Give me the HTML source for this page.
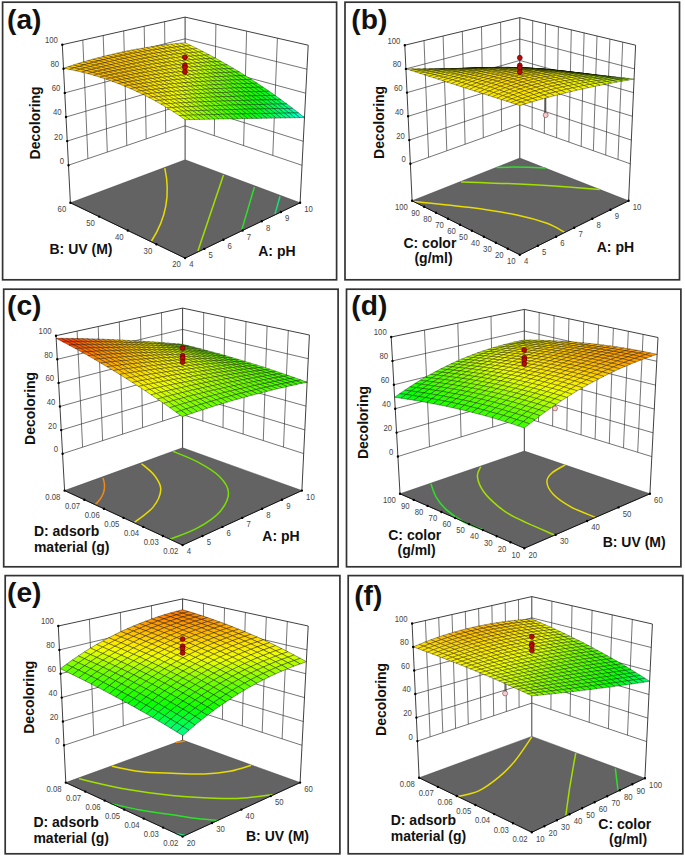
<!DOCTYPE html>
<html lang="en"><head><meta charset="utf-8"><title>Response surface plots (a)-(f)</title>
<style>
html,body{margin:0;padding:0;background:#fff}
body{width:685px;height:856px;overflow:hidden}
svg{display:block}
text{font-family:"Liberation Sans",sans-serif}
.t{font-size:9px;fill:#444}
.b{font-size:14px;font-weight:bold;fill:#111}
.h{font-size:28.2px;font-weight:bold;fill:#111}
</style></head><body>
<svg width="685" height="856" viewBox="0 0 685 856">
<rect width="685" height="856" fill="#fff"/>
<rect x="2.6" y="2.2" width="334" height="277.6" fill="#fff" stroke="#333" stroke-width="1.7"/>
<path d="M70.4 202.8L185.1 258.1L300.1 202.8L185.1 159.8Z" fill="#636363" stroke="#444" stroke-width=".5"/>
<path d="M164.8 168.1Q173.5 207.1 151.5 241" fill="none" stroke="#e8dc00" stroke-width="1.5"/>
<path d="M223.5 174.9L197.9 251" fill="none" stroke="#a2e000" stroke-width="1.5"/>
<path d="M254.4 187L241.6 230.4" fill="none" stroke="#2ee02a" stroke-width="1.5"/>
<path d="M280 196.3L275 214.1" fill="none" stroke="#18e07a" stroke-width="1.5"/>
<path d="M87.9 158.6L82.8 40.1M107.3 152.1L103.2 35.5M126.8 145.5L123.7 30.9M146.2 138.9L144.2 26.3M165.7 132.4L164.6 21.7M272.8 155.4L277.4 38.2M243.6 145.6L246.6 31.2M214.3 135.7L215.9 24.1M68.5 165.2L185.1 125.8L302 165.3M67.2 141.1L185.1 104.1L303.3 141.3M66 117L185.1 82.3L304.5 117.3M64.8 92.9L185.1 60.6L305.7 93.2M63.5 68.8L185.1 38.8L307 69.2" fill="none" stroke="#3a3a3a" stroke-width=".7"/>
<path d="M62.3 44.7L185.1 17.1L308.2 45.2M70.4 202.8L62.3 44.7M185.1 159.8L185.1 17.1M300.1 202.8L308.2 45.2" fill="none" stroke="#2a2a2a" stroke-width=".9"/>
<path d="M70.4 202.8L185.1 258.1L300.1 202.8" fill="none" stroke="#111" stroke-width="1"/>
<g stroke="#000" stroke-opacity=".72" stroke-width=".48" stroke-linejoin="round">
<path d="M186.3 46L191.2 45.6L185.1 42.7L180.2 43.2Z" fill="#f7f300"/>
<path d="M181.5 46.5L186.3 46L180.2 43.2L175.4 43.7Z" fill="#f9ef00"/>
<path d="M192.4 49L197.2 48.6L191.2 45.6L186.3 46Z" fill="#f3fb00"/>
<path d="M176.6 47L181.5 46.5L175.4 43.7L170.5 44.2Z" fill="#fcec00"/>
<path d="M187.6 49.4L192.4 49L186.3 46L181.5 46.5Z" fill="#f5f600"/>
<path d="M198.5 52L203.3 51.7L197.2 48.6L192.4 49Z" fill="#e7ff00"/>
<path d="M171.8 47.5L176.6 47L170.5 44.2L165.7 44.8Z" fill="#fee800"/>
<path d="M182.7 49.8L187.6 49.4L181.5 46.5L176.6 47Z" fill="#f8f200"/>
<path d="M193.6 52.4L198.5 52L192.4 49L187.6 49.4Z" fill="#f1fe00"/>
<path d="M204.5 55.2L209.4 54.9L203.3 51.7L198.5 52Z" fill="#d2ff00"/>
<path d="M166.9 48.1L171.8 47.5L165.7 44.8L160.8 45.4Z" fill="#ffe400"/>
<path d="M177.8 50.3L182.7 49.8L176.6 47L171.8 47.5Z" fill="#faee00"/>
<path d="M188.8 52.8L193.6 52.4L187.6 49.4L182.7 49.8Z" fill="#f4f900"/>
<path d="M199.7 55.5L204.5 55.2L198.5 52L193.6 52.4Z" fill="#dfff00"/>
<path d="M162 48.7L166.9 48.1L160.8 45.4L155.9 46.1Z" fill="#ffde00"/>
<path d="M210.6 58.4L215.4 58.1L209.4 54.9L204.5 55.2Z" fill="#bcff00"/>
<path d="M173 50.9L177.8 50.3L171.8 47.5L166.9 48.1Z" fill="#fceb00"/>
<path d="M183.9 53.2L188.8 52.8L182.7 49.8L177.8 50.3Z" fill="#f6f500"/>
<path d="M194.9 55.9L199.7 55.5L193.6 52.4L188.8 52.8Z" fill="#ecff00"/>
<path d="M157.2 49.4L162 48.7L155.9 46.1L151.1 46.8Z" fill="#ffd900"/>
<path d="M205.7 58.7L210.6 58.4L204.5 55.2L199.7 55.5Z" fill="#caff00"/>
<path d="M168.1 51.4L173 50.9L166.9 48.1L162 48.7Z" fill="#fee700"/>
<path d="M216.6 61.7L221.4 61.5L215.4 58.1L210.6 58.4Z" fill="#a4ff00"/>
<path d="M179.1 53.7L183.9 53.2L177.8 50.3L173 50.9Z" fill="#f8f100"/>
<path d="M190 56.2L194.9 55.9L188.8 52.8L183.9 53.2Z" fill="#f2fc00"/>
<path d="M200.9 59L205.7 58.7L199.7 55.5L194.9 55.9Z" fill="#d7ff00"/>
<path d="M152.3 50.1L157.2 49.4L151.1 46.8L146.2 47.6Z" fill="#ffd500"/>
<path d="M163.3 52L168.1 51.4L162 48.7L157.2 49.4Z" fill="#ffe200"/>
<path d="M211.8 61.9L216.6 61.7L210.6 58.4L205.7 58.7Z" fill="#b3ff00"/>
<path d="M174.2 54.2L179.1 53.7L173 50.9L168.1 51.4Z" fill="#fbed00"/>
<path d="M222.6 65.1L227.5 64.9L221.4 61.5L216.6 61.7Z" fill="#8cff00"/>
<path d="M185.2 56.7L190 56.2L183.9 53.2L179.1 53.7Z" fill="#f4f800"/>
<path d="M147.4 50.8L152.3 50.1L146.2 47.6L141.3 48.4Z" fill="#ffd100"/>
<path d="M196.1 59.3L200.9 59L194.9 55.9L190 56.2Z" fill="#e4ff00"/>
<path d="M158.4 52.7L163.3 52L157.2 49.4L152.3 50.1Z" fill="#ffdd00"/>
<path d="M207 62.2L211.8 61.9L205.7 58.7L200.9 59Z" fill="#c2ff00"/>
<path d="M169.4 54.8L174.2 54.2L168.1 51.4L163.3 52Z" fill="#fdea00"/>
<path d="M217.8 65.3L222.6 65.1L216.6 61.7L211.8 61.9Z" fill="#9cff00"/>
<path d="M180.3 57.1L185.2 56.7L179.1 53.7L174.2 54.2Z" fill="#f7f300"/>
<path d="M228.7 68.6L233.5 68.4L227.5 64.9L222.6 65.1Z" fill="#75ff00"/>
<path d="M142.5 51.6L147.4 50.8L141.3 48.4L136.4 49.2Z" fill="#ffcd00"/>
<path d="M191.2 59.7L196.1 59.3L190 56.2L185.2 56.7Z" fill="#f0ff00"/>
<path d="M153.5 53.4L158.4 52.7L152.3 50.1L147.4 50.8Z" fill="#ffd800"/>
<path d="M202.1 62.5L207 62.2L200.9 59L196.1 59.3Z" fill="#cfff00"/>
<path d="M213 65.6L217.8 65.3L211.8 61.9L207 62.2Z" fill="#abff00"/>
<path d="M164.5 55.4L169.4 54.8L163.3 52L158.4 52.7Z" fill="#ffe600"/>
<path d="M175.4 57.6L180.3 57.1L174.2 54.2L169.4 54.8Z" fill="#f9f000"/>
<path d="M223.9 68.8L228.7 68.6L222.6 65.1L217.8 65.3Z" fill="#83ff00"/>
<path d="M186.4 60.2L191.2 59.7L185.2 56.7L180.3 57.1Z" fill="#f3fa00"/>
<path d="M137.7 52.5L142.5 51.6L136.4 49.2L131.6 50.1Z" fill="#ffca00"/>
<path d="M234.7 72.1L239.5 72L233.5 68.4L228.7 68.6Z" fill="#63ff00"/>
<path d="M148.7 54.1L153.5 53.4L147.4 50.8L142.5 51.6Z" fill="#ffd400"/>
<path d="M197.3 62.9L202.1 62.5L196.1 59.3L191.2 59.7Z" fill="#ddff00"/>
<path d="M159.6 56L164.5 55.4L158.4 52.7L153.5 53.4Z" fill="#ffe100"/>
<path d="M208.2 65.8L213 65.6L207 62.2L202.1 62.5Z" fill="#baff00"/>
<path d="M170.6 58.2L175.4 57.6L169.4 54.8L164.5 55.4Z" fill="#fbec00"/>
<path d="M219 69L223.9 68.8L217.8 65.3L213 65.6Z" fill="#93ff00"/>
<path d="M132.8 53.3L137.7 52.5L131.6 50.1L126.7 51.1Z" fill="#ffc700"/>
<path d="M181.5 60.6L186.4 60.2L180.3 57.1L175.4 57.6Z" fill="#f5f600"/>
<path d="M229.9 72.3L234.7 72.1L228.7 68.6L223.9 68.8Z" fill="#6eff00"/>
<path d="M143.8 54.9L148.7 54.1L142.5 51.6L137.7 52.5Z" fill="#ffd000"/>
<path d="M192.4 63.3L197.3 62.9L191.2 59.7L186.4 60.2Z" fill="#e9ff00"/>
<path d="M240.7 75.8L245.4 75.7L239.5 72L234.7 72.1Z" fill="#50ff00"/>
<path d="M154.8 56.7L159.6 56L153.5 53.4L148.7 54.1Z" fill="#ffdc00"/>
<path d="M203.3 66.1L208.2 65.8L202.1 62.5L197.3 62.9Z" fill="#c8ff00"/>
<path d="M165.7 58.8L170.6 58.2L164.5 55.4L159.6 56Z" fill="#fde900"/>
<path d="M214.2 69.2L219 69L213 65.6L208.2 65.8Z" fill="#a3ff00"/>
<path d="M127.9 54.3L132.8 53.3L126.7 51.1L121.8 52.1Z" fill="#ffc500"/>
<path d="M176.7 61.1L181.5 60.6L175.4 57.6L170.6 58.2Z" fill="#f8f200"/>
<path d="M225.1 72.5L229.9 72.3L223.9 68.8L219 69Z" fill="#7bff00"/>
<path d="M138.9 55.7L143.8 54.9L137.7 52.5L132.8 53.3Z" fill="#ffcd00"/>
<path d="M187.6 63.7L192.4 63.3L186.4 60.2L181.5 60.6Z" fill="#f1fd00"/>
<path d="M235.9 75.9L240.7 75.8L234.7 72.1L229.9 72.3Z" fill="#5cff00"/>
<path d="M149.9 57.4L154.8 56.7L148.7 54.1L143.8 54.9Z" fill="#ffd700"/>
<path d="M198.5 66.5L203.3 66.1L197.3 62.9L192.4 63.3Z" fill="#d5ff00"/>
<path d="M246.6 79.6L251.4 79.4L245.4 75.7L240.7 75.8Z" fill="#3dff00"/>
<path d="M160.9 59.4L165.7 58.8L159.6 56L154.8 56.7Z" fill="#ffe500"/>
<path d="M209.4 69.5L214.2 69.2L208.2 65.8L203.3 66.1Z" fill="#b1ff00"/>
<path d="M123.1 55.3L127.9 54.3L121.8 52.1L116.9 53.2Z" fill="#ffc300"/>
<path d="M171.8 61.6L176.7 61.1L170.6 58.2L165.7 58.8Z" fill="#faee00"/>
<path d="M220.2 72.7L225.1 72.5L219 69L214.2 69.2Z" fill="#8bff00"/>
<path d="M134 56.6L138.9 55.7L132.8 53.3L127.9 54.3Z" fill="#ffc900"/>
<path d="M231.1 76.1L235.9 75.9L229.9 72.3L225.1 72.5Z" fill="#68ff00"/>
<path d="M182.8 64.1L187.6 63.7L181.5 60.6L176.7 61.1Z" fill="#f4f900"/>
<path d="M145 58.2L149.9 57.4L143.8 54.9L138.9 55.7Z" fill="#ffd300"/>
<path d="M193.7 66.8L198.5 66.5L192.4 63.3L187.6 63.7Z" fill="#e2ff00"/>
<path d="M241.9 79.7L246.6 79.6L240.7 75.8L235.9 75.9Z" fill="#4aff00"/>
<path d="M204.6 69.8L209.4 69.5L203.3 66.1L198.5 66.5Z" fill="#c0ff00"/>
<path d="M252.6 83.4L257.4 83.3L251.4 79.4L246.6 79.6Z" fill="#29ff00"/>
<path d="M156 60L160.9 59.4L154.8 56.7L149.9 57.4Z" fill="#ffdf00"/>
<path d="M118.2 56.3L123.1 55.3L116.9 53.2L112.1 54.3Z" fill="#ffc200"/>
<path d="M166.9 62.2L171.8 61.6L165.7 58.8L160.9 59.4Z" fill="#fceb00"/>
<path d="M215.4 72.9L220.2 72.7L214.2 69.2L209.4 69.5Z" fill="#9aff00"/>
<path d="M129.2 57.5L134 56.6L127.9 54.3L123.1 55.3Z" fill="#ffc700"/>
<path d="M177.9 64.6L182.8 64.1L176.7 61.1L171.8 61.6Z" fill="#f6f400"/>
<path d="M226.3 76.3L231.1 76.1L225.1 72.5L220.2 72.7Z" fill="#73ff00"/>
<path d="M140.1 59L145 58.2L138.9 55.7L134 56.6Z" fill="#ffcf00"/>
<path d="M188.8 67.2L193.7 66.8L187.6 63.7L182.8 64.1Z" fill="#efff00"/>
<path d="M237.1 79.8L241.9 79.7L235.9 75.9L231.1 76.1Z" fill="#56ff00"/>
<path d="M151.1 60.7L156 60L149.9 57.4L145 58.2Z" fill="#ffda00"/>
<path d="M199.7 70.1L204.6 69.8L198.5 66.5L193.7 66.8Z" fill="#cdff00"/>
<path d="M247.8 83.5L252.6 83.4L246.6 79.6L241.9 79.7Z" fill="#36ff00"/>
<path d="M113.3 57.4L118.2 56.3L112.1 54.3L107.2 55.4Z" fill="#ffc100"/>
<path d="M162.1 62.8L166.9 62.2L160.9 59.4L156 60Z" fill="#fee700"/>
<path d="M210.6 73.2L215.4 72.9L209.4 69.5L204.6 69.8Z" fill="#a9ff00"/>
<path d="M258.6 87.3L263.3 87.3L257.4 83.3L252.6 83.4Z" fill="#15ff00"/>
<path d="M124.3 58.4L129.2 57.5L123.1 55.3L118.2 56.3Z" fill="#ffc500"/>
<path d="M173 65.1L177.9 64.6L171.8 61.6L166.9 62.2Z" fill="#f9f000"/>
<path d="M221.5 76.5L226.3 76.3L220.2 72.7L215.4 72.9Z" fill="#82ff00"/>
<path d="M135.3 59.8L140.1 59L134 56.6L129.2 57.5Z" fill="#ffcc00"/>
<path d="M184 67.7L188.8 67.2L182.8 64.1L177.9 64.6Z" fill="#f2fb00"/>
<path d="M232.3 80L237.1 79.8L231.1 76.1L226.3 76.3Z" fill="#62ff00"/>
<path d="M146.2 61.5L151.1 60.7L145 58.2L140.1 59Z" fill="#ffd600"/>
<path d="M194.9 70.5L199.7 70.1L193.7 66.8L188.8 67.2Z" fill="#dbff00"/>
<path d="M243.1 83.6L247.8 83.5L241.9 79.7L237.1 79.8Z" fill="#43ff00"/>
<path d="M108.4 58.5L113.3 57.4L107.2 55.4L102.3 56.7Z" fill="#ffc000"/>
<path d="M157.2 63.4L162.1 62.8L156 60L151.1 60.7Z" fill="#ffe300"/>
<path d="M205.8 73.5L210.6 73.2L204.6 69.8L199.7 70.1Z" fill="#b8ff00"/>
<path d="M253.8 87.4L258.6 87.3L252.6 83.4L247.8 83.5Z" fill="#22ff00"/>
<path d="M119.4 59.4L124.3 58.4L118.2 56.3L113.3 57.4Z" fill="#ffc300"/>
<path d="M216.6 76.7L221.5 76.5L215.4 72.9L210.6 73.2Z" fill="#91ff00"/>
<path d="M168.2 65.6L173 65.1L166.9 62.2L162.1 62.8Z" fill="#fbed00"/>
<path d="M264.5 91.4L269.3 91.3L263.3 87.3L258.6 87.3Z" fill="#09ff0d"/>
<path d="M130.4 60.7L135.3 59.8L129.2 57.5L124.3 58.4Z" fill="#ffc900"/>
<path d="M179.1 68.1L184 67.7L177.9 64.6L173 65.1Z" fill="#f5f700"/>
<path d="M227.5 80.2L232.3 80L226.3 76.3L221.5 76.5Z" fill="#6dff00"/>
<path d="M190 70.8L194.9 70.5L188.8 67.2L184 67.7Z" fill="#e7ff00"/>
<path d="M141.4 62.2L146.2 61.5L140.1 59L135.3 59.8Z" fill="#ffd200"/>
<path d="M238.3 83.8L243.1 83.6L237.1 79.8L232.3 80Z" fill="#4fff00"/>
<path d="M103.6 59.7L108.4 58.5L102.3 56.7L97.5 57.9Z" fill="#ffc000"/>
<path d="M152.3 64.1L157.2 63.4L151.1 60.7L146.2 61.5Z" fill="#ffdd00"/>
<path d="M200.9 73.8L205.8 73.5L199.7 70.1L194.9 70.5Z" fill="#c6ff00"/>
<path d="M249 87.5L253.8 87.4L247.8 83.5L243.1 83.6Z" fill="#2fff00"/>
<path d="M114.5 60.5L119.4 59.4L113.3 57.4L108.4 58.5Z" fill="#ffc200"/>
<path d="M163.3 66.2L168.2 65.6L162.1 62.8L157.2 63.4Z" fill="#fde900"/>
<path d="M211.8 77L216.6 76.7L210.6 73.2L205.8 73.5Z" fill="#a1ff00"/>
<path d="M259.7 91.5L264.5 91.4L258.6 87.3L253.8 87.4Z" fill="#0dff00"/>
<path d="M125.5 61.6L130.4 60.7L124.3 58.4L119.4 59.4Z" fill="#ffc600"/>
<path d="M174.3 68.6L179.1 68.1L173 65.1L168.2 65.6Z" fill="#f7f300"/>
<path d="M222.7 80.4L227.5 80.2L221.5 76.5L216.6 76.7Z" fill="#79ff00"/>
<path d="M270.4 95.5L275.2 95.5L269.3 91.3L264.5 91.4Z" fill="#06ff27"/>
<path d="M185.2 71.3L190 70.8L184 67.7L179.1 68.1Z" fill="#f1fe00"/>
<path d="M136.5 63.1L141.4 62.2L135.3 59.8L130.4 60.7Z" fill="#ffce00"/>
<path d="M233.5 83.9L238.3 83.8L232.3 80L227.5 80.2Z" fill="#5bff00"/>
<path d="M147.5 64.8L152.3 64.1L146.2 61.5L141.4 62.2Z" fill="#ffd900"/>
<path d="M98.7 60.9L103.6 59.7L97.5 57.9L92.6 59.2Z" fill="#ffc100"/>
<path d="M196.1 74.1L200.9 73.8L194.9 70.5L190 70.8Z" fill="#d3ff00"/>
<path d="M244.2 87.7L249 87.5L243.1 83.6L238.3 83.8Z" fill="#3bff00"/>
<path d="M109.7 61.6L114.5 60.5L108.4 58.5L103.6 59.7Z" fill="#ffc100"/>
<path d="M158.4 66.8L163.3 66.2L157.2 63.4L152.3 64.1Z" fill="#ffe600"/>
<path d="M207 77.3L211.8 77L205.8 73.5L200.9 73.8Z" fill="#afff00"/>
<path d="M255 91.6L259.7 91.5L253.8 87.4L249 87.5Z" fill="#1aff00"/>
<path d="M120.6 62.6L125.5 61.6L119.4 59.4L114.5 60.5Z" fill="#ffc400"/>
<path d="M169.4 69.1L174.3 68.6L168.2 65.6L163.3 66.2Z" fill="#faef00"/>
<path d="M217.8 80.6L222.7 80.4L216.6 76.7L211.8 77Z" fill="#88ff00"/>
<path d="M265.7 95.6L270.4 95.5L264.5 91.4L259.7 91.5Z" fill="#08ff16"/>
<path d="M131.6 63.9L136.5 63.1L130.4 60.7L125.5 61.6Z" fill="#ffcb00"/>
<path d="M180.3 71.7L185.2 71.3L179.1 68.1L174.3 68.6Z" fill="#f3f900"/>
<path d="M228.7 84.1L233.5 83.9L227.5 80.2L222.7 80.4Z" fill="#67ff00"/>
<path d="M276.3 99.7L281.1 99.7L275.2 95.5L270.4 95.5Z" fill="#03ff42"/>
<path d="M93.8 62.2L98.7 60.9L92.6 59.2L87.8 60.6Z" fill="#ffc200"/>
<path d="M142.6 65.6L147.5 64.8L141.4 62.2L136.5 63.1Z" fill="#ffd400"/>
<path d="M191.3 74.5L196.1 74.1L190 70.8L185.2 71.3Z" fill="#e0ff00"/>
<path d="M239.5 87.8L244.2 87.7L238.3 83.8L233.5 83.9Z" fill="#48ff00"/>
<path d="M104.8 62.7L109.7 61.6L103.6 59.7L98.7 60.9Z" fill="#ffc000"/>
<path d="M153.6 67.5L158.4 66.8L152.3 64.1L147.5 64.8Z" fill="#ffe000"/>
<path d="M202.2 77.6L207 77.3L200.9 73.8L196.1 74.1Z" fill="#beff00"/>
<path d="M250.2 91.7L255 91.6L249 87.5L244.2 87.7Z" fill="#27ff00"/>
<path d="M115.8 63.6L120.6 62.6L114.5 60.5L109.7 61.6Z" fill="#ffc200"/>
<path d="M164.5 69.7L169.4 69.1L163.3 66.2L158.4 66.8Z" fill="#fceb00"/>
<path d="M260.9 95.7L265.7 95.6L259.7 91.5L255 91.6Z" fill="#09ff06"/>
<path d="M213 80.8L217.8 80.6L211.8 77L207 77.3Z" fill="#98ff00"/>
<path d="M126.7 64.8L131.6 63.9L125.5 61.6L120.6 62.6Z" fill="#ffc800"/>
<path d="M175.5 72.2L180.3 71.7L174.3 68.6L169.4 69.1Z" fill="#f6f500"/>
<path d="M223.9 84.3L228.7 84.1L222.7 80.4L217.8 80.6Z" fill="#72ff00"/>
<path d="M271.6 99.8L276.3 99.7L270.4 95.5L265.7 95.6Z" fill="#05ff31"/>
<path d="M89 63.5L93.8 62.2L87.8 60.6L82.9 62Z" fill="#ffc300"/>
<path d="M137.7 66.3L142.6 65.6L136.5 63.1L131.6 63.9Z" fill="#ffd000"/>
<path d="M234.7 87.9L239.5 87.8L233.5 83.9L228.7 84.1Z" fill="#54ff00"/>
<path d="M282.2 104.1L286.9 104L281.1 99.7L276.3 99.7Z" fill="#01ff5e"/>
<path d="M186.4 74.9L191.3 74.5L185.2 71.3L180.3 71.7Z" fill="#edff00"/>
<path d="M99.9 63.9L104.8 62.7L98.7 60.9L93.8 62.2Z" fill="#ffc000"/>
<path d="M148.7 68.2L153.6 67.5L147.5 64.8L142.6 65.6Z" fill="#ffdb00"/>
<path d="M197.3 77.9L202.2 77.6L196.1 74.1L191.3 74.5Z" fill="#ccff00"/>
<path d="M245.4 91.8L250.2 91.7L244.2 87.7L239.5 87.8Z" fill="#34ff00"/>
<path d="M110.9 64.7L115.8 63.6L109.7 61.6L104.8 62.7Z" fill="#ffc100"/>
<path d="M159.7 70.3L164.5 69.7L158.4 66.8L153.6 67.5Z" fill="#fee800"/>
<path d="M208.2 81.1L213 80.8L207 77.3L202.2 77.6Z" fill="#a7ff00"/>
<path d="M256.2 95.8L260.9 95.7L255 91.6L250.2 91.7Z" fill="#12ff00"/>
<path d="M121.9 65.8L126.7 64.8L120.6 62.6L115.8 63.6Z" fill="#ffc500"/>
<path d="M170.6 72.7L175.5 72.2L169.4 69.1L164.5 69.7Z" fill="#f8f100"/>
<path d="M219.1 84.5L223.9 84.3L217.8 80.6L213 80.8Z" fill="#7fff00"/>
<path d="M266.9 99.9L271.6 99.8L265.7 95.6L260.9 95.7Z" fill="#07ff20"/>
<path d="M84.1 64.9L89 63.5L82.9 62L78 63.5Z" fill="#ffc500"/>
<path d="M132.9 67.2L137.7 66.3L131.6 63.9L126.7 64.8Z" fill="#ffcc00"/>
<path d="M181.6 75.3L186.4 74.9L180.3 71.7L175.5 72.2Z" fill="#f2fc00"/>
<path d="M229.9 88.1L234.7 87.9L228.7 84.1L223.9 84.3Z" fill="#60ff00"/>
<path d="M277.5 104.1L282.2 104.1L276.3 99.7L271.6 99.8Z" fill="#02ff4d"/>
<path d="M95.1 65.2L99.9 63.9L93.8 62.2L89 63.5Z" fill="#ffc100"/>
<path d="M143.8 68.9L148.7 68.2L142.6 65.6L137.7 66.3Z" fill="#ffd600"/>
<path d="M192.5 78.2L197.3 77.9L191.3 74.5L186.4 74.9Z" fill="#d9ff00"/>
<path d="M240.7 91.9L245.4 91.8L239.5 87.8L234.7 87.9Z" fill="#41ff00"/>
<path d="M288.1 108.5L292.8 108.4L286.9 104L282.2 104.1Z" fill="#00ff81"/>
<path d="M106 65.8L110.9 64.7L104.8 62.7L99.9 63.9Z" fill="#ffc000"/>
<path d="M154.8 70.9L159.7 70.3L153.6 67.5L148.7 68.2Z" fill="#ffe300"/>
<path d="M203.4 81.4L208.2 81.1L202.2 77.6L197.3 77.9Z" fill="#b6ff00"/>
<path d="M251.4 95.9L256.2 95.8L250.2 91.7L245.4 91.8Z" fill="#20ff00"/>
<path d="M117 66.8L121.9 65.8L115.8 63.6L110.9 64.7Z" fill="#ffc300"/>
<path d="M165.8 73.2L170.6 72.7L164.5 69.7L159.7 70.3Z" fill="#fbed00"/>
<path d="M214.2 84.7L219.1 84.5L213 80.8L208.2 81.1Z" fill="#8fff00"/>
<path d="M262.1 100L266.9 99.9L260.9 95.7L256.2 95.8Z" fill="#08ff10"/>
<path d="M79.3 66.4L84.1 64.9L78 63.5L73.2 65.1Z" fill="#ffc700"/>
<path d="M128 68L132.9 67.2L126.7 64.8L121.9 65.8Z" fill="#ffc900"/>
<path d="M176.7 75.8L181.6 75.3L175.5 72.2L170.6 72.7Z" fill="#f5f700"/>
<path d="M225.1 88.3L229.9 88.1L223.9 84.3L219.1 84.5Z" fill="#6bff00"/>
<path d="M272.8 104.2L277.5 104.1L271.6 99.8L266.9 99.9Z" fill="#04ff3c"/>
<path d="M90.2 66.5L95.1 65.2L89 63.5L84.1 64.9Z" fill="#ffc200"/>
<path d="M139 69.7L143.8 68.9L137.7 66.3L132.9 67.2Z" fill="#ffd200"/>
<path d="M187.6 78.6L192.5 78.2L186.4 74.9L181.6 75.3Z" fill="#e6ff00"/>
<path d="M235.9 92L240.7 91.9L234.7 87.9L229.9 88.1Z" fill="#4dff00"/>
<path d="M283.4 108.6L288.1 108.5L282.2 104.1L277.5 104.1Z" fill="#00ff6b"/>
<path d="M149.9 71.6L154.8 70.9L148.7 68.2L143.8 68.9Z" fill="#ffde00"/>
<path d="M246.6 96L251.4 95.9L245.4 91.8L240.7 91.9Z" fill="#2cff00"/>
<path d="M101.2 67L106 65.8L99.9 63.9L95.1 65.2Z" fill="#ffc000"/>
<path d="M198.5 81.7L203.4 81.4L197.3 77.9L192.5 78.2Z" fill="#c4ff00"/>
<path d="M294 113L298.7 113L292.8 108.4L288.1 108.5Z" fill="#00ffa6"/>
<path d="M112.1 67.8L117 66.8L110.9 64.7L106 65.8Z" fill="#ffc100"/>
<path d="M160.9 73.8L165.8 73.2L159.7 70.3L154.8 70.9Z" fill="#fde900"/>
<path d="M209.4 85L214.2 84.7L208.2 81.1L203.4 81.4Z" fill="#9fff00"/>
<path d="M257.3 100.1L262.1 100L256.2 95.8L251.4 95.9Z" fill="#0aff00"/>
<path d="M123.1 69L128 68L121.9 65.8L117 66.8Z" fill="#ffc600"/>
<path d="M220.3 88.5L225.1 88.3L219.1 84.5L214.2 84.7Z" fill="#77ff00"/>
<path d="M74.4 67.9L79.3 66.4L73.2 65.1L68.4 66.6Z" fill="#ffca00"/>
<path d="M171.9 76.3L176.7 75.8L170.6 72.7L165.8 73.2Z" fill="#f7f300"/>
<path d="M268 104.3L272.8 104.2L266.9 99.9L262.1 100Z" fill="#06ff2b"/>
<path d="M85.3 67.8L90.2 66.5L84.1 64.9L79.3 66.4Z" fill="#ffc300"/>
<path d="M134.1 70.4L139 69.7L132.9 67.2L128 68Z" fill="#ffce00"/>
<path d="M182.8 79L187.6 78.6L181.6 75.3L176.7 75.8Z" fill="#f1fe00"/>
<path d="M231.1 92.2L235.9 92L229.9 88.1L225.1 88.3Z" fill="#59ff00"/>
<path d="M278.7 108.6L283.4 108.6L277.5 104.1L272.8 104.2Z" fill="#01ff58"/>
<path d="M96.3 68.2L101.2 67L95.1 65.2L90.2 66.5Z" fill="#ffc000"/>
<path d="M145.1 72.3L149.9 71.6L143.8 68.9L139 69.7Z" fill="#ffd800"/>
<path d="M193.7 82L198.5 81.7L192.5 78.2L187.6 78.6Z" fill="#d2ff00"/>
<path d="M241.8 96.1L246.6 96L240.7 91.9L235.9 92Z" fill="#39ff00"/>
<path d="M289.2 113.1L294 113L288.1 108.5L283.4 108.6Z" fill="#00ff90"/>
<path d="M252.6 100.2L257.3 100.1L251.4 95.9L246.6 96Z" fill="#17ff00"/>
<path d="M107.2 68.9L112.1 67.8L106 65.8L101.2 67Z" fill="#ffc000"/>
<path d="M156 74.4L160.9 73.8L154.8 70.9L149.9 71.6Z" fill="#ffe600"/>
<path d="M204.6 85.3L209.4 85L203.4 81.4L198.5 81.7Z" fill="#aeff00"/>
<path d="M299.8 117.7L304.5 117.6L298.7 113L294 113Z" fill="#00ffcd"/>
<path d="M69.6 69.4L74.4 67.9L68.4 66.6L63.5 68.3Z" fill="#ffcd00"/>
<path d="M118.2 69.9L123.1 69L117 66.8L112.1 67.8Z" fill="#ffc300"/>
<path d="M215.4 88.7L220.3 88.5L214.2 84.7L209.4 85Z" fill="#86ff00"/>
<path d="M167 76.8L171.9 76.3L165.8 73.2L160.9 73.8Z" fill="#faef00"/>
<path d="M263.3 104.4L268 104.3L262.1 100L257.3 100.1Z" fill="#07ff1a"/>
<path d="M80.5 69.2L85.3 67.8L79.3 66.4L74.4 67.9Z" fill="#ffc500"/>
<path d="M177.9 79.4L182.8 79L176.7 75.8L171.9 76.3Z" fill="#f3f900"/>
<path d="M226.3 92.4L231.1 92.2L225.1 88.3L220.3 88.5Z" fill="#65ff00"/>
<path d="M129.2 71.3L134.1 70.4L128 68L123.1 69Z" fill="#ffca00"/>
<path d="M273.9 108.7L278.7 108.6L272.8 104.2L268 104.3Z" fill="#03ff47"/>
<path d="M140.2 73L145.1 72.3L139 69.7L134.1 70.4Z" fill="#ffd400"/>
<path d="M91.4 69.4L96.3 68.2L90.2 66.5L85.3 67.8Z" fill="#ffc000"/>
<path d="M188.9 82.4L193.7 82L187.6 78.6L182.8 79Z" fill="#dfff00"/>
<path d="M237.1 96.2L241.8 96.1L235.9 92L231.1 92.2Z" fill="#45ff00"/>
<path d="M284.5 113.2L289.2 113.1L283.4 108.6L278.7 108.6Z" fill="#00ff79"/>
<path d="M151.2 75L156 74.4L149.9 71.6L145.1 72.3Z" fill="#ffe000"/>
<path d="M199.8 85.5L204.6 85.3L198.5 81.7L193.7 82Z" fill="#bcff00"/>
<path d="M102.4 70L107.2 68.9L101.2 67L96.3 68.2Z" fill="#ffbf00"/>
<path d="M247.8 100.3L252.6 100.2L246.6 96L241.8 96.1Z" fill="#24ff00"/>
<path d="M295.1 117.8L299.8 117.7L294 113L289.2 113.1Z" fill="#00ffb6"/>
<path d="M113.3 70.9L118.2 69.9L112.1 67.8L107.2 68.9Z" fill="#ffc100"/>
<path d="M258.5 104.5L263.3 104.4L257.3 100.1L252.6 100.2Z" fill="#09ff0a"/>
<path d="M162.1 77.3L167 76.8L160.9 73.8L156 74.4Z" fill="#fceb00"/>
<path d="M210.6 88.9L215.4 88.7L209.4 85L204.6 85.3Z" fill="#96ff00"/>
<path d="M75.6 70.7L80.5 69.2L74.4 67.9L69.6 69.4Z" fill="#ffc700"/>
<path d="M173.1 79.9L177.9 79.4L171.9 76.3L167 76.8Z" fill="#f6f500"/>
<path d="M221.5 92.6L226.3 92.4L220.3 88.5L215.4 88.7Z" fill="#70ff00"/>
<path d="M124.3 72.2L129.2 71.3L123.1 69L118.2 69.9Z" fill="#ffc700"/>
<path d="M269.2 108.8L273.9 108.7L268 104.3L263.3 104.4Z" fill="#05ff36"/>
<path d="M86.5 70.7L91.4 69.4L85.3 67.8L80.5 69.2Z" fill="#ffc100"/>
<path d="M135.3 73.8L140.2 73L134.1 70.4L129.2 71.3Z" fill="#ffcf00"/>
<path d="M184 82.7L188.9 82.4L182.8 79L177.9 79.4Z" fill="#ecff00"/>
<path d="M232.3 96.4L237.1 96.2L231.1 92.2L226.3 92.4Z" fill="#52ff00"/>
<path d="M279.8 113.3L284.5 113.2L278.7 108.6L273.9 108.7Z" fill="#00ff64"/>
<path d="M146.3 75.7L151.2 75L145.1 72.3L140.2 73Z" fill="#ffda00"/>
<path d="M194.9 85.9L199.8 85.5L193.7 82L188.9 82.4Z" fill="#caff00"/>
<path d="M290.4 117.8L295.1 117.8L289.2 113.1L284.5 113.2Z" fill="#00ff9f"/>
<path d="M97.5 71.2L102.4 70L96.3 68.2L91.4 69.4Z" fill="#ffbf00"/>
<path d="M243 100.4L247.8 100.3L241.8 96.1L237.1 96.2Z" fill="#31ff00"/>
<path d="M108.5 71.9L113.3 70.9L107.2 68.9L102.4 70Z" fill="#ffbf00"/>
<path d="M157.3 77.9L162.1 77.3L156 74.4L151.2 75Z" fill="#fee700"/>
<path d="M205.8 89.2L210.6 88.9L204.6 85.3L199.8 85.5Z" fill="#a5ff00"/>
<path d="M253.8 104.6L258.5 104.5L252.6 100.2L247.8 100.3Z" fill="#0fff00"/>
<path d="M119.4 73.1L124.3 72.2L118.2 69.9L113.3 70.9Z" fill="#ffc400"/>
<path d="M168.2 80.4L173.1 79.9L167 76.8L162.1 77.3Z" fill="#f8f100"/>
<path d="M216.6 92.8L221.5 92.6L215.4 88.7L210.6 88.9Z" fill="#7dff00"/>
<path d="M264.4 108.9L269.2 108.8L263.3 104.4L258.5 104.5Z" fill="#06ff25"/>
<path d="M81.7 72.1L86.5 70.7L80.5 69.2L75.6 70.7Z" fill="#ffc200"/>
<path d="M130.4 74.6L135.3 73.8L129.2 71.3L124.3 72.2Z" fill="#ffcb00"/>
<path d="M179.2 83.2L184 82.7L177.9 79.4L173.1 79.9Z" fill="#f2fc00"/>
<path d="M227.5 96.5L232.3 96.4L226.3 92.4L221.5 92.6Z" fill="#5dff00"/>
<path d="M275.1 113.3L279.8 113.3L273.9 108.7L269.2 108.8Z" fill="#02ff52"/>
<path d="M92.6 72.4L97.5 71.2L91.4 69.4L86.5 70.7Z" fill="#ffbe00"/>
<path d="M141.4 76.4L146.3 75.7L140.2 73L135.3 73.8Z" fill="#ffd500"/>
<path d="M190.1 86.2L194.9 85.9L188.9 82.4L184 82.7Z" fill="#d8ff00"/>
<path d="M238.2 100.5L243 100.4L237.1 96.2L232.3 96.4Z" fill="#3eff00"/>
<path d="M285.7 117.9L290.4 117.8L284.5 113.2L279.8 113.3Z" fill="#00ff89"/>
<path d="M103.6 73L108.5 71.9L102.4 70L97.5 71.2Z" fill="#ffbe00"/>
<path d="M152.4 78.5L157.3 77.9L151.2 75L146.3 75.7Z" fill="#ffe200"/>
<path d="M201 89.5L205.8 89.2L199.8 85.5L194.9 85.9Z" fill="#b4ff00"/>
<path d="M249 104.7L253.8 104.6L247.8 100.3L243 100.4Z" fill="#1cff00"/>
<path d="M114.6 74L119.4 73.1L113.3 70.9L108.5 71.9Z" fill="#ffc100"/>
<path d="M163.4 80.9L168.2 80.4L162.1 77.3L157.3 77.9Z" fill="#fbed00"/>
<path d="M211.8 93L216.6 92.8L210.6 88.9L205.8 89.2Z" fill="#8dff00"/>
<path d="M259.7 109L264.4 108.9L258.5 104.5L253.8 104.6Z" fill="#08ff15"/>
<path d="M125.6 75.4L130.4 74.6L124.3 72.2L119.4 73.1Z" fill="#ffc700"/>
<path d="M174.3 83.6L179.2 83.2L173.1 79.9L168.2 80.4Z" fill="#f5f700"/>
<path d="M222.7 96.7L227.5 96.5L221.5 92.6L216.6 92.8Z" fill="#69ff00"/>
<path d="M270.4 113.4L275.1 113.3L269.2 108.8L264.4 108.9Z" fill="#03ff41"/>
<path d="M87.8 73.6L92.6 72.4L86.5 70.7L81.7 72.1Z" fill="#ffbf00"/>
<path d="M136.5 77.1L141.4 76.4L135.3 73.8L130.4 74.6Z" fill="#ffd000"/>
<path d="M185.2 86.5L190.1 86.2L184 82.7L179.2 83.2Z" fill="#e5ff00"/>
<path d="M233.5 100.6L238.2 100.5L232.3 96.4L227.5 96.5Z" fill="#4aff00"/>
<path d="M281 118L285.7 117.9L279.8 113.3L275.1 113.3Z" fill="#00ff73"/>
<path d="M98.7 74.1L103.6 73L97.5 71.2L92.6 72.4Z" fill="#ffbd00"/>
<path d="M147.5 79.1L152.4 78.5L146.3 75.7L141.4 76.4Z" fill="#ffdc00"/>
<path d="M196.1 89.8L201 89.5L194.9 85.9L190.1 86.2Z" fill="#c3ff00"/>
<path d="M244.2 104.8L249 104.7L243 100.4L238.2 100.5Z" fill="#29ff00"/>
<path d="M109.7 75L114.6 74L108.5 71.9L103.6 73Z" fill="#ffbf00"/>
<path d="M158.5 81.4L163.4 80.9L157.3 77.9L152.4 78.5Z" fill="#fde900"/>
<path d="M207 93.2L211.8 93L205.8 89.2L201 89.5Z" fill="#9cff00"/>
<path d="M254.9 109L259.7 109L253.8 104.6L249 104.7Z" fill="#0aff05"/>
<path d="M120.7 76.3L125.6 75.4L119.4 73.1L114.6 74Z" fill="#ffc400"/>
<path d="M217.9 96.9L222.7 96.7L216.6 92.8L211.8 93Z" fill="#75ff00"/>
<path d="M169.4 84L174.3 83.6L168.2 80.4L163.4 80.9Z" fill="#f7f300"/>
<path d="M265.6 113.5L270.4 113.4L264.4 108.9L259.7 109Z" fill="#05ff31"/>
<path d="M276.2 118.1L281 118L275.1 113.3L270.4 113.4Z" fill="#01ff5e"/>
<path d="M131.7 77.9L136.5 77.1L130.4 74.6L125.6 75.4Z" fill="#ffcc00"/>
<path d="M180.4 86.9L185.2 86.5L179.2 83.2L174.3 83.6Z" fill="#f1fe00"/>
<path d="M228.7 100.8L233.5 100.6L227.5 96.5L222.7 96.7Z" fill="#56ff00"/>
<path d="M93.8 75.3L98.7 74.1L92.6 72.4L87.8 73.6Z" fill="#ffbc00"/>
<path d="M142.6 79.8L147.5 79.1L141.4 76.4L136.5 77.1Z" fill="#ffd700"/>
<path d="M191.3 90.1L196.1 89.8L190.1 86.2L185.2 86.5Z" fill="#d1ff00"/>
<path d="M239.4 104.9L244.2 104.8L238.2 100.5L233.5 100.6Z" fill="#36ff00"/>
<path d="M153.6 82L158.5 81.4L152.4 78.5L147.5 79.1Z" fill="#ffe500"/>
<path d="M202.2 93.5L207 93.2L201 89.5L196.1 89.8Z" fill="#acff00"/>
<path d="M250.2 109.1L254.9 109L249 104.7L244.2 104.8Z" fill="#13ff00"/>
<path d="M104.8 76.1L109.7 75L103.6 73L98.7 74.1Z" fill="#ffbd00"/>
<path d="M115.8 77.2L120.7 76.3L114.6 74L109.7 75Z" fill="#ffc100"/>
<path d="M213 97.1L217.9 96.9L211.8 93L207 93.2Z" fill="#83ff00"/>
<path d="M164.6 84.5L169.4 84L163.4 80.9L158.5 81.4Z" fill="#faef00"/>
<path d="M260.9 113.6L265.6 113.5L259.7 109L254.9 109Z" fill="#07ff20"/>
<path d="M126.8 78.7L131.7 77.9L125.6 75.4L120.7 76.3Z" fill="#ffc800"/>
<path d="M175.5 87.3L180.4 86.9L174.3 83.6L169.4 84Z" fill="#f3f900"/>
<path d="M223.9 101L228.7 100.8L222.7 96.7L217.9 96.9Z" fill="#62ff00"/>
<path d="M271.5 118.1L276.2 118.1L270.4 113.4L265.6 113.5Z" fill="#02ff4d"/>
<path d="M186.4 90.4L191.3 90.1L185.2 86.5L180.4 86.9Z" fill="#dfff00"/>
<path d="M137.8 80.5L142.6 79.8L136.5 77.1L131.7 77.9Z" fill="#ffd200"/>
<path d="M234.6 105L239.4 104.9L233.5 100.6L228.7 100.8Z" fill="#42ff00"/>
<path d="M99.9 77.2L104.8 76.1L98.7 74.1L93.8 75.3Z" fill="#ffbb00"/>
<path d="M148.7 82.6L153.6 82L147.5 79.1L142.6 79.8Z" fill="#ffdf00"/>
<path d="M197.3 93.7L202.2 93.5L196.1 89.8L191.3 90.1Z" fill="#bbff00"/>
<path d="M245.4 109.2L250.2 109.1L244.2 104.8L239.4 104.9Z" fill="#21ff00"/>
<path d="M110.9 78.1L115.8 77.2L109.7 75L104.8 76.1Z" fill="#ffbe00"/>
<path d="M208.2 97.3L213 97.1L207 93.2L202.2 93.5Z" fill="#93ff00"/>
<path d="M159.7 85L164.6 84.5L158.5 81.4L153.6 82Z" fill="#fceb00"/>
<path d="M256.1 113.6L260.9 113.6L254.9 109L250.2 109.1Z" fill="#08ff10"/>
<path d="M121.9 79.5L126.8 78.7L120.7 76.3L115.8 77.2Z" fill="#ffc400"/>
<path d="M170.7 87.7L175.5 87.3L169.4 84L164.6 84.5Z" fill="#f6f500"/>
<path d="M219.1 101.1L223.9 101L217.9 96.9L213 97.1Z" fill="#6eff00"/>
<path d="M266.8 118.2L271.5 118.1L265.6 113.5L260.9 113.6Z" fill="#04ff3d"/>
<path d="M181.6 90.8L186.4 90.4L180.4 86.9L175.5 87.3Z" fill="#ecff00"/>
<path d="M229.9 105.1L234.6 105L228.7 100.8L223.9 101Z" fill="#4fff00"/>
<path d="M132.9 81.2L137.8 80.5L131.7 77.9L126.8 78.7Z" fill="#ffcd00"/>
<path d="M143.9 83.2L148.7 82.6L142.6 79.8L137.8 80.5Z" fill="#ffd800"/>
<path d="M192.5 94L197.3 93.7L191.3 90.1L186.4 90.4Z" fill="#c9ff00"/>
<path d="M240.6 109.3L245.4 109.2L239.4 104.9L234.6 105Z" fill="#2dff00"/>
<path d="M106 79.1L110.9 78.1L104.8 76.1L99.9 77.2Z" fill="#ffbc00"/>
<path d="M203.4 97.5L208.2 97.3L202.2 93.5L197.3 93.7Z" fill="#a3ff00"/>
<path d="M154.8 85.5L159.7 85L153.6 82L148.7 82.6Z" fill="#ffe700"/>
<path d="M251.3 113.7L256.1 113.6L250.2 109.1L245.4 109.2Z" fill="#0aff00"/>
<path d="M117 80.4L121.9 79.5L115.8 77.2L110.9 78.1Z" fill="#ffc000"/>
<path d="M165.8 88.2L170.7 87.7L164.6 84.5L159.7 85Z" fill="#f9f000"/>
<path d="M214.2 101.3L219.1 101.1L213 97.1L208.2 97.3Z" fill="#7aff00"/>
<path d="M262 118.3L266.8 118.2L260.9 113.6L256.1 113.6Z" fill="#06ff2c"/>
<path d="M176.7 91.1L181.6 90.8L175.5 87.3L170.7 87.7Z" fill="#f2fc00"/>
<path d="M225.1 105.3L229.9 105.1L223.9 101L219.1 101.1Z" fill="#5bff00"/>
<path d="M128 81.9L132.9 81.2L126.8 78.7L121.9 79.5Z" fill="#ffc800"/>
<path d="M139 83.9L143.9 83.2L137.8 80.5L132.9 81.2Z" fill="#ffd300"/>
<path d="M187.7 94.3L192.5 94L186.4 90.4L181.6 90.8Z" fill="#d8ff00"/>
<path d="M235.8 109.5L240.6 109.3L234.6 105L229.9 105.1Z" fill="#3aff00"/>
<path d="M150 86.1L154.8 85.5L148.7 82.6L143.9 83.2Z" fill="#ffe100"/>
<path d="M198.6 97.8L203.4 97.5L197.3 93.7L192.5 94Z" fill="#b3ff00"/>
<path d="M246.6 113.8L251.3 113.7L245.4 109.2L240.6 109.3Z" fill="#18ff00"/>
<path d="M112.1 81.3L117 80.4L110.9 78.1L106 79.1Z" fill="#ffbd00"/>
<path d="M160.9 88.7L165.8 88.2L159.7 85L154.8 85.5Z" fill="#fbec00"/>
<path d="M209.4 101.5L214.2 101.3L208.2 97.3L203.4 97.5Z" fill="#8aff00"/>
<path d="M257.3 118.4L262 118.3L256.1 113.6L251.3 113.7Z" fill="#07ff1b"/>
<path d="M123.1 82.7L128 81.9L121.9 79.5L117 80.4Z" fill="#ffc400"/>
<path d="M171.9 91.5L176.7 91.1L170.7 87.7L165.8 88.2Z" fill="#f5f700"/>
<path d="M220.3 105.4L225.1 105.3L219.1 101.1L214.2 101.3Z" fill="#67ff00"/>
<path d="M134.1 84.5L139 83.9L132.9 81.2L128 81.9Z" fill="#ffcd00"/>
<path d="M182.8 94.6L187.7 94.3L181.6 90.8L176.7 91.1Z" fill="#e5ff00"/>
<path d="M231 109.6L235.8 109.5L229.9 105.1L225.1 105.3Z" fill="#47ff00"/>
<path d="M145.1 86.7L150 86.1L143.9 83.2L139 83.9Z" fill="#ffda00"/>
<path d="M193.7 98L198.6 97.8L192.5 94L187.7 94.3Z" fill="#c2ff00"/>
<path d="M241.8 113.9L246.6 113.8L240.6 109.3L235.8 109.5Z" fill="#25ff00"/>
<path d="M156.1 89.2L160.9 88.7L154.8 85.5L150 86.1Z" fill="#fee800"/>
<path d="M204.6 101.7L209.4 101.5L203.4 97.5L198.6 97.8Z" fill="#9aff00"/>
<path d="M252.5 118.4L257.3 118.4L251.3 113.7L246.6 113.8Z" fill="#09ff0b"/>
<path d="M118.2 83.6L123.1 82.7L117 80.4L112.1 81.3Z" fill="#ffc000"/>
<path d="M167 91.9L171.9 91.5L165.8 88.2L160.9 88.7Z" fill="#f8f200"/>
<path d="M215.4 105.6L220.3 105.4L214.2 101.3L209.4 101.5Z" fill="#72ff00"/>
<path d="M129.2 85.3L134.1 84.5L128 81.9L123.1 82.7Z" fill="#ffc800"/>
<path d="M178 95L182.8 94.6L176.7 91.1L171.9 91.5Z" fill="#f1fe00"/>
<path d="M226.3 109.7L231 109.6L225.1 105.3L220.3 105.4Z" fill="#53ff00"/>
<path d="M140.2 87.3L145.1 86.7L139 83.9L134.1 84.5Z" fill="#ffd400"/>
<path d="M188.9 98.3L193.7 98L187.7 94.3L182.8 94.6Z" fill="#d0ff00"/>
<path d="M237 114L241.8 113.9L235.8 109.5L231 109.6Z" fill="#32ff00"/>
<path d="M199.8 101.9L204.6 101.7L198.6 97.8L193.7 98Z" fill="#aaff00"/>
<path d="M247.8 118.5L252.5 118.4L246.6 113.8L241.8 113.9Z" fill="#0eff00"/>
<path d="M151.2 89.7L156.1 89.2L150 86.1L145.1 86.7Z" fill="#ffe300"/>
<path d="M162.2 92.4L167 91.9L160.9 88.7L156.1 89.2Z" fill="#faee00"/>
<path d="M210.6 105.8L215.4 105.6L209.4 101.5L204.6 101.7Z" fill="#80ff00"/>
<path d="M124.3 86L129.2 85.3L123.1 82.7L118.2 83.6Z" fill="#ffc300"/>
<path d="M173.1 95.3L178 95L171.9 91.5L167 91.9Z" fill="#f4f900"/>
<path d="M221.4 109.8L226.3 109.7L220.3 105.4L215.4 105.6Z" fill="#5fff00"/>
<path d="M184 98.6L188.9 98.3L182.8 94.6L178 95Z" fill="#dfff00"/>
<path d="M232.2 114.1L237 114L231 109.6L226.3 109.7Z" fill="#3eff00"/>
<path d="M135.3 87.9L140.2 87.3L134.1 84.5L129.2 85.3Z" fill="#ffce00"/>
<path d="M146.3 90.2L151.2 89.7L145.1 86.7L140.2 87.3Z" fill="#ffdc00"/>
<path d="M194.9 102.1L199.8 101.9L193.7 98L188.9 98.3Z" fill="#b9ff00"/>
<path d="M243 118.6L247.8 118.5L241.8 113.9L237 114Z" fill="#1cff00"/>
<path d="M157.3 92.8L162.2 92.4L156.1 89.2L151.2 89.7Z" fill="#fde900"/>
<path d="M205.8 105.9L210.6 105.8L204.6 101.7L199.8 101.9Z" fill="#91ff00"/>
<path d="M168.2 95.7L173.1 95.3L167 91.9L162.2 92.4Z" fill="#f7f400"/>
<path d="M216.6 110L221.4 109.8L215.4 105.6L210.6 105.8Z" fill="#6bff00"/>
<path d="M130.4 88.6L135.3 87.9L129.2 85.3L124.3 86Z" fill="#ffc900"/>
<path d="M179.2 98.9L184 98.6L178 95L173.1 95.3Z" fill="#edff00"/>
<path d="M227.4 114.2L232.2 114.1L226.3 109.7L221.4 109.8Z" fill="#4bff00"/>
<path d="M238.2 118.7L243 118.6L237 114L232.2 114.1Z" fill="#29ff00"/>
<path d="M141.4 90.8L146.3 90.2L140.2 87.3L135.3 87.9Z" fill="#ffd500"/>
<path d="M190.1 102.4L194.9 102.1L188.9 98.3L184 98.6Z" fill="#c9ff00"/>
<path d="M152.4 93.3L157.3 92.8L151.2 89.7L146.3 90.2Z" fill="#ffe500"/>
<path d="M201 106.1L205.8 105.9L199.8 101.9L194.9 102.1Z" fill="#a1ff00"/>
<path d="M163.4 96.1L168.2 95.7L162.2 92.4L157.3 92.8Z" fill="#f9ef00"/>
<path d="M211.8 110.1L216.6 110L210.6 105.8L205.8 105.9Z" fill="#77ff00"/>
<path d="M174.3 99.2L179.2 98.9L173.1 95.3L168.2 95.7Z" fill="#f2fb00"/>
<path d="M222.6 114.3L227.4 114.2L221.4 109.8L216.6 110Z" fill="#57ff00"/>
<path d="M136.6 91.4L141.4 90.8L135.3 87.9L130.4 88.6Z" fill="#ffcf00"/>
<path d="M185.2 102.6L190.1 102.4L184 98.6L179.2 98.9Z" fill="#d8ff00"/>
<path d="M233.4 118.7L238.2 118.7L232.2 114.1L227.4 114.2Z" fill="#36ff00"/>
<path d="M147.5 93.8L152.4 93.3L146.3 90.2L141.4 90.8Z" fill="#ffdd00"/>
<path d="M196.1 106.3L201 106.1L194.9 102.1L190.1 102.4Z" fill="#b1ff00"/>
<path d="M158.5 96.5L163.4 96.1L157.3 92.8L152.4 93.3Z" fill="#fceb00"/>
<path d="M207 110.3L211.8 110.1L205.8 105.9L201 106.1Z" fill="#87ff00"/>
<path d="M169.5 99.6L174.3 99.2L168.2 95.7L163.4 96.1Z" fill="#f5f600"/>
<path d="M217.8 114.4L222.6 114.3L216.6 110L211.8 110.1Z" fill="#64ff00"/>
<path d="M180.4 102.9L185.2 102.6L179.2 98.9L174.3 99.2Z" fill="#e6ff00"/>
<path d="M228.6 118.8L233.4 118.7L227.4 114.2L222.6 114.3Z" fill="#43ff00"/>
<path d="M142.7 94.3L147.5 93.8L141.4 90.8L136.6 91.4Z" fill="#ffd600"/>
<path d="M191.3 106.5L196.1 106.3L190.1 102.4L185.2 102.6Z" fill="#c1ff00"/>
<path d="M153.6 97L158.5 96.5L152.4 93.3L147.5 93.8Z" fill="#ffe700"/>
<path d="M202.2 110.4L207 110.3L201 106.1L196.1 106.3Z" fill="#98ff00"/>
<path d="M164.6 99.9L169.5 99.6L163.4 96.1L158.5 96.5Z" fill="#f8f100"/>
<path d="M213 114.6L217.8 114.4L211.8 110.1L207 110.3Z" fill="#70ff00"/>
<path d="M223.8 118.9L228.6 118.8L222.6 114.3L217.8 114.4Z" fill="#4fff00"/>
<path d="M175.5 103.2L180.4 102.9L174.3 99.2L169.5 99.6Z" fill="#f1fd00"/>
<path d="M186.5 106.8L191.3 106.5L185.2 102.6L180.4 102.9Z" fill="#d0ff00"/>
<path d="M148.8 97.4L153.6 97L147.5 93.8L142.7 94.3Z" fill="#ffdf00"/>
<path d="M197.3 110.6L202.2 110.4L196.1 106.3L191.3 106.5Z" fill="#a8ff00"/>
<path d="M159.7 100.3L164.6 99.9L158.5 96.5L153.6 97Z" fill="#fbec00"/>
<path d="M208.2 114.7L213 114.6L207 110.3L202.2 110.4Z" fill="#7dff00"/>
<path d="M170.7 103.5L175.5 103.2L169.5 99.6L164.6 99.9Z" fill="#f4f800"/>
<path d="M219 119L223.8 118.9L217.8 114.4L213 114.6Z" fill="#5cff00"/>
<path d="M181.6 107L186.5 106.8L180.4 102.9L175.5 103.2Z" fill="#dfff00"/>
<path d="M192.5 110.8L197.3 110.6L191.3 106.5L186.5 106.8Z" fill="#b8ff00"/>
<path d="M154.9 100.7L159.7 100.3L153.6 97L148.8 97.4Z" fill="#fee800"/>
<path d="M203.4 114.8L208.2 114.7L202.2 110.4L197.3 110.6Z" fill="#8eff00"/>
<path d="M165.8 103.8L170.7 103.5L164.6 99.9L159.7 100.3Z" fill="#f7f300"/>
<path d="M214.2 119.1L219 119L213 114.6L208.2 114.7Z" fill="#68ff00"/>
<path d="M176.8 107.2L181.6 107L175.5 103.2L170.7 103.5Z" fill="#eeff00"/>
<path d="M187.7 110.9L192.5 110.8L186.5 106.8L181.6 107Z" fill="#c8ff00"/>
<path d="M198.6 114.9L203.4 114.8L197.3 110.6L192.5 110.8Z" fill="#9fff00"/>
<path d="M160.9 104.1L165.8 103.8L159.7 100.3L154.9 100.7Z" fill="#faee00"/>
<path d="M209.4 119.2L214.2 119.1L208.2 114.7L203.4 114.8Z" fill="#74ff00"/>
<path d="M171.9 107.5L176.8 107.2L170.7 103.5L165.8 103.8Z" fill="#f3fa00"/>
<path d="M182.8 111.1L187.7 110.9L181.6 107L176.8 107.2Z" fill="#d8ff00"/>
<path d="M193.7 115.1L198.6 114.9L192.5 110.8L187.7 110.9Z" fill="#b0ff00"/>
<path d="M204.6 119.3L209.4 119.2L203.4 114.8L198.6 114.9Z" fill="#84ff00"/>
<path d="M167 107.8L171.9 107.5L165.8 103.8L160.9 104.1Z" fill="#f6f500"/>
<path d="M178 111.3L182.8 111.1L176.8 107.2L171.9 107.5Z" fill="#e7ff00"/>
<path d="M188.9 115.2L193.7 115.1L187.7 110.9L182.8 111.1Z" fill="#c0ff00"/>
<path d="M199.8 119.4L204.6 119.3L198.6 114.9L193.7 115.1Z" fill="#96ff00"/>
<path d="M173.1 111.6L178 111.3L171.9 107.5L167 107.8Z" fill="#f1fd00"/>
<path d="M184 115.4L188.9 115.2L182.8 111.1L178 111.3Z" fill="#d0ff00"/>
<path d="M194.9 119.5L199.8 119.4L193.7 115.1L188.9 115.2Z" fill="#a7ff00"/>
<path d="M179.2 115.5L184 115.4L178 111.3L173.1 111.6Z" fill="#e0ff00"/>
<path d="M190.1 119.6L194.9 119.5L188.9 115.2L184 115.4Z" fill="#b8ff00"/>
<path d="M185.2 119.7L190.1 119.6L184 115.4L179.2 115.5Z" fill="#c8ff00"/>
</g>
<circle cx="184.9" cy="57.2" r="2.45" fill="#ba0a0a" stroke="#5e0000" stroke-width=".7"/>
<circle cx="184.9" cy="65.3" r="2.45" fill="#ba0a0a" stroke="#5e0000" stroke-width=".7"/>
<circle cx="184.9" cy="67.5" r="2.45" fill="#ba0a0a" stroke="#5e0000" stroke-width=".7"/>
<circle cx="184.9" cy="71.9" r="2.45" fill="#ba0a0a" stroke="#5e0000" stroke-width=".7"/>
<path d="M68.5 165.2h0M67.2 141.1h0M66 117h0M64.8 92.9h0M63.5 68.8h0M62.3 44.7h0M185.1 258.1h0M204.3 248.9h0M223.4 239.7h0M242.6 230.5h0M261.8 221.2h0M280.9 212h0M300.1 202.8h0M185.1 258.1h0M156.4 244.3h0M127.8 230.5h0M99.1 216.6h0M70.4 202.8h0" stroke="#000" stroke-width="2.4" stroke-linecap="round"/>
<text class="t" text-anchor="end" transform="translate(64 163.6) scale(.86 1)">0</text>
<text class="t" text-anchor="end" transform="translate(62.7 139.5) scale(.86 1)">20</text>
<text class="t" text-anchor="end" transform="translate(61.5 115.4) scale(.86 1)">40</text>
<text class="t" text-anchor="end" transform="translate(60.3 91.3) scale(.86 1)">60</text>
<text class="t" text-anchor="end" transform="translate(59 67.2) scale(.86 1)">80</text>
<text class="t" text-anchor="end" transform="translate(57.8 43.1) scale(.86 1)">100</text>
<text class="t" transform="translate(189.3 267.4) scale(.86 1)">4</text>
<text class="t" transform="translate(208.5 258.2) scale(.86 1)">5</text>
<text class="t" transform="translate(227.6 249) scale(.86 1)">6</text>
<text class="t" transform="translate(246.8 239.8) scale(.86 1)">7</text>
<text class="t" transform="translate(266 230.5) scale(.86 1)">8</text>
<text class="t" transform="translate(285.1 221.3) scale(.86 1)">9</text>
<text class="t" transform="translate(304.3 212.1) scale(.86 1)">10</text>
<text class="t" text-anchor="end" transform="translate(180.9 267.4) scale(.86 1)">20</text>
<text class="t" text-anchor="end" transform="translate(152.2 253.6) scale(.86 1)">30</text>
<text class="t" text-anchor="end" transform="translate(123.5 239.8) scale(.86 1)">40</text>
<text class="t" text-anchor="end" transform="translate(94.9 225.9) scale(.86 1)">50</text>
<text class="t" text-anchor="end" transform="translate(66.2 212.1) scale(.86 1)">60</text>
<text class="b" x="81" y="253.5" text-anchor="middle">B: UV (M)</text>
<text class="b" x="276.9" y="256" text-anchor="middle">A: pH</text>
<text class="b" text-anchor="middle" transform="translate(39.5 122.9) rotate(-90)">Decoloring</text>
<text class="h" x="7" y="29.2">(a)</text>
<rect x="345" y="2.2" width="334.5" height="277.6" fill="#fff" stroke="#333" stroke-width="1.7"/>
<path d="M412.1 200.8L519.8 254.8L628.6 200.8L519.8 158.1Z" fill="#636363" stroke="#444" stroke-width=".5"/>
<path d="M412.4 201.3C421.8 202.3 451 205 468.6 207.3C486.2 209.6 504.9 212.5 518 215.2C531.1 217.9 539.2 220.5 547 223.3C554.8 226.1 561.6 230.7 564.5 232.2" fill="none" stroke="#e8dc00" stroke-width="1.5"/>
<path d="M461.1 181.9C466.6 182.1 485.2 182.9 493.8 183.2C502.4 183.5 503.5 183.3 513 183.7C522.5 184.1 536.2 184.7 550.7 185.7C565.2 186.7 591.5 188.9 599.7 189.5" fill="none" stroke="#a2e000" stroke-width="1.5"/>
<path d="M496.8 167.4Q518.8 166.6 545.7 168.1" fill="none" stroke="#2ee02a" stroke-width="1.5"/>
<path d="M428.6 157.2L424 40.6M446.8 150.7L443.1 36M465.1 144.2L462.3 31.4M483.3 137.7L481.5 26.8M501.6 131.2L500.6 22.2M618 159.4L622.7 42.1M605.7 155.1L609.9 39.1M593.4 150.7L597 36M581.2 146.4L584.1 32.9M568.9 142L571.3 29.9M556.6 137.7L558.4 26.8M544.3 133.4L545.5 23.7M532.1 129L532.7 20.7M410.4 163.8L519.8 124.7L630.3 163.8M409.3 140.1L519.8 103.2L631.3 140.1M408.1 116.3L519.8 81.8L632.4 116.3M407 92.6L519.8 60.4L633.5 92.6M405.9 68.9L519.8 39L634.5 68.9" fill="none" stroke="#3a3a3a" stroke-width=".7"/>
<path d="M404.8 45.2L519.8 17.6L635.6 45.2M412.1 200.8L404.8 45.2M519.8 158.1L519.8 17.6M628.6 200.8L635.6 45.2" fill="none" stroke="#2a2a2a" stroke-width=".9"/>
<path d="M412.1 200.8L519.8 254.8L628.6 200.8" fill="none" stroke="#111" stroke-width="1"/>
<path d="M545.7 115.1L545.7 95" stroke="#3c3c3c" stroke-width="1.1"/>
<circle cx="545.7" cy="115.1" r="2.5" fill="#f9cccc" stroke="#7a3434" stroke-width=".55"/>
<g stroke="#000" stroke-opacity=".72" stroke-width=".48" stroke-linejoin="round">
<path d="M518.7 69.6L524.3 69.8L519.8 69.6L514.2 69.5Z" fill="#06ff24"/>
<path d="M523.2 69.6L528.9 70.1L524.3 69.8L518.7 69.6Z" fill="#08ff17"/>
<path d="M513.1 69.3L518.7 69.6L514.2 69.5L508.6 69.4Z" fill="#08ff11"/>
<path d="M527.8 69.7L533.4 70.3L528.9 70.1L523.2 69.6Z" fill="#09ff0b"/>
<path d="M517.6 69.3L523.2 69.6L518.7 69.6L513.1 69.3Z" fill="#0aff03"/>
<path d="M507.4 69.1L513.1 69.3L508.6 69.4L502.9 69.3Z" fill="#0bff00"/>
<path d="M532.3 69.9L537.9 70.6L533.4 70.3L527.8 69.7Z" fill="#0aff00"/>
<path d="M522.2 69.3L527.8 69.7L523.2 69.6L517.6 69.3Z" fill="#13ff00"/>
<path d="M512 68.9L517.6 69.3L513.1 69.3L507.4 69.1Z" fill="#18ff00"/>
<path d="M501.8 68.9L507.4 69.1L502.9 69.3L497.3 69.3Z" fill="#1aff00"/>
<path d="M536.9 70L542.5 70.8L537.9 70.6L532.3 69.9Z" fill="#14ff00"/>
<path d="M526.7 69.3L532.3 69.9L527.8 69.7L522.2 69.3Z" fill="#1dff00"/>
<path d="M516.5 68.8L522.2 69.3L517.6 69.3L512 68.9Z" fill="#24ff00"/>
<path d="M506.3 68.7L512 68.9L507.4 69.1L501.8 68.9Z" fill="#28ff00"/>
<path d="M496.1 68.8L501.8 68.9L497.3 69.3L491.6 69.2Z" fill="#29ff00"/>
<path d="M541.4 70.2L547 71.1L542.5 70.8L536.9 70Z" fill="#1dff00"/>
<path d="M531.2 69.4L536.9 70L532.3 69.9L526.7 69.3Z" fill="#27ff00"/>
<path d="M521.1 68.8L526.7 69.3L522.2 69.3L516.5 68.8Z" fill="#2fff00"/>
<path d="M510.9 68.5L516.5 68.8L512 68.9L506.3 68.7Z" fill="#35ff00"/>
<path d="M500.7 68.5L506.3 68.7L501.8 68.9L496.1 68.8Z" fill="#37ff00"/>
<path d="M546 70.4L551.6 71.4L547 71.1L541.4 70.2Z" fill="#25ff00"/>
<path d="M490.5 68.7L496.1 68.8L491.6 69.2L486 69.1Z" fill="#37ff00"/>
<path d="M535.8 69.5L541.4 70.2L536.9 70L531.2 69.4Z" fill="#31ff00"/>
<path d="M525.6 68.8L531.2 69.4L526.7 69.3L521.1 68.8Z" fill="#3aff00"/>
<path d="M515.4 68.3L521.1 68.8L516.5 68.8L510.9 68.5Z" fill="#41ff00"/>
<path d="M505.2 68.2L510.9 68.5L506.3 68.7L500.7 68.5Z" fill="#45ff00"/>
<path d="M550.5 70.7L556.2 71.7L551.6 71.4L546 70.4Z" fill="#2eff00"/>
<path d="M495 68.3L500.7 68.5L496.1 68.8L490.5 68.7Z" fill="#46ff00"/>
<path d="M540.4 69.6L546 70.4L541.4 70.2L535.8 69.5Z" fill="#3bff00"/>
<path d="M484.8 68.6L490.5 68.7L486 69.1L480.3 69.1Z" fill="#45ff00"/>
<path d="M530.2 68.8L535.8 69.5L531.2 69.4L525.6 68.8Z" fill="#45ff00"/>
<path d="M519.9 68.3L525.6 68.8L521.1 68.8L515.4 68.3Z" fill="#4cff00"/>
<path d="M509.7 68L515.4 68.3L510.9 68.5L505.2 68.2Z" fill="#51ff00"/>
<path d="M555.1 71L560.7 72L556.2 71.7L550.5 70.7Z" fill="#36ff00"/>
<path d="M499.5 68L505.2 68.2L500.7 68.5L495 68.3Z" fill="#54ff00"/>
<path d="M544.9 69.8L550.5 70.7L546 70.4L540.4 69.6Z" fill="#44ff00"/>
<path d="M489.3 68.2L495 68.3L490.5 68.7L484.8 68.6Z" fill="#54ff00"/>
<path d="M534.7 68.9L540.4 69.6L535.8 69.5L530.2 68.8Z" fill="#4fff00"/>
<path d="M479.1 68.5L484.8 68.6L480.3 69.1L474.6 69Z" fill="#53ff00"/>
<path d="M524.5 68.3L530.2 68.8L525.6 68.8L519.9 68.3Z" fill="#57ff00"/>
<path d="M514.3 67.9L519.9 68.3L515.4 68.3L509.7 68Z" fill="#5eff00"/>
<path d="M559.7 71.3L565.3 72.3L560.7 72L555.1 71Z" fill="#3eff00"/>
<path d="M504.1 67.8L509.7 68L505.2 68.2L499.5 68Z" fill="#61ff00"/>
<path d="M549.5 70.1L555.1 71L550.5 70.7L544.9 69.8Z" fill="#4dff00"/>
<path d="M493.8 67.8L499.5 68L495 68.3L489.3 68.2Z" fill="#63ff00"/>
<path d="M539.3 69.1L544.9 69.8L540.4 69.6L534.7 68.9Z" fill="#58ff00"/>
<path d="M483.6 68.1L489.3 68.2L484.8 68.6L479.1 68.5Z" fill="#62ff00"/>
<path d="M529.1 68.4L534.7 68.9L530.2 68.8L524.5 68.3Z" fill="#62ff00"/>
<path d="M518.8 67.9L524.5 68.3L519.9 68.3L514.3 67.9Z" fill="#69ff00"/>
<path d="M473.4 68.5L479.1 68.5L474.6 69L468.9 68.9Z" fill="#61ff00"/>
<path d="M564.2 71.6L569.9 72.7L565.3 72.3L559.7 71.3Z" fill="#46ff00"/>
<path d="M508.6 67.6L514.3 67.9L509.7 68L504.1 67.8Z" fill="#6eff00"/>
<path d="M554 70.4L559.7 71.3L555.1 71L549.5 70.1Z" fill="#55ff00"/>
<path d="M498.4 67.6L504.1 67.8L499.5 68L493.8 67.8Z" fill="#70ff00"/>
<path d="M543.8 69.3L549.5 70.1L544.9 69.8L539.3 69.1Z" fill="#61ff00"/>
<path d="M488.2 67.8L493.8 67.8L489.3 68.2L483.6 68.1Z" fill="#71ff00"/>
<path d="M533.6 68.5L539.3 69.1L534.7 68.9L529.1 68.4Z" fill="#6cff00"/>
<path d="M523.4 67.9L529.1 68.4L524.5 68.3L518.8 67.9Z" fill="#74ff00"/>
<path d="M568.8 72L574.4 73L569.9 72.7L564.2 71.6Z" fill="#4eff00"/>
<path d="M477.9 68.1L483.6 68.1L479.1 68.5L473.4 68.5Z" fill="#70ff00"/>
<path d="M467.7 68.5L473.4 68.5L468.9 68.9L463.2 68.9Z" fill="#6eff00"/>
<path d="M513.2 67.6L518.8 67.9L514.3 67.9L508.6 67.6Z" fill="#7aff00"/>
<path d="M558.6 70.7L564.2 71.6L559.7 71.3L554 70.4Z" fill="#5dff00"/>
<path d="M502.9 67.5L508.6 67.6L504.1 67.8L498.4 67.6Z" fill="#7fff00"/>
<path d="M548.4 69.6L554 70.4L549.5 70.1L543.8 69.3Z" fill="#6aff00"/>
<path d="M492.7 67.5L498.4 67.6L493.8 67.8L488.2 67.8Z" fill="#81ff00"/>
<path d="M538.2 68.7L543.8 69.3L539.3 69.1L533.6 68.5Z" fill="#75ff00"/>
<path d="M482.5 67.8L488.2 67.8L483.6 68.1L477.9 68.1Z" fill="#81ff00"/>
<path d="M528 68.1L533.6 68.5L529.1 68.4L523.4 67.9Z" fill="#80ff00"/>
<path d="M573.4 72.4L579 73.4L574.4 73L568.8 72Z" fill="#55ff00"/>
<path d="M563.2 71.1L568.8 72L564.2 71.6L558.6 70.7Z" fill="#64ff00"/>
<path d="M472.2 68.1L477.9 68.1L473.4 68.5L467.7 68.5Z" fill="#7fff00"/>
<path d="M517.7 67.6L523.4 67.9L518.8 67.9L513.2 67.6Z" fill="#89ff00"/>
<path d="M462 68.5L467.7 68.5L463.2 68.9L457.5 68.9Z" fill="#7cff00"/>
<path d="M507.5 67.4L513.2 67.6L508.6 67.6L502.9 67.5Z" fill="#90ff00"/>
<path d="M553 70L558.6 70.7L554 70.4L548.4 69.6Z" fill="#72ff00"/>
<path d="M497.2 67.4L502.9 67.5L498.4 67.6L492.7 67.5Z" fill="#93ff00"/>
<path d="M542.8 69L548.4 69.6L543.8 69.3L538.2 68.7Z" fill="#80ff00"/>
<path d="M487 67.6L492.7 67.5L488.2 67.8L482.5 67.8Z" fill="#94ff00"/>
<path d="M532.5 68.3L538.2 68.7L533.6 68.5L528 68.1Z" fill="#8dff00"/>
<path d="M578 72.9L583.6 73.8L579 73.4L573.4 72.4Z" fill="#5cff00"/>
<path d="M476.8 67.9L482.5 67.8L477.9 68.1L472.2 68.1Z" fill="#93ff00"/>
<path d="M567.8 71.6L573.4 72.4L568.8 72L563.2 71.1Z" fill="#6bff00"/>
<path d="M522.3 67.8L528 68.1L523.4 67.9L517.7 67.6Z" fill="#98ff00"/>
<path d="M466.5 68.2L472.2 68.1L467.7 68.5L462 68.5Z" fill="#91ff00"/>
<path d="M512 67.5L517.7 67.6L513.2 67.6L507.5 67.4Z" fill="#a0ff00"/>
<path d="M557.6 70.4L563.2 71.1L558.6 70.7L553 70Z" fill="#7aff00"/>
<path d="M456.3 68.5L462 68.5L457.5 68.9L451.8 68.8Z" fill="#8eff00"/>
<path d="M501.8 67.4L507.5 67.4L502.9 67.5L497.2 67.4Z" fill="#a4ff00"/>
<path d="M547.3 69.4L553 70L548.4 69.6L542.8 69Z" fill="#8bff00"/>
<path d="M491.5 67.5L497.2 67.4L492.7 67.5L487 67.6Z" fill="#a6ff00"/>
<path d="M537.1 68.6L542.8 69L538.2 68.7L532.5 68.3Z" fill="#9aff00"/>
<path d="M582.5 73.3L588.2 74.2L583.6 73.8L578 72.9Z" fill="#63ff00"/>
<path d="M481.3 67.7L487 67.6L482.5 67.8L476.8 67.9Z" fill="#a6ff00"/>
<path d="M526.8 68L532.5 68.3L528 68.1L522.3 67.8Z" fill="#a6ff00"/>
<path d="M572.3 72.1L578 72.9L573.4 72.4L567.8 71.6Z" fill="#72ff00"/>
<path d="M471.1 68L476.8 67.9L472.2 68.1L466.5 68.2Z" fill="#a5ff00"/>
<path d="M516.6 67.6L522.3 67.8L517.7 67.6L512 67.5Z" fill="#aeff00"/>
<path d="M562.1 70.9L567.8 71.6L563.2 71.1L557.6 70.4Z" fill="#84ff00"/>
<path d="M460.8 68.4L466.5 68.2L462 68.5L456.3 68.5Z" fill="#a3ff00"/>
<path d="M506.3 67.5L512 67.5L507.5 67.4L501.8 67.4Z" fill="#b4ff00"/>
<path d="M551.9 69.9L557.6 70.4L553 70L547.3 69.4Z" fill="#96ff00"/>
<path d="M450.6 68.6L456.3 68.5L451.8 68.8L446.1 68.8Z" fill="#a0ff00"/>
<path d="M496.1 67.5L501.8 67.4L497.2 67.4L491.5 67.5Z" fill="#b7ff00"/>
<path d="M541.7 69L547.3 69.4L542.8 69L537.1 68.6Z" fill="#a5ff00"/>
<path d="M587.1 73.8L592.7 74.6L588.2 74.2L582.5 73.3Z" fill="#6aff00"/>
<path d="M485.8 67.7L491.5 67.5L487 67.6L481.3 67.7Z" fill="#b8ff00"/>
<path d="M531.4 68.3L537.1 68.6L532.5 68.3L526.8 68Z" fill="#b2ff00"/>
<path d="M576.9 72.6L582.5 73.3L578 72.9L572.3 72.1Z" fill="#79ff00"/>
<path d="M475.6 67.9L481.3 67.7L476.8 67.9L471.1 68Z" fill="#b7ff00"/>
<path d="M521.2 67.9L526.8 68L522.3 67.8L516.6 67.6Z" fill="#bcff00"/>
<path d="M566.7 71.4L572.3 72.1L567.8 71.6L562.1 70.9Z" fill="#8dff00"/>
<path d="M465.3 68.3L471.1 68L466.5 68.2L460.8 68.4Z" fill="#b5ff00"/>
<path d="M510.9 67.7L516.6 67.6L512 67.5L506.3 67.5Z" fill="#c3ff00"/>
<path d="M556.5 70.4L562.1 70.9L557.6 70.4L551.9 69.9Z" fill="#9fff00"/>
<path d="M455.1 68.6L460.8 68.4L456.3 68.5L450.6 68.6Z" fill="#b3ff00"/>
<path d="M500.6 67.6L506.3 67.5L501.8 67.4L496.1 67.5Z" fill="#c7ff00"/>
<path d="M546.2 69.5L551.9 69.9L547.3 69.4L541.7 69Z" fill="#afff00"/>
<path d="M591.7 74.4L597.3 75.1L592.7 74.6L587.1 73.8Z" fill="#70ff00"/>
<path d="M490.4 67.7L496.1 67.5L491.5 67.5L485.8 67.7Z" fill="#c9ff00"/>
<path d="M581.5 73.2L587.1 73.8L582.5 73.3L576.9 72.6Z" fill="#81ff00"/>
<path d="M444.9 68.8L450.6 68.6L446.1 68.8L440.4 68.8Z" fill="#b2ff00"/>
<path d="M536 68.8L541.7 69L537.1 68.6L531.4 68.3Z" fill="#bdff00"/>
<path d="M480.1 68L485.8 67.7L481.3 67.7L475.6 67.9Z" fill="#c8ff00"/>
<path d="M525.7 68.2L531.4 68.3L526.8 68L521.2 67.9Z" fill="#c8ff00"/>
<path d="M571.3 72.1L576.9 72.6L572.3 72.1L566.7 71.4Z" fill="#95ff00"/>
<path d="M515.5 67.9L521.2 67.9L516.6 67.6L510.9 67.7Z" fill="#d0ff00"/>
<path d="M469.9 68.3L475.6 67.9L471.1 68L465.3 68.3Z" fill="#c7ff00"/>
<path d="M561.1 71L566.7 71.4L562.1 70.9L556.5 70.4Z" fill="#a8ff00"/>
<path d="M459.6 68.6L465.3 68.3L460.8 68.4L455.1 68.6Z" fill="#c5ff00"/>
<path d="M505.2 67.8L510.9 67.7L506.3 67.5L500.6 67.6Z" fill="#d5ff00"/>
<path d="M550.8 70L556.5 70.4L551.9 69.9L546.2 69.5Z" fill="#b9ff00"/>
<path d="M596.3 75L601.9 75.5L597.3 75.1L591.7 74.4Z" fill="#76ff00"/>
<path d="M494.9 67.9L500.6 67.6L496.1 67.5L490.4 67.7Z" fill="#d8ff00"/>
<path d="M540.6 69.3L546.2 69.5L541.7 69L536 68.8Z" fill="#c7ff00"/>
<path d="M586.1 73.9L591.7 74.4L587.1 73.8L581.5 73.2Z" fill="#89ff00"/>
<path d="M449.4 68.8L455.1 68.6L450.6 68.6L444.9 68.8Z" fill="#c3ff00"/>
<path d="M439.2 68.9L444.9 68.8L440.4 68.8L434.6 68.8Z" fill="#c3ff00"/>
<path d="M484.7 68.1L490.4 67.7L485.8 67.7L480.1 68Z" fill="#d8ff00"/>
<path d="M530.3 68.7L536 68.8L531.4 68.3L525.7 68.2Z" fill="#d3ff00"/>
<path d="M575.9 72.7L581.5 73.2L576.9 72.6L571.3 72.1Z" fill="#9dff00"/>
<path d="M520 68.3L525.7 68.2L521.2 67.9L515.5 67.9Z" fill="#dcff00"/>
<path d="M474.4 68.4L480.1 68L475.6 67.9L469.9 68.3Z" fill="#d7ff00"/>
<path d="M565.6 71.7L571.3 72.1L566.7 71.4L561.1 71Z" fill="#b0ff00"/>
<path d="M555.4 70.7L561.1 71L556.5 70.4L550.8 70Z" fill="#c1ff00"/>
<path d="M464.2 68.7L469.9 68.3L465.3 68.3L459.6 68.6Z" fill="#d5ff00"/>
<path d="M509.8 68.1L515.5 67.9L510.9 67.7L505.2 67.8Z" fill="#e2ff00"/>
<path d="M600.9 75.6L606.5 76L601.9 75.5L596.3 75Z" fill="#7dff00"/>
<path d="M453.9 69L459.6 68.6L455.1 68.6L449.4 68.8Z" fill="#d4ff00"/>
<path d="M499.5 68.1L505.2 67.8L500.6 67.6L494.9 67.9Z" fill="#e5ff00"/>
<path d="M545.1 69.9L550.8 70L546.2 69.5L540.6 69.3Z" fill="#d0ff00"/>
<path d="M590.7 74.6L596.3 75L591.7 74.4L586.1 73.9Z" fill="#91ff00"/>
<path d="M534.9 69.2L540.6 69.3L536 68.8L530.3 68.7Z" fill="#dcff00"/>
<path d="M580.4 73.5L586.1 73.9L581.5 73.2L575.9 72.7Z" fill="#a4ff00"/>
<path d="M443.7 69.2L449.4 68.8L444.9 68.8L439.2 68.9Z" fill="#d3ff00"/>
<path d="M489.2 68.3L494.9 67.9L490.4 67.7L484.7 68.1Z" fill="#e7ff00"/>
<path d="M433.4 69.1L439.2 68.9L434.6 68.8L428.9 68.7Z" fill="#d4ff00"/>
<path d="M479 68.6L484.7 68.1L480.1 68L474.4 68.4Z" fill="#e6ff00"/>
<path d="M524.6 68.8L530.3 68.7L525.7 68.2L520 68.3Z" fill="#e6ff00"/>
<path d="M570.2 72.4L575.9 72.7L571.3 72.1L565.6 71.7Z" fill="#b7ff00"/>
<path d="M560 71.5L565.6 71.7L561.1 71L555.4 70.7Z" fill="#c8ff00"/>
<path d="M605.5 76.2L611.1 76.5L606.5 76L600.9 75.6Z" fill="#85ff00"/>
<path d="M468.7 68.9L474.4 68.4L469.9 68.3L464.2 68.7Z" fill="#e5ff00"/>
<path d="M514.3 68.6L520 68.3L515.5 67.9L509.8 68.1Z" fill="#edff00"/>
<path d="M458.4 69.2L464.2 68.7L459.6 68.6L453.9 69Z" fill="#e3ff00"/>
<path d="M504 68.5L509.8 68.1L505.2 67.8L499.5 68.1Z" fill="#f0fe00"/>
<path d="M549.7 70.6L555.4 70.7L550.8 70L545.1 69.9Z" fill="#d8ff00"/>
<path d="M595.3 75.3L600.9 75.6L596.3 75L590.7 74.6Z" fill="#98ff00"/>
<path d="M448.2 69.5L453.9 69L449.4 68.8L443.7 69.2Z" fill="#e1ff00"/>
<path d="M539.4 69.9L545.1 69.9L540.6 69.3L534.9 69.2Z" fill="#e5ff00"/>
<path d="M585 74.3L590.7 74.6L586.1 73.9L580.4 73.5Z" fill="#aaff00"/>
<path d="M493.8 68.6L499.5 68.1L494.9 67.9L489.2 68.3Z" fill="#f1fe00"/>
<path d="M437.9 69.6L443.7 69.2L439.2 68.9L433.4 69.1Z" fill="#e1ff00"/>
<path d="M483.5 68.9L489.2 68.3L484.7 68.1L479 68.6Z" fill="#f1fd00"/>
<path d="M529.2 69.4L534.9 69.2L530.3 68.7L524.6 68.8Z" fill="#f0ff00"/>
<path d="M574.8 73.3L580.4 73.5L575.9 72.7L570.2 72.4Z" fill="#bdff00"/>
<path d="M427.7 69.4L433.4 69.1L428.9 68.7L423.2 68.7Z" fill="#e4ff00"/>
<path d="M473.2 69.2L479 68.6L474.4 68.4L468.7 68.9Z" fill="#f1fe00"/>
<path d="M564.5 72.3L570.2 72.4L565.6 71.7L560 71.5Z" fill="#cfff00"/>
<path d="M610.1 76.9L615.7 76.9L611.1 76.5L605.5 76.2Z" fill="#8dff00"/>
<path d="M518.9 69.1L524.6 68.8L520 68.3L514.3 68.6Z" fill="#f2fc00"/>
<path d="M463 69.5L468.7 68.9L464.2 68.7L458.4 69.2Z" fill="#f0ff00"/>
<path d="M508.6 69L514.3 68.6L509.8 68.1L504 68.5Z" fill="#f3fa00"/>
<path d="M554.3 71.4L560 71.5L555.4 70.7L549.7 70.6Z" fill="#deff00"/>
<path d="M599.8 76.1L605.5 76.2L600.9 75.6L595.3 75.3Z" fill="#9eff00"/>
<path d="M452.7 69.9L458.4 69.2L453.9 69L448.2 69.5Z" fill="#efff00"/>
<path d="M498.3 69L504 68.5L499.5 68.1L493.8 68.6Z" fill="#f4f900"/>
<path d="M544 70.7L549.7 70.6L545.1 69.9L539.4 69.9Z" fill="#ecff00"/>
<path d="M589.6 75.2L595.3 75.3L590.7 74.6L585 74.3Z" fill="#b0ff00"/>
<path d="M442.5 70L448.2 69.5L443.7 69.2L437.9 69.6Z" fill="#eeff00"/>
<path d="M488.1 69.3L493.8 68.6L489.2 68.3L483.5 68.9Z" fill="#f4f900"/>
<path d="M533.7 70.1L539.4 69.9L534.9 69.2L529.2 69.4Z" fill="#f2fc00"/>
<path d="M579.4 74.2L585 74.3L580.4 73.5L574.8 73.3Z" fill="#c2ff00"/>
<path d="M432.2 70L437.9 69.6L433.4 69.1L427.7 69.4Z" fill="#efff00"/>
<path d="M477.8 69.6L483.5 68.9L479 68.6L473.2 69.2Z" fill="#f4f900"/>
<path d="M523.5 69.7L529.2 69.4L524.6 68.8L518.9 69.1Z" fill="#f4f900"/>
<path d="M569.1 73.2L574.8 73.3L570.2 72.4L564.5 72.3Z" fill="#d4ff00"/>
<path d="M614.6 77.6L620.3 77.5L615.7 76.9L610.1 76.9Z" fill="#95ff00"/>
<path d="M422 69.6L427.7 69.4L423.2 68.7L417.4 68.8Z" fill="#f1fe00"/>
<path d="M467.5 70L473.2 69.2L468.7 68.9L463 69.5Z" fill="#f3fa00"/>
<path d="M513.2 69.6L518.9 69.1L514.3 68.6L508.6 69Z" fill="#f5f700"/>
<path d="M558.9 72.3L564.5 72.3L560 71.5L554.3 71.4Z" fill="#e4ff00"/>
<path d="M604.4 77L610.1 76.9L605.5 76.2L599.8 76.1Z" fill="#a4ff00"/>
<path d="M457.3 70.3L463 69.5L458.4 69.2L452.7 69.9Z" fill="#f3fb00"/>
<path d="M502.9 69.6L508.6 69L504 68.5L498.3 69Z" fill="#f6f500"/>
<path d="M548.6 71.5L554.3 71.4L549.7 70.6L544 70.7Z" fill="#f1fe00"/>
<path d="M594.2 76.1L599.8 76.1L595.3 75.3L589.6 75.2Z" fill="#b5ff00"/>
<path d="M447 70.6L452.7 69.9L448.2 69.5L442.5 70Z" fill="#f2fb00"/>
<path d="M492.6 69.8L498.3 69L493.8 68.6L488.1 69.3Z" fill="#f6f500"/>
<path d="M538.3 70.9L544 70.7L539.4 69.9L533.7 70.1Z" fill="#f3fa00"/>
<path d="M584 75.2L589.6 75.2L585 74.3L579.4 74.2Z" fill="#c6ff00"/>
<path d="M436.8 70.7L442.5 70L437.9 69.6L432.2 70Z" fill="#f2fb00"/>
<path d="M482.3 70.1L488.1 69.3L483.5 68.9L477.8 69.6Z" fill="#f6f500"/>
<path d="M528 70.5L533.7 70.1L529.2 69.4L523.5 69.7Z" fill="#f5f600"/>
<path d="M573.7 74.2L579.4 74.2L574.8 73.3L569.1 73.2Z" fill="#d8ff00"/>
<path d="M619.2 78.4L624.9 78L620.3 77.5L614.6 77.6Z" fill="#9cff00"/>
<path d="M426.5 70.5L432.2 70L427.7 69.4L422 69.6Z" fill="#f3fa00"/>
<path d="M472.1 70.5L477.8 69.6L473.2 69.2L467.5 70Z" fill="#f6f500"/>
<path d="M517.8 70.3L523.5 69.7L518.9 69.1L513.2 69.6Z" fill="#f7f300"/>
<path d="M563.4 73.3L569.1 73.2L564.5 72.3L558.9 72.3Z" fill="#e8ff00"/>
<path d="M609 77.9L614.6 77.6L610.1 76.9L604.4 77Z" fill="#a9ff00"/>
<path d="M461.8 70.9L467.5 70L463 69.5L457.3 70.3Z" fill="#f5f600"/>
<path d="M553.2 72.5L558.9 72.3L554.3 71.4L548.6 71.5Z" fill="#f2fc00"/>
<path d="M416.2 69.9L422 69.6L417.4 68.8L411.7 68.8Z" fill="#f4f800"/>
<path d="M507.5 70.2L513.2 69.6L508.6 69L502.9 69.6Z" fill="#f8f200"/>
<path d="M598.8 77.2L604.4 77L599.8 76.1L594.2 76.1Z" fill="#b9ff00"/>
<path d="M451.5 71.2L457.3 70.3L452.7 69.9L447 70.6Z" fill="#f5f700"/>
<path d="M497.2 70.4L502.9 69.6L498.3 69L492.6 69.8Z" fill="#f8f100"/>
<path d="M542.9 71.9L548.6 71.5L544 70.7L538.3 70.9Z" fill="#f4f800"/>
<path d="M588.5 76.3L594.2 76.1L589.6 75.2L584 75.2Z" fill="#caff00"/>
<path d="M486.9 70.6L492.6 69.8L488.1 69.3L482.3 70.1Z" fill="#f8f100"/>
<path d="M578.3 75.4L584 75.2L579.4 74.2L573.7 74.2Z" fill="#dbff00"/>
<path d="M441.3 71.5L447 70.6L442.5 70L436.8 70.7Z" fill="#f4f800"/>
<path d="M532.6 71.4L538.3 70.9L533.7 70.1L528 70.5Z" fill="#f7f400"/>
<path d="M623.8 79.2L629.5 78.5L624.9 78L619.2 78.4Z" fill="#a2ff00"/>
<path d="M613.6 78.9L619.2 78.4L614.6 77.6L609 77.9Z" fill="#aeff00"/>
<path d="M431 71.5L436.8 70.7L432.2 70L426.5 70.5Z" fill="#f5f700"/>
<path d="M476.6 71L482.3 70.1L477.8 69.6L472.1 70.5Z" fill="#f8f100"/>
<path d="M522.3 71.1L528 70.5L523.5 69.7L517.8 70.3Z" fill="#f9f100"/>
<path d="M568 74.4L573.7 74.2L569.1 73.2L563.4 73.3Z" fill="#ebff00"/>
<path d="M466.4 71.5L472.1 70.5L467.5 70L461.8 70.9Z" fill="#f8f200"/>
<path d="M512 71L517.8 70.3L513.2 69.6L507.5 70.2Z" fill="#faef00"/>
<path d="M557.8 73.6L563.4 73.3L558.9 72.3L553.2 72.5Z" fill="#f2fb00"/>
<path d="M603.3 78.3L609 77.9L604.4 77L598.8 77.2Z" fill="#bcff00"/>
<path d="M420.8 71.1L426.5 70.5L422 69.6L416.2 69.9Z" fill="#f6f600"/>
<path d="M456.1 71.9L461.8 70.9L457.3 70.3L451.5 71.2Z" fill="#f7f400"/>
<path d="M410.5 70.3L416.2 69.9L411.7 68.8L405.9 68.8Z" fill="#f8f200"/>
<path d="M501.7 71.1L507.5 70.2L502.9 69.6L497.2 70.4Z" fill="#faee00"/>
<path d="M547.5 72.9L553.2 72.5L548.6 71.5L542.9 71.9Z" fill="#f5f600"/>
<path d="M593.1 77.5L598.8 77.2L594.2 76.1L588.5 76.3Z" fill="#ccff00"/>
<path d="M491.5 71.3L497.2 70.4L492.6 69.8L486.9 70.6Z" fill="#fbed00"/>
<path d="M582.9 76.6L588.5 76.3L584 75.2L578.3 75.4Z" fill="#ddff00"/>
<path d="M628.4 80L634.1 79.1L629.5 78.5L623.8 79.2Z" fill="#a8ff00"/>
<path d="M445.8 72.3L451.5 71.2L447 70.6L441.3 71.5Z" fill="#f6f400"/>
<path d="M537.2 72.4L542.9 71.9L538.3 70.9L532.6 71.4Z" fill="#f8f200"/>
<path d="M481.2 71.7L486.9 70.6L482.3 70.1L476.6 71Z" fill="#faee00"/>
<path d="M526.9 72L532.6 71.4L528 70.5L522.3 71.1Z" fill="#faee00"/>
<path d="M618.2 79.9L623.8 79.2L619.2 78.4L613.6 78.9Z" fill="#b2ff00"/>
<path d="M435.6 72.4L441.3 71.5L436.8 70.7L431 71.5Z" fill="#f6f500"/>
<path d="M572.6 75.7L578.3 75.4L573.7 74.2L568 74.4Z" fill="#eeff00"/>
<path d="M562.3 74.8L568 74.4L563.4 73.3L557.8 73.6Z" fill="#f3fa00"/>
<path d="M425.3 72.3L431 71.5L426.5 70.5L420.8 71.1Z" fill="#f7f400"/>
<path d="M470.9 72.2L476.6 71L472.1 70.5L466.4 71.5Z" fill="#faef00"/>
<path d="M516.6 71.8L522.3 71.1L517.8 70.3L512 71Z" fill="#fbec00"/>
<path d="M607.9 79.4L613.6 78.9L609 77.9L603.3 78.3Z" fill="#bfff00"/>
<path d="M506.3 71.9L512 71L507.5 70.2L501.7 71.1Z" fill="#fceb00"/>
<path d="M552.1 74.1L557.8 73.6L553.2 72.5L547.5 72.9Z" fill="#f6f500"/>
<path d="M415 71.7L420.8 71.1L416.2 69.9L410.5 70.3Z" fill="#f8f100"/>
<path d="M460.6 72.7L466.4 71.5L461.8 70.9L456.1 71.9Z" fill="#f9f000"/>
<path d="M597.7 78.7L603.3 78.3L598.8 77.2L593.1 77.5Z" fill="#ceff00"/>
<path d="M450.4 73.1L456.1 71.9L451.5 71.2L445.8 72.3Z" fill="#f8f100"/>
<path d="M587.4 77.9L593.1 77.5L588.5 76.3L582.9 76.6Z" fill="#deff00"/>
<path d="M496 72.1L501.7 71.1L497.2 70.4L491.5 71.3Z" fill="#fcea00"/>
<path d="M541.8 73.5L547.5 72.9L542.9 71.9L537.2 72.4Z" fill="#f9f000"/>
<path d="M485.7 72.5L491.5 71.3L486.9 70.6L481.2 71.7Z" fill="#fceb00"/>
<path d="M531.5 73L537.2 72.4L532.6 71.4L526.9 72Z" fill="#fbed00"/>
<path d="M622.7 81L628.4 80L623.8 79.2L618.2 79.9Z" fill="#b5ff00"/>
<path d="M440.1 73.4L445.8 72.3L441.3 71.5L435.6 72.4Z" fill="#f8f200"/>
<path d="M577.2 77L582.9 76.6L578.3 75.4L572.6 75.7Z" fill="#efff00"/>
<path d="M475.5 73L481.2 71.7L476.6 71L470.9 72.2Z" fill="#fcec00"/>
<path d="M521.2 72.8L526.9 72L522.3 71.1L516.6 71.8Z" fill="#fcea00"/>
<path d="M566.9 76.1L572.6 75.7L568 74.4L562.3 74.8Z" fill="#f3fa00"/>
<path d="M612.5 80.7L618.2 79.9L613.6 78.9L607.9 79.4Z" fill="#c0ff00"/>
<path d="M429.9 73.5L435.6 72.4L431 71.5L425.3 72.3Z" fill="#f8f200"/>
<path d="M419.6 73.2L425.3 72.3L420.8 71.1L415 71.7Z" fill="#f9f000"/>
<path d="M510.9 72.8L516.6 71.8L512 71L506.3 71.9Z" fill="#fde900"/>
<path d="M556.6 75.3L562.3 74.8L557.8 73.6L552.1 74.1Z" fill="#f6f400"/>
<path d="M465.2 73.5L470.9 72.2L466.4 71.5L460.6 72.7Z" fill="#fbed00"/>
<path d="M602.3 80.1L607.9 79.4L603.3 78.3L597.7 78.7Z" fill="#ceff00"/>
<path d="M454.9 74L460.6 72.7L456.1 71.9L450.4 73.1Z" fill="#faee00"/>
<path d="M500.6 73L506.3 71.9L501.7 71.1L496 72.1Z" fill="#fee800"/>
<path d="M546.4 74.7L552.1 74.1L547.5 72.9L541.8 73.5Z" fill="#f9f000"/>
<path d="M592 79.3L597.7 78.7L593.1 77.5L587.4 77.9Z" fill="#deff00"/>
<path d="M444.7 74.5L450.4 73.1L445.8 72.3L440.1 73.4Z" fill="#f9f000"/>
<path d="M490.3 73.3L496 72.1L491.5 71.3L485.7 72.5Z" fill="#fee800"/>
<path d="M536.1 74.2L541.8 73.5L537.2 72.4L531.5 73Z" fill="#fcec00"/>
<path d="M581.8 78.4L587.4 77.9L582.9 76.6L577.2 77Z" fill="#eeff00"/>
<path d="M480 73.8L485.7 72.5L481.2 71.7L475.5 73Z" fill="#fde900"/>
<path d="M525.8 73.9L531.5 73L526.9 72L521.2 72.8Z" fill="#fde900"/>
<path d="M571.5 77.5L577.2 77L572.6 75.7L566.9 76.1Z" fill="#f3fa00"/>
<path d="M617.1 82L622.7 81L618.2 79.9L612.5 80.7Z" fill="#c2ff00"/>
<path d="M434.4 74.7L440.1 73.4L435.6 72.4L429.9 73.5Z" fill="#f9f000"/>
<path d="M424.1 74.7L429.9 73.5L425.3 72.3L419.6 73.2Z" fill="#f9f000"/>
<path d="M469.8 74.4L475.5 73L470.9 72.2L465.2 73.5Z" fill="#fcea00"/>
<path d="M515.5 73.8L521.2 72.8L516.6 71.8L510.9 72.8Z" fill="#ffe700"/>
<path d="M561.2 76.7L566.9 76.1L562.3 74.8L556.6 75.3Z" fill="#f7f400"/>
<path d="M606.8 81.5L612.5 80.7L607.9 79.4L602.3 80.1Z" fill="#ceff00"/>
<path d="M459.5 75L465.2 73.5L460.6 72.7L454.9 74Z" fill="#fbec00"/>
<path d="M505.2 74L510.9 72.8L506.3 71.9L500.6 73Z" fill="#ffe600"/>
<path d="M550.9 76L556.6 75.3L552.1 74.1L546.4 74.7Z" fill="#faef00"/>
<path d="M596.6 80.8L602.3 80.1L597.7 78.7L592 79.3Z" fill="#ddff00"/>
<path d="M449.2 75.6L454.9 74L450.4 73.1L444.7 74.5Z" fill="#fbed00"/>
<path d="M494.9 74.3L500.6 73L496 72.1L490.3 73.3Z" fill="#ffe600"/>
<path d="M540.6 75.5L546.4 74.7L541.8 73.5L536.1 74.2Z" fill="#fceb00"/>
<path d="M586.3 80L592 79.3L587.4 77.9L581.8 78.4Z" fill="#edff00"/>
<path d="M439 76L444.7 74.5L440.1 73.4L434.4 74.7Z" fill="#faef00"/>
<path d="M484.6 74.8L490.3 73.3L485.7 72.5L480 73.8Z" fill="#ffe700"/>
<path d="M530.3 75.1L536.1 74.2L531.5 73L525.8 73.9Z" fill="#fee800"/>
<path d="M576.1 79.1L581.8 78.4L577.2 77L571.5 77.5Z" fill="#f3fa00"/>
<path d="M428.7 76.2L434.4 74.7L429.9 73.5L424.1 74.7Z" fill="#faef00"/>
<path d="M474.3 75.4L480 73.8L475.5 73L469.8 74.4Z" fill="#fee800"/>
<path d="M520 75L525.8 73.9L521.2 72.8L515.5 73.8Z" fill="#ffe500"/>
<path d="M565.8 78.2L571.5 77.5L566.9 76.1L561.2 76.7Z" fill="#f6f400"/>
<path d="M611.4 83.1L617.1 82L612.5 80.7L606.8 81.5Z" fill="#cdff00"/>
<path d="M464 76L469.8 74.4L465.2 73.5L459.5 75Z" fill="#fdea00"/>
<path d="M509.7 75L515.5 73.8L510.9 72.8L505.2 74Z" fill="#ffe300"/>
<path d="M555.5 77.5L561.2 76.7L556.6 75.3L550.9 76Z" fill="#f9ef00"/>
<path d="M601.1 82.4L606.8 81.5L602.3 80.1L596.6 80.8Z" fill="#dbff00"/>
<path d="M453.8 76.7L459.5 75L454.9 74L449.2 75.6Z" fill="#fceb00"/>
<path d="M499.5 75.3L505.2 74L500.6 73L494.9 74.3Z" fill="#ffe200"/>
<path d="M545.2 76.9L550.9 76L546.4 74.7L540.6 75.5Z" fill="#fceb00"/>
<path d="M590.9 81.6L596.6 80.8L592 79.3L586.3 80Z" fill="#ebff00"/>
<path d="M489.2 75.8L494.9 74.3L490.3 73.3L484.6 74.8Z" fill="#ffe300"/>
<path d="M580.6 80.7L586.3 80L581.8 78.4L576.1 79.1Z" fill="#f2fb00"/>
<path d="M443.5 77.3L449.2 75.6L444.7 74.5L439 76Z" fill="#fbed00"/>
<path d="M534.9 76.4L540.6 75.5L536.1 74.2L530.3 75.1Z" fill="#fee700"/>
<path d="M433.3 77.6L439 76L434.4 74.7L428.7 76.2Z" fill="#faee00"/>
<path d="M478.9 76.4L484.6 74.8L480 73.8L474.3 75.4Z" fill="#ffe600"/>
<path d="M524.6 76.2L530.3 75.1L525.8 73.9L520 75Z" fill="#ffe400"/>
<path d="M570.4 79.9L576.1 79.1L571.5 77.5L565.8 78.2Z" fill="#f6f500"/>
<path d="M605.7 84.1L611.4 83.1L606.8 81.5L601.1 82.4Z" fill="#d8ff00"/>
<path d="M468.6 77.1L474.3 75.4L469.8 74.4L464 76Z" fill="#fee800"/>
<path d="M514.3 76.2L520 75L515.5 73.8L509.7 75Z" fill="#ffe100"/>
<path d="M560.1 79.1L565.8 78.2L561.2 76.7L555.5 77.5Z" fill="#f9f000"/>
<path d="M458.3 77.8L464 76L459.5 75L453.8 76.7Z" fill="#fdea00"/>
<path d="M504 76.5L509.7 75L505.2 74L499.5 75.3Z" fill="#ffe000"/>
<path d="M549.8 78.4L555.5 77.5L550.9 76L545.2 76.9Z" fill="#fceb00"/>
<path d="M595.4 83.4L601.1 82.4L596.6 80.8L590.9 81.6Z" fill="#e7ff00"/>
<path d="M493.7 76.9L499.5 75.3L494.9 74.3L489.2 75.8Z" fill="#ffe000"/>
<path d="M585.2 82.5L590.9 81.6L586.3 80L580.6 80.7Z" fill="#f2fc00"/>
<path d="M448.1 78.5L453.8 76.7L449.2 75.6L443.5 77.3Z" fill="#fcec00"/>
<path d="M539.5 77.9L545.2 76.9L540.6 75.5L534.9 76.4Z" fill="#fee700"/>
<path d="M437.8 79.1L443.5 77.3L439 76L433.3 77.6Z" fill="#fbed00"/>
<path d="M483.4 77.5L489.2 75.8L484.6 74.8L478.9 76.4Z" fill="#ffe300"/>
<path d="M529.2 77.6L534.9 76.4L530.3 75.1L524.6 76.2Z" fill="#ffe300"/>
<path d="M574.9 81.6L580.6 80.7L576.1 79.1L570.4 79.9Z" fill="#f5f700"/>
<path d="M518.9 77.5L524.6 76.2L520 75L514.3 76.2Z" fill="#ffdf00"/>
<path d="M473.2 78.2L478.9 76.4L474.3 75.4L468.6 77.1Z" fill="#ffe600"/>
<path d="M564.7 80.8L570.4 79.9L565.8 78.2L560.1 79.1Z" fill="#f8f100"/>
<path d="M462.9 79L468.6 77.1L464 76L458.3 77.8Z" fill="#fee800"/>
<path d="M508.6 77.7L514.3 76.2L509.7 75L504 76.5Z" fill="#ffde00"/>
<path d="M554.4 80L560.1 79.1L555.5 77.5L549.8 78.4Z" fill="#fbec00"/>
<path d="M600 85.3L605.7 84.1L601.1 82.4L595.4 83.4Z" fill="#e2ff00"/>
<path d="M498.3 78.1L504 76.5L499.5 75.3L493.7 76.9Z" fill="#ffde00"/>
<path d="M589.8 84.4L595.4 83.4L590.9 81.6L585.2 82.5Z" fill="#f0fe00"/>
<path d="M452.6 79.8L458.3 77.8L453.8 76.7L448.1 78.5Z" fill="#fceb00"/>
<path d="M544.1 79.5L549.8 78.4L545.2 76.9L539.5 77.9Z" fill="#fee800"/>
<path d="M442.4 80.6L448.1 78.5L443.5 77.3L437.8 79.1Z" fill="#fbed00"/>
<path d="M488 78.7L493.7 76.9L489.2 75.8L483.4 77.5Z" fill="#ffe000"/>
<path d="M533.8 79.1L539.5 77.9L534.9 76.4L529.2 77.6Z" fill="#ffe300"/>
<path d="M579.5 83.5L585.2 82.5L580.6 80.7L574.9 81.6Z" fill="#f4f800"/>
<path d="M477.7 79.4L483.4 77.5L478.9 76.4L473.2 78.2Z" fill="#ffe300"/>
<path d="M523.5 78.9L529.2 77.6L524.6 76.2L518.9 77.5Z" fill="#ffdf00"/>
<path d="M569.2 82.6L574.9 81.6L570.4 79.9L564.7 80.8Z" fill="#f7f300"/>
<path d="M513.2 79L518.9 77.5L514.3 76.2L508.6 77.7Z" fill="#ffdd00"/>
<path d="M558.9 81.8L564.7 80.8L560.1 79.1L554.4 80Z" fill="#fbed00"/>
<path d="M467.5 80.3L473.2 78.2L468.6 77.1L462.9 79Z" fill="#fee700"/>
<path d="M502.9 79.4L508.6 77.7L504 76.5L498.3 78.1Z" fill="#ffdd00"/>
<path d="M594.3 86.4L600 85.3L595.4 83.4L589.8 84.4Z" fill="#ecff00"/>
<path d="M457.2 81.2L462.9 79L458.3 77.8L452.6 79.8Z" fill="#fdea00"/>
<path d="M548.7 81.1L554.4 80L549.8 78.4L544.1 79.5Z" fill="#fde900"/>
<path d="M446.9 82.1L452.6 79.8L448.1 78.5L442.4 80.6Z" fill="#fbec00"/>
<path d="M492.6 79.9L498.3 78.1L493.7 76.9L488 78.7Z" fill="#ffde00"/>
<path d="M538.4 80.7L544.1 79.5L539.5 77.9L533.8 79.1Z" fill="#ffe400"/>
<path d="M584 85.5L589.8 84.4L585.2 82.5L579.5 83.5Z" fill="#f3fb00"/>
<path d="M482.3 80.7L488 78.7L483.4 77.5L477.7 79.4Z" fill="#ffe100"/>
<path d="M528.1 80.5L533.8 79.1L529.2 77.6L523.5 78.9Z" fill="#ffdf00"/>
<path d="M573.8 84.6L579.5 83.5L574.9 81.6L569.2 82.6Z" fill="#f6f500"/>
<path d="M472 81.5L477.7 79.4L473.2 78.2L467.5 80.3Z" fill="#ffe600"/>
<path d="M517.8 80.5L523.5 78.9L518.9 77.5L513.2 79Z" fill="#ffdd00"/>
<path d="M563.5 83.7L569.2 82.6L564.7 80.8L558.9 81.8Z" fill="#faef00"/>
<path d="M507.4 80.7L513.2 79L508.6 77.7L502.9 79.4Z" fill="#ffdc00"/>
<path d="M553.2 83L558.9 81.8L554.4 80L548.7 81.1Z" fill="#fdea00"/>
<path d="M461.8 82.5L467.5 80.3L462.9 79L457.2 81.2Z" fill="#fde900"/>
<path d="M451.5 83.5L457.2 81.2L452.6 79.8L446.9 82.1Z" fill="#fcec00"/>
<path d="M497.2 81.2L502.9 79.4L498.3 78.1L492.6 79.9Z" fill="#ffdd00"/>
<path d="M542.9 82.4L548.7 81.1L544.1 79.5L538.4 80.7Z" fill="#ffe600"/>
<path d="M588.6 87.6L594.3 86.4L589.8 84.4L584 85.5Z" fill="#f1fd00"/>
<path d="M486.9 82L492.6 79.9L488 78.7L482.3 80.7Z" fill="#ffe000"/>
<path d="M532.6 82.1L538.4 80.7L533.8 79.1L528.1 80.5Z" fill="#ffe100"/>
<path d="M578.3 86.6L584 85.5L579.5 83.5L573.8 84.6Z" fill="#f5f700"/>
<path d="M476.6 82.9L482.3 80.7L477.7 79.4L472 81.5Z" fill="#ffe400"/>
<path d="M522.3 82L528.1 80.5L523.5 78.9L517.8 80.5Z" fill="#ffdd00"/>
<path d="M568.1 85.7L573.8 84.6L569.2 82.6L563.5 83.7Z" fill="#f8f100"/>
<path d="M466.3 83.9L472 81.5L467.5 80.3L461.8 82.5Z" fill="#fee800"/>
<path d="M512 82.2L517.8 80.5L513.2 79L507.4 80.7Z" fill="#ffdb00"/>
<path d="M557.8 84.9L563.5 83.7L558.9 81.8L553.2 83Z" fill="#fbec00"/>
<path d="M456.1 85L461.8 82.5L457.2 81.2L451.5 83.5Z" fill="#fceb00"/>
<path d="M501.7 82.6L507.4 80.7L502.9 79.4L497.2 81.2Z" fill="#ffdc00"/>
<path d="M547.5 84.3L553.2 83L548.7 81.1L542.9 82.4Z" fill="#fee800"/>
<path d="M491.4 83.3L497.2 81.2L492.6 79.9L486.9 82Z" fill="#ffde00"/>
<path d="M537.2 83.8L542.9 82.4L538.4 80.7L532.6 82.1Z" fill="#ffe300"/>
<path d="M582.9 88.9L588.6 87.6L584 85.5L578.3 86.6Z" fill="#f3fa00"/>
<path d="M481.1 84.2L486.9 82L482.3 80.7L476.6 82.9Z" fill="#ffe300"/>
<path d="M526.9 83.7L532.6 82.1L528.1 80.5L522.3 82Z" fill="#ffde00"/>
<path d="M572.6 87.9L578.3 86.6L573.8 84.6L568.1 85.7Z" fill="#f7f400"/>
<path d="M470.9 85.3L476.6 82.9L472 81.5L466.3 83.9Z" fill="#fee700"/>
<path d="M516.6 83.7L522.3 82L517.8 80.5L512 82.2Z" fill="#ffdc00"/>
<path d="M562.4 87L568.1 85.7L563.5 83.7L557.8 84.9Z" fill="#faee00"/>
<path d="M460.6 86.5L466.3 83.9L461.8 82.5L456.1 85Z" fill="#fceb00"/>
<path d="M506.3 84.1L512 82.2L507.4 80.7L501.7 82.6Z" fill="#ffdc00"/>
<path d="M552.1 86.2L557.8 84.9L553.2 83L547.5 84.3Z" fill="#fdea00"/>
<path d="M496 84.7L501.7 82.6L497.2 81.2L491.4 83.3Z" fill="#ffde00"/>
<path d="M541.8 85.7L547.5 84.3L542.9 82.4L537.2 83.8Z" fill="#ffe500"/>
<path d="M531.5 85.4L537.2 83.8L532.6 82.1L526.9 83.7Z" fill="#ffe000"/>
<path d="M577.2 90.1L582.9 88.9L578.3 86.6L572.6 87.9Z" fill="#f5f700"/>
<path d="M485.7 85.6L491.4 83.3L486.9 82L481.1 84.2Z" fill="#ffe200"/>
<path d="M475.4 86.7L481.1 84.2L476.6 82.9L470.9 85.3Z" fill="#ffe700"/>
<path d="M521.2 85.4L526.9 83.7L522.3 82L516.6 83.7Z" fill="#ffdd00"/>
<path d="M566.9 89.1L572.6 87.9L568.1 85.7L562.4 87Z" fill="#f8f100"/>
<path d="M465.2 87.9L470.9 85.3L466.3 83.9L460.6 86.5Z" fill="#fcea00"/>
<path d="M510.9 85.7L516.6 83.7L512 82.2L506.3 84.1Z" fill="#ffdc00"/>
<path d="M556.6 88.3L562.4 87L557.8 84.9L552.1 86.2Z" fill="#fbec00"/>
<path d="M500.6 86.2L506.3 84.1L501.7 82.6L496 84.7Z" fill="#ffde00"/>
<path d="M546.3 87.6L552.1 86.2L547.5 84.3L541.8 85.7Z" fill="#fee800"/>
<path d="M490.3 87.1L496 84.7L491.4 83.3L485.7 85.6Z" fill="#ffe100"/>
<path d="M536 87.2L541.8 85.7L537.2 83.8L531.5 85.4Z" fill="#ffe300"/>
<path d="M480 88.1L485.7 85.6L481.1 84.2L475.4 86.7Z" fill="#ffe600"/>
<path d="M525.7 87.1L531.5 85.4L526.9 83.7L521.2 85.4Z" fill="#ffdf00"/>
<path d="M571.5 91.5L577.2 90.1L572.6 87.9L566.9 89.1Z" fill="#f6f500"/>
<path d="M469.7 89.4L475.4 86.7L470.9 85.3L465.2 87.9Z" fill="#fdea00"/>
<path d="M515.4 87.3L521.2 85.4L516.6 83.7L510.9 85.7Z" fill="#ffdd00"/>
<path d="M561.2 90.5L566.9 89.1L562.4 87L556.6 88.3Z" fill="#faef00"/>
<path d="M505.1 87.8L510.9 85.7L506.3 84.1L500.6 86.2Z" fill="#ffde00"/>
<path d="M550.9 89.7L556.6 88.3L552.1 86.2L546.3 87.6Z" fill="#fdea00"/>
<path d="M494.9 88.5L500.6 86.2L496 84.7L490.3 87.1Z" fill="#ffe100"/>
<path d="M540.6 89.2L546.3 87.6L541.8 85.7L536 87.2Z" fill="#ffe600"/>
<path d="M484.6 89.6L490.3 87.1L485.7 85.6L480 88.1Z" fill="#ffe600"/>
<path d="M530.3 89L536 87.2L531.5 85.4L525.7 87.1Z" fill="#ffe200"/>
<path d="M474.3 90.9L480 88.1L475.4 86.7L469.7 89.4Z" fill="#fdea00"/>
<path d="M520 89L525.7 87.1L521.2 85.4L515.4 87.3Z" fill="#ffdf00"/>
<path d="M565.8 92.8L571.5 91.5L566.9 89.1L561.2 90.5Z" fill="#f7f300"/>
<path d="M509.7 89.4L515.4 87.3L510.9 85.7L505.1 87.8Z" fill="#ffdf00"/>
<path d="M555.5 91.9L561.2 90.5L556.6 88.3L550.9 89.7Z" fill="#fbed00"/>
<path d="M545.2 91.3L550.9 89.7L546.3 87.6L540.6 89.2Z" fill="#fde900"/>
<path d="M499.4 90.1L505.1 87.8L500.6 86.2L494.9 88.5Z" fill="#ffe100"/>
<path d="M489.1 91.1L494.9 88.5L490.3 87.1L484.6 89.6Z" fill="#ffe600"/>
<path d="M534.9 90.9L540.6 89.2L536 87.2L530.3 89Z" fill="#ffe500"/>
<path d="M478.9 92.3L484.6 89.6L480 88.1L474.3 90.9Z" fill="#fde900"/>
<path d="M524.6 90.8L530.3 89L525.7 87.1L520 89Z" fill="#ffe100"/>
<path d="M514.3 91.1L520 89L515.4 87.3L509.7 89.4Z" fill="#ffe000"/>
<path d="M560 94.3L565.8 92.8L561.2 90.5L555.5 91.9Z" fill="#f9f000"/>
<path d="M504 91.7L509.7 89.4L505.1 87.8L499.4 90.1Z" fill="#ffe200"/>
<path d="M549.7 93.4L555.5 91.9L550.9 89.7L545.2 91.3Z" fill="#fceb00"/>
<path d="M493.7 92.6L499.4 90.1L494.9 88.5L489.1 91.1Z" fill="#ffe600"/>
<path d="M539.5 92.9L545.2 91.3L540.6 89.2L534.9 90.9Z" fill="#fee800"/>
<path d="M483.4 93.8L489.1 91.1L484.6 89.6L478.9 92.3Z" fill="#fde900"/>
<path d="M529.2 92.7L534.9 90.9L530.3 89L524.6 90.8Z" fill="#ffe400"/>
<path d="M518.9 92.8L524.6 90.8L520 89L514.3 91.1Z" fill="#ffe200"/>
<path d="M554.3 95.7L560 94.3L555.5 91.9L549.7 93.4Z" fill="#faef00"/>
<path d="M508.6 93.3L514.3 91.1L509.7 89.4L504 91.7Z" fill="#ffe300"/>
<path d="M498.3 94.1L504 91.7L499.4 90.1L493.7 92.6Z" fill="#ffe600"/>
<path d="M544 95L549.7 93.4L545.2 91.3L539.5 92.9Z" fill="#fcea00"/>
<path d="M488 95.3L493.7 92.6L489.1 91.1L483.4 93.8Z" fill="#fde900"/>
<path d="M533.7 94.6L539.5 92.9L534.9 90.9L529.2 92.7Z" fill="#fee700"/>
<path d="M523.4 94.6L529.2 92.7L524.6 90.8L518.9 92.8Z" fill="#ffe500"/>
<path d="M513.1 94.9L518.9 92.8L514.3 91.1L508.6 93.3Z" fill="#ffe400"/>
<path d="M548.6 97.2L554.3 95.7L549.7 93.4L544 95Z" fill="#fbed00"/>
<path d="M502.8 95.6L508.6 93.3L504 91.7L498.3 94.1Z" fill="#ffe600"/>
<path d="M492.5 96.7L498.3 94.1L493.7 92.6L488 95.3Z" fill="#fde900"/>
<path d="M538.3 96.7L544 95L539.5 92.9L533.7 94.6Z" fill="#fde900"/>
<path d="M528 96.5L533.7 94.6L529.2 92.7L523.4 94.6Z" fill="#ffe700"/>
<path d="M517.7 96.6L523.4 94.6L518.9 92.8L513.1 94.9Z" fill="#ffe600"/>
<path d="M507.4 97.2L513.1 94.9L508.6 93.3L502.8 95.6Z" fill="#ffe700"/>
<path d="M497.1 98.2L502.8 95.6L498.3 94.1L492.5 96.7Z" fill="#fde900"/>
<path d="M542.9 98.8L548.6 97.2L544 95L538.3 96.7Z" fill="#fbec00"/>
<path d="M532.6 98.4L538.3 96.7L533.7 94.6L528 96.5Z" fill="#fde900"/>
<path d="M522.3 98.4L528 96.5L523.4 94.6L517.7 96.6Z" fill="#fee700"/>
<path d="M512 98.8L517.7 96.6L513.1 94.9L507.4 97.2Z" fill="#fee700"/>
<path d="M501.7 99.7L507.4 97.2L502.8 95.6L497.1 98.2Z" fill="#fde900"/>
<path d="M537.1 100.4L542.9 98.8L538.3 96.7L532.6 98.4Z" fill="#fceb00"/>
<path d="M526.8 100.2L532.6 98.4L528 96.5L522.3 98.4Z" fill="#fee800"/>
<path d="M516.5 100.4L522.3 98.4L517.7 96.6L512 98.8Z" fill="#fee800"/>
<path d="M506.2 101.1L512 98.8L507.4 97.2L501.7 99.7Z" fill="#fde900"/>
<path d="M531.4 102L537.1 100.4L532.6 98.4L526.8 100.2Z" fill="#fdea00"/>
<path d="M521.1 102.1L526.8 100.2L522.3 98.4L516.5 100.4Z" fill="#fde900"/>
<path d="M510.8 102.6L516.5 100.4L512 98.8L506.2 101.1Z" fill="#fde900"/>
<path d="M525.7 103.7L531.4 102L526.8 100.2L521.1 102.1Z" fill="#fde900"/>
<path d="M515.4 104L521.1 102.1L516.5 100.4L510.8 102.6Z" fill="#fde900"/>
<path d="M519.9 105.5L525.7 103.7L521.1 102.1L515.4 104Z" fill="#fde900"/>
</g>
<circle cx="519.8" cy="57.8" r="2.45" fill="#ba0a0a" stroke="#5e0000" stroke-width=".7"/>
<circle cx="519.8" cy="65.5" r="2.45" fill="#ba0a0a" stroke="#5e0000" stroke-width=".7"/>
<circle cx="519.8" cy="67.7" r="2.45" fill="#ba0a0a" stroke="#5e0000" stroke-width=".7"/>
<circle cx="519.8" cy="72.1" r="2.45" fill="#ba0a0a" stroke="#5e0000" stroke-width=".7"/>
<path d="M410.4 163.8h0M409.3 140.1h0M408.1 116.3h0M407 92.6h0M405.9 68.9h0M404.8 45.2h0M519.8 254.8h0M537.9 245.8h0M556.1 236.8h0M574.2 227.8h0M592.3 218.8h0M610.5 209.8h0M628.6 200.8h0M519.8 254.8h0M507.8 248.8h0M495.9 242.8h0M483.9 236.8h0M471.9 230.8h0M460 224.8h0M448 218.8h0M436 212.8h0M424.1 206.8h0M412.1 200.8h0" stroke="#000" stroke-width="2.4" stroke-linecap="round"/>
<text class="t" text-anchor="end" transform="translate(405.9 162.2) scale(.86 1)">0</text>
<text class="t" text-anchor="end" transform="translate(404.8 138.5) scale(.86 1)">20</text>
<text class="t" text-anchor="end" transform="translate(403.6 114.7) scale(.86 1)">40</text>
<text class="t" text-anchor="end" transform="translate(402.5 91) scale(.86 1)">60</text>
<text class="t" text-anchor="end" transform="translate(401.4 67.3) scale(.86 1)">80</text>
<text class="t" text-anchor="end" transform="translate(400.3 43.6) scale(.86 1)">100</text>
<text class="t" transform="translate(524 264.1) scale(.86 1)">4</text>
<text class="t" transform="translate(542.1 255.1) scale(.86 1)">5</text>
<text class="t" transform="translate(560.3 246.1) scale(.86 1)">6</text>
<text class="t" transform="translate(578.4 237.1) scale(.86 1)">7</text>
<text class="t" transform="translate(596.5 228.1) scale(.86 1)">8</text>
<text class="t" transform="translate(614.7 219.1) scale(.86 1)">9</text>
<text class="t" transform="translate(632.8 210.1) scale(.86 1)">10</text>
<text class="t" text-anchor="end" transform="translate(515.6 264.1) scale(.86 1)">10</text>
<text class="t" text-anchor="end" transform="translate(503.6 258.1) scale(.86 1)">20</text>
<text class="t" text-anchor="end" transform="translate(491.7 252.1) scale(.86 1)">30</text>
<text class="t" text-anchor="end" transform="translate(479.7 246.1) scale(.86 1)">40</text>
<text class="t" text-anchor="end" transform="translate(467.7 240.1) scale(.86 1)">50</text>
<text class="t" text-anchor="end" transform="translate(455.8 234.1) scale(.86 1)">60</text>
<text class="t" text-anchor="end" transform="translate(443.8 228.1) scale(.86 1)">70</text>
<text class="t" text-anchor="end" transform="translate(431.8 222.1) scale(.86 1)">80</text>
<text class="t" text-anchor="end" transform="translate(419.9 216.1) scale(.86 1)">90</text>
<text class="t" text-anchor="end" transform="translate(407.9 210.1) scale(.86 1)">100</text>
<text class="b" x="429.9" y="248" text-anchor="middle">C: color</text>
<text class="b" x="433.5" y="263.1" text-anchor="middle">(g/ml)</text>
<text class="b" x="615.4" y="252.3" text-anchor="middle">A: pH</text>
<text class="b" text-anchor="middle" transform="translate(383.7 122.4) rotate(-90)">Decoloring</text>
<text class="h" x="351.3" y="29.2">(b)</text>
<rect x="3.7" y="289.2" width="334.4" height="277.6" fill="#fff" stroke="#333" stroke-width="1.7"/>
<path d="M64.6 490.6L182.6 545.1L301.9 490.6L182.6 447.8Z" fill="#636363" stroke="#444" stroke-width=".5"/>
<path d="M103 478Q108.3 492.4 95.5 504.4" fill="none" stroke="#f08a14" stroke-width="1.5"/>
<path d="M141.5 463.7C143.7 465.7 151.3 471.2 154.5 475.5C157.7 479.8 161 484.1 160.8 489.3C160.6 494.5 157.7 501.4 153.3 506.9C148.9 512.4 137.6 519.9 134.4 522.5" fill="none" stroke="#e8dc00" stroke-width="1.5"/>
<path d="M172.8 451.3C176.9 453 189.3 457.5 197.1 461.7C204.9 465.9 214.5 471.5 219.7 476.7C224.9 481.9 228.5 487.2 228.5 493.1C228.5 499 224.9 506 219.7 511.9C214.5 517.8 205.4 523.6 197.1 528.2C188.8 532.8 174.5 537.4 170 539.3" fill="none" stroke="#78e000" stroke-width="1.5"/>
<path d="M82.6 447.2L77.1 331.1M102.6 440.7L98.2 326.5M122.6 434.1L119.3 321.9M142.6 427.6L140.4 317.3M162.6 421.1L161.5 312.7M283.5 447.1L288.3 330.5M263.3 440.6L267.1 326M243.1 434.1L246 321.6M223 427.6L224.9 317.1M202.8 421.1L203.7 312.6M62.6 453.7L182.6 414.6L303.7 453.6M61.2 430.1L182.6 393.3L304.8 429.9M59.9 406.5L182.6 372L306 406.1M58.6 382.9L182.6 350.7L307.1 382.4M57.3 359.3L182.6 329.4L308.3 358.7" fill="none" stroke="#3a3a3a" stroke-width=".7"/>
<path d="M56 335.7L182.6 308.1L309.4 335M64.6 490.6L56 335.7M182.6 447.8L182.6 308.1M301.9 490.6L309.4 335" fill="none" stroke="#2a2a2a" stroke-width=".9"/>
<path d="M64.6 490.6L182.6 545.1L301.9 490.6" fill="none" stroke="#111" stroke-width="1"/>
<g stroke="#000" stroke-opacity=".72" stroke-width=".48" stroke-linejoin="round">
<path d="M183.9 345.5L188.8 345.9L182.6 344.3L177.6 343.9Z" fill="#71ff00"/>
<path d="M178.9 345.1L183.9 345.5L177.6 343.9L172.6 343.5Z" fill="#85ff00"/>
<path d="M190.1 347.2L195.1 347.4L188.8 345.9L183.9 345.5Z" fill="#71ff00"/>
<path d="M173.9 344.8L178.9 345.1L172.6 343.5L167.6 343.1Z" fill="#9bff00"/>
<path d="M185.1 346.9L190.1 347.2L183.9 345.5L178.9 345.1Z" fill="#83ff00"/>
<path d="M196.4 348.8L201.3 349.1L195.1 347.4L190.1 347.2Z" fill="#70ff00"/>
<path d="M168.9 344.5L173.9 344.8L167.6 343.1L162.6 342.7Z" fill="#b1ff00"/>
<path d="M180.1 346.6L185.1 346.9L178.9 345.1L173.9 344.8Z" fill="#99ff00"/>
<path d="M191.4 348.6L196.4 348.8L190.1 347.2L185.1 346.9Z" fill="#81ff00"/>
<path d="M202.6 350.6L207.6 350.7L201.3 349.1L196.4 348.8Z" fill="#6fff00"/>
<path d="M163.9 344.2L168.9 344.5L162.6 342.7L157.6 342.3Z" fill="#c6ff00"/>
<path d="M175.1 346.4L180.1 346.6L173.9 344.8L168.9 344.5Z" fill="#aeff00"/>
<path d="M186.4 348.4L191.4 348.6L185.1 346.9L180.1 346.6Z" fill="#96ff00"/>
<path d="M197.6 350.4L202.6 350.6L196.4 348.8L191.4 348.6Z" fill="#7fff00"/>
<path d="M158.9 343.9L163.9 344.2L157.6 342.3L152.6 341.9Z" fill="#dbff00"/>
<path d="M208.8 352.3L213.8 352.4L207.6 350.7L202.6 350.6Z" fill="#6dff00"/>
<path d="M170.1 346.1L175.1 346.4L168.9 344.5L163.9 344.2Z" fill="#c2ff00"/>
<path d="M181.4 348.2L186.4 348.4L180.1 346.6L175.1 346.4Z" fill="#aaff00"/>
<path d="M192.6 350.3L197.6 350.4L191.4 348.6L186.4 348.4Z" fill="#93ff00"/>
<path d="M153.9 343.6L158.9 343.9L152.6 341.9L147.6 341.6Z" fill="#f0ff00"/>
<path d="M203.9 352.2L208.8 352.3L202.6 350.6L197.6 350.4Z" fill="#7cff00"/>
<path d="M165.1 345.9L170.1 346.1L163.9 344.2L158.9 343.9Z" fill="#d7ff00"/>
<path d="M215.1 354.1L220 354.1L213.8 352.4L208.8 352.3Z" fill="#6cff00"/>
<path d="M176.4 348.1L181.4 348.2L175.1 346.4L170.1 346.1Z" fill="#beff00"/>
<path d="M187.7 350.2L192.6 350.3L186.4 348.4L181.4 348.2Z" fill="#a6ff00"/>
<path d="M198.9 352.2L203.9 352.2L197.6 350.4L192.6 350.3Z" fill="#8fff00"/>
<path d="M148.8 343.4L153.9 343.6L147.6 341.6L142.6 341.3Z" fill="#f5f700"/>
<path d="M160.1 345.7L165.1 345.9L158.9 343.9L153.9 343.6Z" fill="#ebff00"/>
<path d="M210.1 354.1L215.1 354.1L208.8 352.3L203.9 352.2Z" fill="#79ff00"/>
<path d="M171.4 347.9L176.4 348.1L170.1 346.1L165.1 345.9Z" fill="#d2ff00"/>
<path d="M221.3 355.9L226.3 355.9L220 354.1L215.1 354.1Z" fill="#6aff00"/>
<path d="M182.7 350.1L187.7 350.2L181.4 348.2L176.4 348.1Z" fill="#b9ff00"/>
<path d="M143.8 343.1L148.8 343.4L142.6 341.3L137.5 340.9Z" fill="#f9f000"/>
<path d="M193.9 352.1L198.9 352.2L192.6 350.3L187.7 350.2Z" fill="#a2ff00"/>
<path d="M155.1 345.5L160.1 345.7L153.9 343.6L148.8 343.4Z" fill="#f3fa00"/>
<path d="M205.1 354.1L210.1 354.1L203.9 352.2L198.9 352.2Z" fill="#8bff00"/>
<path d="M166.4 347.8L171.4 347.9L165.1 345.9L160.1 345.7Z" fill="#e5ff00"/>
<path d="M216.4 356L221.3 355.9L215.1 354.1L210.1 354.1Z" fill="#76ff00"/>
<path d="M177.7 350L182.7 350.1L176.4 348.1L171.4 347.9Z" fill="#ccff00"/>
<path d="M227.6 357.8L232.5 357.7L226.3 355.9L221.3 355.9Z" fill="#67ff00"/>
<path d="M138.8 342.9L143.8 343.1L137.5 340.9L132.5 340.7Z" fill="#fde900"/>
<path d="M188.9 352.1L193.9 352.1L187.7 350.2L182.7 350.1Z" fill="#b4ff00"/>
<path d="M150.1 345.3L155.1 345.5L148.8 343.4L143.8 343.1Z" fill="#f7f300"/>
<path d="M200.2 354.1L205.1 354.1L198.9 352.2L193.9 352.1Z" fill="#9dff00"/>
<path d="M211.4 356.1L216.4 356L210.1 354.1L205.1 354.1Z" fill="#87ff00"/>
<path d="M161.4 347.7L166.4 347.8L160.1 345.7L155.1 345.5Z" fill="#f2fc00"/>
<path d="M172.6 349.9L177.7 350L171.4 347.9L166.4 347.8Z" fill="#dfff00"/>
<path d="M222.6 357.9L227.6 357.8L221.3 355.9L216.4 356Z" fill="#73ff00"/>
<path d="M183.9 352.1L188.9 352.1L182.7 350.1L177.7 350Z" fill="#c6ff00"/>
<path d="M133.7 342.7L138.8 342.9L132.5 340.7L127.4 340.4Z" fill="#ffde00"/>
<path d="M233.8 359.7L238.8 359.5L232.5 357.7L227.6 357.8Z" fill="#65ff00"/>
<path d="M145 345.2L150.1 345.3L143.8 343.1L138.8 342.9Z" fill="#fceb00"/>
<path d="M195.2 354.2L200.2 354.1L193.9 352.1L188.9 352.1Z" fill="#afff00"/>
<path d="M156.3 347.6L161.4 347.7L155.1 345.5L150.1 345.3Z" fill="#f6f500"/>
<path d="M206.4 356.2L211.4 356.1L205.1 354.1L200.2 354.1Z" fill="#98ff00"/>
<path d="M167.6 349.9L172.6 349.9L166.4 347.8L161.4 347.7Z" fill="#f0ff00"/>
<path d="M217.6 358.1L222.6 357.9L216.4 356L211.4 356.1Z" fill="#82ff00"/>
<path d="M128.7 342.5L133.7 342.7L127.4 340.4L122.4 340.1Z" fill="#ffd100"/>
<path d="M178.9 352.1L183.9 352.1L177.7 350L172.6 349.9Z" fill="#d8ff00"/>
<path d="M228.8 359.9L233.8 359.7L227.6 357.8L222.6 357.9Z" fill="#70ff00"/>
<path d="M140 345L145 345.2L138.8 342.9L133.7 342.7Z" fill="#ffe300"/>
<path d="M190.2 354.3L195.2 354.2L188.9 352.1L183.9 352.1Z" fill="#c0ff00"/>
<path d="M240 361.7L245 361.4L238.8 359.5L233.8 359.7Z" fill="#62ff00"/>
<path d="M151.3 347.5L156.3 347.6L150.1 345.3L145 345.2Z" fill="#faef00"/>
<path d="M201.4 356.3L206.4 356.2L200.2 354.1L195.2 354.2Z" fill="#a9ff00"/>
<path d="M162.6 349.9L167.6 349.9L161.4 347.7L156.3 347.6Z" fill="#f4f800"/>
<path d="M212.6 358.3L217.6 358.1L211.4 356.1L206.4 356.2Z" fill="#92ff00"/>
<path d="M123.6 342.3L128.7 342.5L122.4 340.1L117.3 339.9Z" fill="#ffc500"/>
<path d="M173.9 352.1L178.9 352.1L172.6 349.9L167.6 349.9Z" fill="#e9ff00"/>
<path d="M223.9 360.2L228.8 359.9L222.6 357.9L217.6 358.1Z" fill="#7dff00"/>
<path d="M134.9 344.9L140 345L133.7 342.7L128.7 342.5Z" fill="#ffd700"/>
<path d="M185.2 354.3L190.2 354.3L183.9 352.1L178.9 352.1Z" fill="#d1ff00"/>
<path d="M235.1 361.9L240 361.7L233.8 359.7L228.8 359.9Z" fill="#6dff00"/>
<path d="M146.3 347.4L151.3 347.5L145 345.2L140 345Z" fill="#fee800"/>
<path d="M196.4 356.4L201.4 356.3L195.2 354.2L190.2 354.3Z" fill="#b9ff00"/>
<path d="M246.3 363.6L251.2 363.3L245 361.4L240 361.7Z" fill="#5fff00"/>
<path d="M157.6 349.8L162.6 349.9L156.3 347.6L151.3 347.5Z" fill="#f8f200"/>
<path d="M207.7 358.5L212.6 358.3L206.4 356.2L201.4 356.3Z" fill="#a2ff00"/>
<path d="M118.5 342.1L123.6 342.3L117.3 339.9L112.2 339.6Z" fill="#ffb800"/>
<path d="M168.9 352.2L173.9 352.1L167.6 349.9L162.6 349.9Z" fill="#f2fb00"/>
<path d="M218.9 360.4L223.9 360.2L217.6 358.1L212.6 358.3Z" fill="#8cff00"/>
<path d="M129.9 344.8L134.9 344.9L128.7 342.5L123.6 342.3Z" fill="#ffcb00"/>
<path d="M230.1 362.2L235.1 361.9L228.8 359.9L223.9 360.2Z" fill="#77ff00"/>
<path d="M180.2 354.4L185.2 354.3L178.9 352.1L173.9 352.1Z" fill="#e1ff00"/>
<path d="M141.2 347.4L146.3 347.4L140 345L134.9 344.9Z" fill="#ffde00"/>
<path d="M191.4 356.6L196.4 356.4L190.2 354.3L185.2 354.3Z" fill="#c9ff00"/>
<path d="M241.3 364L246.3 363.6L240 361.7L235.1 361.9Z" fill="#69ff00"/>
<path d="M202.7 358.7L207.7 358.5L201.4 356.3L196.4 356.4Z" fill="#b2ff00"/>
<path d="M252.5 365.6L257.4 365.2L251.2 363.3L246.3 363.6Z" fill="#5bff00"/>
<path d="M152.6 349.8L157.6 349.8L151.3 347.5L146.3 347.4Z" fill="#fceb00"/>
<path d="M113.5 342L118.5 342.1L112.2 339.6L107.2 339.4Z" fill="#ffac00"/>
<path d="M163.9 352.2L168.9 352.2L162.6 349.9L157.6 349.8Z" fill="#f6f500"/>
<path d="M213.9 360.7L218.9 360.4L212.6 358.3L207.7 358.5Z" fill="#9bff00"/>
<path d="M124.8 344.7L129.9 344.8L123.6 342.3L118.5 342.1Z" fill="#ffc000"/>
<path d="M175.1 354.6L180.2 354.4L173.9 352.1L168.9 352.2Z" fill="#f0ff00"/>
<path d="M225.1 362.6L230.1 362.2L223.9 360.2L218.9 360.4Z" fill="#86ff00"/>
<path d="M136.2 347.3L141.2 347.4L134.9 344.9L129.9 344.8Z" fill="#ffd200"/>
<path d="M186.4 356.8L191.4 356.6L185.2 354.3L180.2 354.4Z" fill="#d9ff00"/>
<path d="M236.3 364.4L241.3 364L235.1 361.9L230.1 362.2Z" fill="#73ff00"/>
<path d="M147.5 349.9L152.6 349.8L146.3 347.4L141.2 347.4Z" fill="#ffe500"/>
<path d="M197.7 358.9L202.7 358.7L196.4 356.4L191.4 356.6Z" fill="#c1ff00"/>
<path d="M247.5 366.1L252.5 365.6L246.3 363.6L241.3 364Z" fill="#65ff00"/>
<path d="M108.4 341.9L113.5 342L107.2 339.4L102.1 339.2Z" fill="#ffa000"/>
<path d="M158.8 352.3L163.9 352.2L157.6 349.8L152.6 349.8Z" fill="#faef00"/>
<path d="M208.9 361L213.9 360.7L207.7 358.5L202.7 358.7Z" fill="#aaff00"/>
<path d="M258.7 367.7L263.7 367.2L257.4 365.2L252.5 365.6Z" fill="#58ff00"/>
<path d="M119.8 344.6L124.8 344.7L118.5 342.1L113.5 342Z" fill="#ffb400"/>
<path d="M170.1 354.7L175.1 354.6L168.9 352.2L163.9 352.2Z" fill="#f4f900"/>
<path d="M220.1 362.9L225.1 362.6L218.9 360.4L213.9 360.7Z" fill="#94ff00"/>
<path d="M131.1 347.3L136.2 347.3L129.9 344.8L124.8 344.7Z" fill="#ffc700"/>
<path d="M181.4 357L186.4 356.8L180.2 354.4L175.1 354.6Z" fill="#e8ff00"/>
<path d="M231.3 364.8L236.3 364.4L230.1 362.2L225.1 362.6Z" fill="#7fff00"/>
<path d="M142.5 349.9L147.5 349.9L141.2 347.4L136.2 347.3Z" fill="#ffda00"/>
<path d="M192.7 359.2L197.7 358.9L191.4 356.6L186.4 356.8Z" fill="#d0ff00"/>
<path d="M242.6 366.5L247.5 366.1L241.3 364L236.3 364.4Z" fill="#6eff00"/>
<path d="M103.3 341.8L108.4 341.9L102.1 339.2L97 339Z" fill="#ff9500"/>
<path d="M153.8 352.4L158.8 352.3L152.6 349.8L147.5 349.9Z" fill="#fde900"/>
<path d="M203.9 361.3L208.9 361L202.7 358.7L197.7 358.9Z" fill="#b9ff00"/>
<path d="M253.7 368.2L258.7 367.7L252.5 365.6L247.5 366.1Z" fill="#61ff00"/>
<path d="M114.7 344.6L119.8 344.6L113.5 342L108.4 341.9Z" fill="#ffa900"/>
<path d="M215.1 363.3L220.1 362.9L213.9 360.7L208.9 361Z" fill="#a2ff00"/>
<path d="M165.1 354.8L170.1 354.7L163.9 352.2L158.8 352.3Z" fill="#f7f300"/>
<path d="M264.9 369.8L269.9 369.2L263.7 367.2L258.7 367.7Z" fill="#53ff00"/>
<path d="M126.1 347.3L131.1 347.3L124.8 344.7L119.8 344.6Z" fill="#ffbc00"/>
<path d="M176.4 357.2L181.4 357L175.1 354.6L170.1 354.7Z" fill="#f2fc00"/>
<path d="M226.4 365.2L231.3 364.8L225.1 362.6L220.1 362.9Z" fill="#8cff00"/>
<path d="M187.7 359.4L192.7 359.2L186.4 356.8L181.4 357Z" fill="#dfff00"/>
<path d="M137.4 350L142.5 349.9L136.2 347.3L131.1 347.3Z" fill="#ffcf00"/>
<path d="M237.6 367L242.6 366.5L236.3 364.4L231.3 364.8Z" fill="#77ff00"/>
<path d="M98.2 341.7L103.3 341.8L97 339L91.9 338.9Z" fill="#ff8900"/>
<path d="M148.8 352.5L153.8 352.4L147.5 349.9L142.5 349.9Z" fill="#ffe100"/>
<path d="M198.9 361.6L203.9 361.3L197.7 358.9L192.7 359.2Z" fill="#c7ff00"/>
<path d="M248.8 368.7L253.7 368.2L247.5 366.1L242.6 366.5Z" fill="#6aff00"/>
<path d="M109.6 344.6L114.7 344.6L108.4 341.9L103.3 341.8Z" fill="#ff9e00"/>
<path d="M160.1 355L165.1 354.8L158.8 352.3L153.8 352.4Z" fill="#fbed00"/>
<path d="M210.2 363.6L215.1 363.3L208.9 361L203.9 361.3Z" fill="#b0ff00"/>
<path d="M260 370.4L264.9 369.8L258.7 367.7L253.7 368.2Z" fill="#5cff00"/>
<path d="M121 347.4L126.1 347.3L119.8 344.6L114.7 344.6Z" fill="#ffb100"/>
<path d="M171.4 357.4L176.4 357.2L170.1 354.7L165.1 354.8Z" fill="#f5f700"/>
<path d="M221.4 365.6L226.4 365.2L220.1 362.9L215.1 363.3Z" fill="#9aff00"/>
<path d="M271.1 371.9L276.1 371.3L269.9 369.2L264.9 369.8Z" fill="#4fff00"/>
<path d="M182.6 359.7L187.7 359.4L181.4 357L176.4 357.2Z" fill="#edff00"/>
<path d="M132.4 350.1L137.4 350L131.1 347.3L126.1 347.3Z" fill="#ffc500"/>
<path d="M232.6 367.5L237.6 367L231.3 364.8L226.4 365.2Z" fill="#84ff00"/>
<path d="M143.7 352.7L148.8 352.5L142.5 349.9L137.4 350Z" fill="#ffd700"/>
<path d="M93.1 341.6L98.2 341.7L91.9 338.9L86.8 338.7Z" fill="#ff7d00"/>
<path d="M193.9 361.9L198.9 361.6L192.7 359.2L187.7 359.4Z" fill="#d5ff00"/>
<path d="M243.8 369.3L248.8 368.7L242.6 366.5L237.6 367Z" fill="#72ff00"/>
<path d="M104.6 344.6L109.6 344.6L103.3 341.8L98.2 341.7Z" fill="#ff9300"/>
<path d="M155 355.2L160.1 355L153.8 352.4L148.8 352.5Z" fill="#fee800"/>
<path d="M205.2 364L210.2 363.6L203.9 361.3L198.9 361.6Z" fill="#bdff00"/>
<path d="M255 371L260 370.4L253.7 368.2L248.8 368.7Z" fill="#64ff00"/>
<path d="M115.9 347.4L121 347.4L114.7 344.6L109.6 344.6Z" fill="#ffa700"/>
<path d="M166.3 357.7L171.4 357.4L165.1 354.8L160.1 355Z" fill="#f8f200"/>
<path d="M216.4 366.1L221.4 365.6L215.1 363.3L210.2 363.6Z" fill="#a7ff00"/>
<path d="M266.2 372.6L271.1 371.9L264.9 369.8L260 370.4Z" fill="#57ff00"/>
<path d="M127.3 350.2L132.4 350.1L126.1 347.3L121 347.4Z" fill="#ffbb00"/>
<path d="M177.6 360L182.6 359.7L176.4 357.2L171.4 357.4Z" fill="#f2fb00"/>
<path d="M227.6 368L232.6 367.5L226.4 365.2L221.4 365.6Z" fill="#91ff00"/>
<path d="M277.4 374.1L282.3 373.4L276.1 371.3L271.1 371.9Z" fill="#4aff00"/>
<path d="M88 341.6L93.1 341.6L86.8 338.7L81.7 338.6Z" fill="#ff7000"/>
<path d="M138.7 352.8L143.7 352.7L137.4 350L132.4 350.1Z" fill="#ffcd00"/>
<path d="M188.9 362.3L193.9 361.9L187.7 359.4L182.6 359.7Z" fill="#e2ff00"/>
<path d="M238.8 369.9L243.8 369.3L237.6 367L232.6 367.5Z" fill="#7cff00"/>
<path d="M99.5 344.6L104.6 344.6L98.2 341.7L93.1 341.6Z" fill="#ff8800"/>
<path d="M150 355.4L155 355.2L148.8 352.5L143.7 352.7Z" fill="#ffe000"/>
<path d="M200.2 364.5L205.2 364L198.9 361.6L193.9 361.9Z" fill="#caff00"/>
<path d="M250 371.6L255 371L248.8 368.7L243.8 369.3Z" fill="#6cff00"/>
<path d="M110.9 347.5L115.9 347.4L109.6 344.6L104.6 344.6Z" fill="#ff9d00"/>
<path d="M161.3 357.9L166.3 357.7L160.1 355L155 355.2Z" fill="#fbec00"/>
<path d="M261.2 373.3L266.2 372.6L260 370.4L255 371Z" fill="#5fff00"/>
<path d="M211.4 366.6L216.4 366.1L210.2 363.6L205.2 364Z" fill="#b3ff00"/>
<path d="M122.3 350.3L127.3 350.2L121 347.4L115.9 347.4Z" fill="#ffb100"/>
<path d="M172.6 360.4L177.6 360L171.4 357.4L166.3 357.7Z" fill="#f5f600"/>
<path d="M222.6 368.6L227.6 368L221.4 365.6L216.4 366.1Z" fill="#9dff00"/>
<path d="M272.4 374.9L277.4 374.1L271.1 371.9L266.2 372.6Z" fill="#52ff00"/>
<path d="M83 341.6L88 341.6L81.7 338.6L76.6 338.5Z" fill="#ff6300"/>
<path d="M133.6 353L138.7 352.8L132.4 350.1L127.3 350.2Z" fill="#ffc400"/>
<path d="M233.8 370.5L238.8 369.9L232.6 367.5L227.6 368Z" fill="#87ff00"/>
<path d="M283.6 376.3L288.5 375.5L282.3 373.4L277.4 374.1Z" fill="#45ff00"/>
<path d="M183.9 362.7L188.9 362.3L182.6 359.7L177.6 360Z" fill="#efff00"/>
<path d="M94.4 344.6L99.5 344.6L93.1 341.6L88 341.6Z" fill="#ff7d00"/>
<path d="M145 355.7L150 355.4L143.7 352.7L138.7 352.8Z" fill="#ffd600"/>
<path d="M195.2 364.9L200.2 364.5L193.9 361.9L188.9 362.3Z" fill="#d7ff00"/>
<path d="M245 372.3L250 371.6L243.8 369.3L238.8 369.9Z" fill="#74ff00"/>
<path d="M105.8 347.6L110.9 347.5L104.6 344.6L99.5 344.6Z" fill="#ff9200"/>
<path d="M156.3 358.2L161.3 357.9L155 355.2L150 355.4Z" fill="#fee700"/>
<path d="M206.4 367.1L211.4 366.6L205.2 364L200.2 364.5Z" fill="#bfff00"/>
<path d="M256.2 374L261.2 373.3L255 371L250 371.6Z" fill="#66ff00"/>
<path d="M117.2 350.4L122.3 350.3L115.9 347.4L110.9 347.5Z" fill="#ffa700"/>
<path d="M167.6 360.7L172.6 360.4L166.3 357.7L161.3 357.9Z" fill="#f8f100"/>
<path d="M217.6 369.1L222.6 368.6L216.4 366.1L211.4 366.6Z" fill="#a9ff00"/>
<path d="M267.4 375.6L272.4 374.9L266.2 372.6L261.2 373.3Z" fill="#59ff00"/>
<path d="M77.9 341.5L83 341.6L76.6 338.5L71.5 338.4Z" fill="#ff5700"/>
<path d="M128.6 353.2L133.6 353L127.3 350.2L122.3 350.3Z" fill="#ffba00"/>
<path d="M178.9 363.1L183.9 362.7L177.6 360L172.6 360.4Z" fill="#f3fb00"/>
<path d="M228.9 371.1L233.8 370.5L227.6 368L222.6 368.6Z" fill="#93ff00"/>
<path d="M278.6 377.2L283.6 376.3L277.4 374.1L272.4 374.9Z" fill="#4cff00"/>
<path d="M89.3 344.6L94.4 344.6L88 341.6L83 341.6Z" fill="#ff7100"/>
<path d="M139.9 355.9L145 355.7L138.7 352.8L133.6 353Z" fill="#ffcd00"/>
<path d="M190.1 365.4L195.2 364.9L188.9 362.3L183.9 362.7Z" fill="#e3ff00"/>
<path d="M240.1 373L245 372.3L238.8 369.9L233.8 370.5Z" fill="#7dff00"/>
<path d="M289.8 378.6L294.7 377.7L288.5 375.5L283.6 376.3Z" fill="#40ff00"/>
<path d="M100.7 347.7L105.8 347.6L99.5 344.6L94.4 344.6Z" fill="#ff8900"/>
<path d="M151.2 358.5L156.3 358.2L150 355.4L145 355.7Z" fill="#ffe000"/>
<path d="M201.4 367.6L206.4 367.1L200.2 364.5L195.2 364.9Z" fill="#cbff00"/>
<path d="M251.3 374.7L256.2 374L250 371.6L245 372.3Z" fill="#6eff00"/>
<path d="M112.1 350.6L117.2 350.4L110.9 347.5L105.8 347.6Z" fill="#ff9d00"/>
<path d="M162.6 361.1L167.6 360.7L161.3 357.9L156.3 358.2Z" fill="#fbec00"/>
<path d="M212.6 369.7L217.6 369.1L211.4 366.6L206.4 367.1Z" fill="#b4ff00"/>
<path d="M262.5 376.4L267.4 375.6L261.2 373.3L256.2 374Z" fill="#60ff00"/>
<path d="M72.7 341.6L77.9 341.5L71.5 338.4L66.4 338.4Z" fill="#ff4a00"/>
<path d="M123.5 353.4L128.6 353.2L122.3 350.3L117.2 350.4Z" fill="#ffb100"/>
<path d="M173.9 363.5L178.9 363.1L172.6 360.4L167.6 360.7Z" fill="#f5f600"/>
<path d="M223.9 371.7L228.9 371.1L222.6 368.6L217.6 369.1Z" fill="#9eff00"/>
<path d="M273.6 378L278.6 377.2L272.4 374.9L267.4 375.6Z" fill="#53ff00"/>
<path d="M84.2 344.7L89.3 344.6L83 341.6L77.9 341.5Z" fill="#ff6500"/>
<path d="M134.9 356.2L139.9 355.9L133.6 353L128.6 353.2Z" fill="#ffc400"/>
<path d="M185.1 365.9L190.1 365.4L183.9 362.7L178.9 363.1Z" fill="#efff00"/>
<path d="M235.1 373.7L240.1 373L233.8 370.5L228.9 371.1Z" fill="#88ff00"/>
<path d="M284.8 379.5L289.8 378.6L283.6 376.3L278.6 377.2Z" fill="#46ff00"/>
<path d="M146.2 358.9L151.2 358.5L145 355.7L139.9 355.9Z" fill="#ffd700"/>
<path d="M246.3 375.5L251.3 374.7L245 372.3L240.1 373Z" fill="#75ff00"/>
<path d="M95.6 347.8L100.7 347.7L94.4 344.6L89.3 344.6Z" fill="#ff7f00"/>
<path d="M196.4 368.1L201.4 367.6L195.2 364.9L190.1 365.4Z" fill="#d7ff00"/>
<path d="M296 380.9L300.9 379.9L294.7 377.7L289.8 378.6Z" fill="#3aff00"/>
<path d="M107.1 350.8L112.1 350.6L105.8 347.6L100.7 347.7Z" fill="#ff9400"/>
<path d="M157.5 361.5L162.6 361.1L156.3 358.2L151.2 358.5Z" fill="#fee800"/>
<path d="M207.6 370.3L212.6 369.7L206.4 367.1L201.4 367.6Z" fill="#bfff00"/>
<path d="M257.5 377.2L262.5 376.4L256.2 374L251.3 374.7Z" fill="#67ff00"/>
<path d="M118.4 353.7L123.5 353.4L117.2 350.4L112.1 350.6Z" fill="#ffa800"/>
<path d="M218.9 372.4L223.9 371.7L217.6 369.1L212.6 369.7Z" fill="#a8ff00"/>
<path d="M67.6 341.6L72.7 341.6L66.4 338.4L61.3 338.3Z" fill="#ff3e00"/>
<path d="M168.8 364L173.9 363.5L167.6 360.7L162.6 361.1Z" fill="#f8f200"/>
<path d="M268.7 378.9L273.6 378L267.4 375.6L262.5 376.4Z" fill="#59ff00"/>
<path d="M79.1 344.8L84.2 344.7L77.9 341.5L72.7 341.6Z" fill="#ff5900"/>
<path d="M129.8 356.5L134.9 356.2L128.6 353.2L123.5 353.4Z" fill="#ffbc00"/>
<path d="M180.1 366.4L185.1 365.9L178.9 363.1L173.9 363.5Z" fill="#f2fb00"/>
<path d="M230.1 374.4L235.1 373.7L228.9 371.1L223.9 371.7Z" fill="#92ff00"/>
<path d="M279.8 380.4L284.8 379.5L278.6 377.2L273.6 378Z" fill="#4dff00"/>
<path d="M90.6 347.9L95.6 347.8L89.3 344.6L84.2 344.7Z" fill="#ff7300"/>
<path d="M141.2 359.2L146.2 358.9L139.9 355.9L134.9 356.2Z" fill="#ffcf00"/>
<path d="M191.4 368.7L196.4 368.1L190.1 365.4L185.1 365.9Z" fill="#e2ff00"/>
<path d="M241.3 376.3L246.3 375.5L240.1 373L235.1 373.7Z" fill="#7dff00"/>
<path d="M291 381.9L296 380.9L289.8 378.6L284.8 379.5Z" fill="#40ff00"/>
<path d="M252.5 378.1L257.5 377.2L251.3 374.7L246.3 375.5Z" fill="#6dff00"/>
<path d="M102 351L107.1 350.8L100.7 347.7L95.6 347.8Z" fill="#ff8b00"/>
<path d="M152.5 361.9L157.5 361.5L151.2 358.5L146.2 358.9Z" fill="#ffe100"/>
<path d="M202.6 370.9L207.6 370.3L201.4 367.6L196.4 368.1Z" fill="#caff00"/>
<path d="M302.2 383.2L307.1 382.2L300.9 379.9L296 380.9Z" fill="#34ff00"/>
<path d="M62.5 341.7L67.6 341.6L61.3 338.3L56.1 338.3Z" fill="#ff3300"/>
<path d="M113.4 354L118.4 353.7L112.1 350.6L107.1 350.8Z" fill="#ff9f00"/>
<path d="M213.9 373.1L218.9 372.4L212.6 369.7L207.6 370.3Z" fill="#b3ff00"/>
<path d="M163.8 364.5L168.8 364L162.6 361.1L157.5 361.5Z" fill="#fbed00"/>
<path d="M263.7 379.8L268.7 378.9L262.5 376.4L257.5 377.2Z" fill="#60ff00"/>
<path d="M74 344.9L79.1 344.8L72.7 341.6L67.6 341.6Z" fill="#ff4e00"/>
<path d="M175.1 366.9L180.1 366.4L173.9 363.5L168.8 364Z" fill="#f5f700"/>
<path d="M225.1 375.1L230.1 374.4L223.9 371.7L218.9 372.4Z" fill="#9cff00"/>
<path d="M124.8 356.8L129.8 356.5L123.5 353.4L118.4 353.7Z" fill="#ffb400"/>
<path d="M274.9 381.4L279.8 380.4L273.6 378L268.7 378.9Z" fill="#53ff00"/>
<path d="M136.1 359.6L141.2 359.2L134.9 356.2L129.8 356.5Z" fill="#ffc700"/>
<path d="M85.5 348.1L90.6 347.9L84.2 344.7L79.1 344.8Z" fill="#ff6800"/>
<path d="M186.4 369.3L191.4 368.7L185.1 365.9L180.1 366.4Z" fill="#ecff00"/>
<path d="M236.3 377.1L241.3 376.3L235.1 373.7L230.1 374.4Z" fill="#86ff00"/>
<path d="M286 382.9L291 381.9L284.8 379.5L279.8 380.4Z" fill="#46ff00"/>
<path d="M147.5 362.3L152.5 361.9L146.2 358.9L141.2 359.2Z" fill="#ffd900"/>
<path d="M197.6 371.6L202.6 370.9L196.4 368.1L191.4 368.7Z" fill="#d4ff00"/>
<path d="M96.9 351.2L102 351L95.6 347.8L90.6 347.9Z" fill="#ff8200"/>
<path d="M247.5 378.9L252.5 378.1L246.3 375.5L241.3 376.3Z" fill="#73ff00"/>
<path d="M297.2 384.3L302.2 383.2L296 380.9L291 381.9Z" fill="#3aff00"/>
<path d="M108.3 354.2L113.4 354L107.1 350.8L102 351Z" fill="#ff9700"/>
<path d="M258.7 380.7L263.7 379.8L257.5 377.2L252.5 378.1Z" fill="#66ff00"/>
<path d="M158.8 365L163.8 364.5L157.5 361.5L152.5 361.9Z" fill="#fde900"/>
<path d="M208.9 373.8L213.9 373.1L207.6 370.3L202.6 370.9Z" fill="#bcff00"/>
<path d="M68.9 345.1L74 344.9L67.6 341.6L62.5 341.7Z" fill="#ff4300"/>
<path d="M170.1 367.5L175.1 366.9L168.8 364L163.8 364.5Z" fill="#f7f300"/>
<path d="M220.1 375.9L225.1 375.1L218.9 372.4L213.9 373.1Z" fill="#a6ff00"/>
<path d="M119.7 357.2L124.8 356.8L118.4 353.7L113.4 354Z" fill="#ffab00"/>
<path d="M269.9 382.4L274.9 381.4L268.7 378.9L263.7 379.8Z" fill="#58ff00"/>
<path d="M80.4 348.3L85.5 348.1L79.1 344.8L74 344.9Z" fill="#ff5e00"/>
<path d="M131.1 360L136.1 359.6L129.8 356.5L124.8 356.8Z" fill="#ffbf00"/>
<path d="M181.3 369.9L186.4 369.3L180.1 366.4L175.1 366.9Z" fill="#f1fd00"/>
<path d="M231.3 377.9L236.3 377.1L230.1 374.4L225.1 375.1Z" fill="#8fff00"/>
<path d="M281.1 383.9L286 382.9L279.8 380.4L274.9 381.4Z" fill="#4bff00"/>
<path d="M142.4 362.8L147.5 362.3L141.2 359.2L136.1 359.6Z" fill="#ffd200"/>
<path d="M192.6 372.3L197.6 371.6L191.4 368.7L186.4 369.3Z" fill="#deff00"/>
<path d="M292.2 385.4L297.2 384.3L291 381.9L286 382.9Z" fill="#3fff00"/>
<path d="M91.8 351.5L96.9 351.2L90.6 347.9L85.5 348.1Z" fill="#ff7800"/>
<path d="M242.5 379.8L247.5 378.9L241.3 376.3L236.3 377.1Z" fill="#7aff00"/>
<path d="M103.2 354.6L108.3 354.2L102 351L96.9 351.2Z" fill="#ff8f00"/>
<path d="M153.7 365.5L158.8 365L152.5 361.9L147.5 362.3Z" fill="#ffe400"/>
<path d="M203.9 374.5L208.9 373.8L202.6 370.9L197.6 371.6Z" fill="#c6ff00"/>
<path d="M253.7 381.6L258.7 380.7L252.5 378.1L247.5 378.9Z" fill="#6bff00"/>
<path d="M114.6 357.6L119.7 357.2L113.4 354L108.3 354.2Z" fill="#ffa300"/>
<path d="M165 368.1L170.1 367.5L163.8 364.5L158.8 365Z" fill="#faef00"/>
<path d="M215.1 376.7L220.1 375.9L213.9 373.1L208.9 373.8Z" fill="#afff00"/>
<path d="M264.9 383.4L269.9 382.4L263.7 379.8L258.7 380.7Z" fill="#5eff00"/>
<path d="M75.3 348.5L80.4 348.3L74 344.9L68.9 345.1Z" fill="#ff5300"/>
<path d="M126 360.5L131.1 360L124.8 356.8L119.7 357.2Z" fill="#ffb700"/>
<path d="M176.3 370.6L181.3 369.9L175.1 366.9L170.1 367.5Z" fill="#f4f900"/>
<path d="M226.3 378.7L231.3 377.9L225.1 375.1L220.1 375.9Z" fill="#98ff00"/>
<path d="M276.1 385L281.1 383.9L274.9 381.4L269.9 382.4Z" fill="#50ff00"/>
<path d="M86.7 351.8L91.8 351.5L85.5 348.1L80.4 348.3Z" fill="#ff6e00"/>
<path d="M137.4 363.3L142.4 362.8L136.1 359.6L131.1 360Z" fill="#ffcb00"/>
<path d="M187.6 373L192.6 372.3L186.4 369.3L181.3 369.9Z" fill="#e7ff00"/>
<path d="M237.5 380.7L242.5 379.8L236.3 377.1L231.3 377.9Z" fill="#82ff00"/>
<path d="M287.2 386.5L292.2 385.4L286 382.9L281.1 383.9Z" fill="#44ff00"/>
<path d="M98.2 354.9L103.2 354.6L96.9 351.2L91.8 351.5Z" fill="#ff8700"/>
<path d="M148.7 366L153.7 365.5L147.5 362.3L142.4 362.8Z" fill="#ffdd00"/>
<path d="M198.9 375.3L203.9 374.5L197.6 371.6L192.6 372.3Z" fill="#cfff00"/>
<path d="M248.7 382.6L253.7 381.6L247.5 378.9L242.5 379.8Z" fill="#71ff00"/>
<path d="M109.6 357.9L114.6 357.6L108.3 354.2L103.2 354.6Z" fill="#ff9c00"/>
<path d="M160 368.7L165 368.1L158.8 365L153.7 365.5Z" fill="#fceb00"/>
<path d="M210.1 377.5L215.1 376.7L208.9 373.8L203.9 374.5Z" fill="#b7ff00"/>
<path d="M259.9 384.4L264.9 383.4L258.7 380.7L253.7 381.6Z" fill="#63ff00"/>
<path d="M121 360.9L126 360.5L119.7 357.2L114.6 357.6Z" fill="#ffb000"/>
<path d="M171.3 371.2L176.3 370.6L170.1 367.5L165 368.1Z" fill="#f6f500"/>
<path d="M221.3 379.6L226.3 378.7L220.1 375.9L215.1 376.7Z" fill="#a0ff00"/>
<path d="M271.1 386.1L276.1 385L269.9 382.4L264.9 383.4Z" fill="#55ff00"/>
<path d="M81.7 352.1L86.7 351.8L80.4 348.3L75.3 348.5Z" fill="#ff6400"/>
<path d="M132.3 363.8L137.4 363.3L131.1 360L126 360.5Z" fill="#ffc400"/>
<path d="M182.6 373.7L187.6 373L181.3 369.9L176.3 370.6Z" fill="#f0ff00"/>
<path d="M232.5 381.7L237.5 380.7L231.3 377.9L226.3 378.7Z" fill="#8aff00"/>
<path d="M282.3 387.7L287.2 386.5L281.1 383.9L276.1 385Z" fill="#48ff00"/>
<path d="M93.1 355.3L98.2 354.9L91.8 351.5L86.7 351.8Z" fill="#ff7e00"/>
<path d="M143.7 366.6L148.7 366L142.4 362.8L137.4 363.3Z" fill="#ffd700"/>
<path d="M193.8 376.1L198.9 375.3L192.6 372.3L187.6 373Z" fill="#d8ff00"/>
<path d="M243.7 383.6L248.7 382.6L242.5 379.8L237.5 380.7Z" fill="#76ff00"/>
<path d="M104.5 358.4L109.6 357.9L103.2 354.6L98.2 354.9Z" fill="#ff9400"/>
<path d="M155 369.3L160 368.7L153.7 365.5L148.7 366Z" fill="#fee800"/>
<path d="M205.1 378.3L210.1 377.5L203.9 374.5L198.9 375.3Z" fill="#c0ff00"/>
<path d="M254.9 385.4L259.9 384.4L253.7 381.6L248.7 382.6Z" fill="#68ff00"/>
<path d="M115.9 361.4L121 360.9L114.6 357.6L109.6 357.9Z" fill="#ffa900"/>
<path d="M216.3 380.5L221.3 379.6L215.1 376.7L210.1 377.5Z" fill="#a8ff00"/>
<path d="M166.3 371.9L171.3 371.2L165 368.1L160 368.7Z" fill="#f8f200"/>
<path d="M266.1 387.2L271.1 386.1L264.9 383.4L259.9 384.4Z" fill="#5aff00"/>
<path d="M277.3 388.8L282.3 387.7L276.1 385L271.1 386.1Z" fill="#4dff00"/>
<path d="M127.3 364.3L132.3 363.8L126 360.5L121 360.9Z" fill="#ffbd00"/>
<path d="M177.6 374.4L182.6 373.7L176.3 370.6L171.3 371.2Z" fill="#f2fb00"/>
<path d="M227.5 382.6L232.5 381.7L226.3 378.7L221.3 379.6Z" fill="#92ff00"/>
<path d="M88 355.6L93.1 355.3L86.7 351.8L81.7 352.1Z" fill="#ff7500"/>
<path d="M138.6 367.2L143.7 366.6L137.4 363.3L132.3 363.8Z" fill="#ffd000"/>
<path d="M188.8 376.9L193.8 376.1L187.6 373L182.6 373.7Z" fill="#e0ff00"/>
<path d="M238.8 384.6L243.7 383.6L237.5 380.7L232.5 381.7Z" fill="#7cff00"/>
<path d="M149.9 369.9L155 369.3L148.7 366L143.7 366.6Z" fill="#ffe300"/>
<path d="M200.1 379.2L205.1 378.3L198.9 375.3L193.8 376.1Z" fill="#c8ff00"/>
<path d="M249.9 386.5L254.9 385.4L248.7 382.6L243.7 383.6Z" fill="#6cff00"/>
<path d="M99.4 358.8L104.5 358.4L98.2 354.9L93.1 355.3Z" fill="#ff8d00"/>
<path d="M110.8 361.9L115.9 361.4L109.6 357.9L104.5 358.4Z" fill="#ffa200"/>
<path d="M211.3 381.4L216.3 380.5L210.1 377.5L205.1 378.3Z" fill="#b0ff00"/>
<path d="M161.3 372.6L166.3 371.9L160 368.7L155 369.3Z" fill="#faee00"/>
<path d="M261.1 388.3L266.1 387.2L259.9 384.4L254.9 385.4Z" fill="#5eff00"/>
<path d="M122.2 364.9L127.3 364.3L121 360.9L115.9 361.4Z" fill="#ffb600"/>
<path d="M172.5 375.2L177.6 374.4L171.3 371.2L166.3 371.9Z" fill="#f4f800"/>
<path d="M222.5 383.6L227.5 382.6L221.3 379.6L216.3 380.5Z" fill="#99ff00"/>
<path d="M272.3 390L277.3 388.8L271.1 386.1L266.1 387.2Z" fill="#51ff00"/>
<path d="M183.8 377.7L188.8 376.9L182.6 373.7L177.6 374.4Z" fill="#e8ff00"/>
<path d="M133.6 367.8L138.6 367.2L132.3 363.8L127.3 364.3Z" fill="#ffca00"/>
<path d="M233.8 385.7L238.8 384.6L232.5 381.7L227.5 382.6Z" fill="#83ff00"/>
<path d="M94.4 359.3L99.4 358.8L93.1 355.3L88 355.6Z" fill="#ff8600"/>
<path d="M144.9 370.6L149.9 369.9L143.7 366.6L138.6 367.2Z" fill="#ffdd00"/>
<path d="M195.1 380.1L200.1 379.2L193.8 376.1L188.8 376.9Z" fill="#cfff00"/>
<path d="M245 387.6L249.9 386.5L243.7 383.6L238.8 384.6Z" fill="#71ff00"/>
<path d="M105.8 362.4L110.8 361.9L104.5 358.4L99.4 358.8Z" fill="#ff9b00"/>
<path d="M206.3 382.4L211.3 381.4L205.1 378.3L200.1 379.2Z" fill="#b7ff00"/>
<path d="M156.2 373.4L161.3 372.6L155 369.3L149.9 369.9Z" fill="#fceb00"/>
<path d="M256.1 389.5L261.1 388.3L254.9 385.4L249.9 386.5Z" fill="#62ff00"/>
<path d="M117.2 365.5L122.2 364.9L115.9 361.4L110.8 361.9Z" fill="#ffb000"/>
<path d="M167.5 376L172.5 375.2L166.3 371.9L161.3 372.6Z" fill="#f6f500"/>
<path d="M217.5 384.6L222.5 383.6L216.3 380.5L211.3 381.4Z" fill="#a0ff00"/>
<path d="M267.3 391.3L272.3 390L266.1 387.2L261.1 388.3Z" fill="#55ff00"/>
<path d="M178.8 378.6L183.8 377.7L177.6 374.4L172.5 375.2Z" fill="#f0ff00"/>
<path d="M228.8 386.7L233.8 385.7L227.5 382.6L222.5 383.6Z" fill="#89ff00"/>
<path d="M128.5 368.5L133.6 367.8L127.3 364.3L122.2 364.9Z" fill="#ffc400"/>
<path d="M139.9 371.3L144.9 370.6L138.6 367.2L133.6 367.8Z" fill="#ffd700"/>
<path d="M190.1 381L195.1 380.1L188.8 376.9L183.8 377.7Z" fill="#d7ff00"/>
<path d="M240 388.8L245 387.6L238.8 384.6L233.8 385.7Z" fill="#75ff00"/>
<path d="M100.7 363L105.8 362.4L99.4 358.8L94.4 359.3Z" fill="#ff9500"/>
<path d="M201.3 383.4L206.3 382.4L200.1 379.2L195.1 380.1Z" fill="#beff00"/>
<path d="M151.2 374.1L156.2 373.4L149.9 369.9L144.9 370.6Z" fill="#fee800"/>
<path d="M251.2 390.7L256.1 389.5L249.9 386.5L245 387.6Z" fill="#66ff00"/>
<path d="M112.1 366.1L117.2 365.5L110.8 361.9L105.8 362.4Z" fill="#ffaa00"/>
<path d="M162.5 376.8L167.5 376L161.3 372.6L156.2 373.4Z" fill="#f8f200"/>
<path d="M212.5 385.7L217.5 384.6L211.3 381.4L206.3 382.4Z" fill="#a6ff00"/>
<path d="M262.3 392.5L267.3 391.3L261.1 388.3L256.1 389.5Z" fill="#58ff00"/>
<path d="M173.8 379.4L178.8 378.6L172.5 375.2L167.5 376Z" fill="#f2fc00"/>
<path d="M223.8 387.8L228.8 386.7L222.5 383.6L217.5 384.6Z" fill="#8fff00"/>
<path d="M123.5 369.1L128.5 368.5L122.2 364.9L117.2 365.5Z" fill="#ffbe00"/>
<path d="M134.8 372.1L139.9 371.3L133.6 367.8L128.5 368.5Z" fill="#ffd200"/>
<path d="M185 382L190.1 381L183.8 377.7L178.8 378.6Z" fill="#ddff00"/>
<path d="M235 389.9L240 388.8L233.8 385.7L228.8 386.7Z" fill="#79ff00"/>
<path d="M146.1 374.9L151.2 374.1L144.9 370.6L139.9 371.3Z" fill="#ffe500"/>
<path d="M196.3 384.4L201.3 383.4L195.1 380.1L190.1 381Z" fill="#c4ff00"/>
<path d="M246.2 391.9L251.2 390.7L245 387.6L240 388.8Z" fill="#6aff00"/>
<path d="M107 366.7L112.1 366.1L105.8 362.4L100.7 363Z" fill="#ffa400"/>
<path d="M157.5 377.7L162.5 376.8L156.2 373.4L151.2 374.1Z" fill="#f9f000"/>
<path d="M207.5 386.7L212.5 385.7L206.3 382.4L201.3 383.4Z" fill="#acff00"/>
<path d="M257.3 393.8L262.3 392.5L256.1 389.5L251.2 390.7Z" fill="#5bff00"/>
<path d="M118.4 369.8L123.5 369.1L117.2 365.5L112.1 366.1Z" fill="#ffb900"/>
<path d="M168.8 380.4L173.8 379.4L167.5 376L162.5 376.8Z" fill="#f3fa00"/>
<path d="M218.8 389L223.8 387.8L217.5 384.6L212.5 385.7Z" fill="#95ff00"/>
<path d="M129.8 372.8L134.8 372.1L128.5 368.5L123.5 369.1Z" fill="#ffcd00"/>
<path d="M180 382.9L185 382L178.8 378.6L173.8 379.4Z" fill="#e4ff00"/>
<path d="M230 391.1L235 389.9L228.8 386.7L223.8 387.8Z" fill="#7eff00"/>
<path d="M141.1 375.7L146.1 374.9L139.9 371.3L134.8 372.1Z" fill="#ffe000"/>
<path d="M191.3 385.4L196.3 384.4L190.1 381L185 382Z" fill="#cbff00"/>
<path d="M241.2 393.2L246.2 391.9L240 388.8L235 389.9Z" fill="#6dff00"/>
<path d="M152.4 378.6L157.5 377.7L151.2 374.1L146.1 374.9Z" fill="#fbed00"/>
<path d="M202.5 387.8L207.5 386.7L201.3 383.4L196.3 384.4Z" fill="#b2ff00"/>
<path d="M252.3 395.1L257.3 393.8L251.2 390.7L246.2 391.9Z" fill="#5fff00"/>
<path d="M113.4 370.6L118.4 369.8L112.1 366.1L107 366.7Z" fill="#ffb300"/>
<path d="M163.7 381.3L168.8 380.4L162.5 376.8L157.5 377.7Z" fill="#f5f700"/>
<path d="M213.8 390.1L218.8 389L212.5 385.7L207.5 386.7Z" fill="#9aff00"/>
<path d="M124.7 373.6L129.8 372.8L123.5 369.1L118.4 369.8Z" fill="#ffc800"/>
<path d="M175 383.9L180 382.9L173.8 379.4L168.8 380.4Z" fill="#eaff00"/>
<path d="M225 392.3L230 391.1L223.8 387.8L218.8 389Z" fill="#83ff00"/>
<path d="M136.1 376.6L141.1 375.7L134.8 372.1L129.8 372.8Z" fill="#ffdb00"/>
<path d="M186.3 386.5L191.3 385.4L185 382L180 382.9Z" fill="#d0ff00"/>
<path d="M236.2 394.4L241.2 393.2L235 389.9L230 391.1Z" fill="#70ff00"/>
<path d="M197.5 388.9L202.5 387.8L196.3 384.4L191.3 385.4Z" fill="#b7ff00"/>
<path d="M247.4 396.4L252.3 395.1L246.2 391.9L241.2 393.2Z" fill="#61ff00"/>
<path d="M147.4 379.5L152.4 378.6L146.1 374.9L141.1 375.7Z" fill="#fceb00"/>
<path d="M158.7 382.3L163.7 381.3L157.5 377.7L152.4 378.6Z" fill="#f6f500"/>
<path d="M208.7 391.3L213.8 390.1L207.5 386.7L202.5 387.8Z" fill="#9fff00"/>
<path d="M119.7 374.4L124.7 373.6L118.4 369.8L113.4 370.6Z" fill="#ffc300"/>
<path d="M170 385L175 383.9L168.8 380.4L163.7 381.3Z" fill="#f0ff00"/>
<path d="M220 393.6L225 392.3L218.8 389L213.8 390.1Z" fill="#87ff00"/>
<path d="M181.3 387.6L186.3 386.5L180 382.9L175 383.9Z" fill="#d6ff00"/>
<path d="M231.2 395.7L236.2 394.4L230 391.1L225 392.3Z" fill="#73ff00"/>
<path d="M131 377.5L136.1 376.6L129.8 372.8L124.7 373.6Z" fill="#ffd700"/>
<path d="M142.4 380.4L147.4 379.5L141.1 375.7L136.1 376.6Z" fill="#fee800"/>
<path d="M192.5 390.1L197.5 388.9L191.3 385.4L186.3 386.5Z" fill="#bcff00"/>
<path d="M242.4 397.8L247.4 396.4L241.2 393.2L236.2 394.4Z" fill="#64ff00"/>
<path d="M153.7 383.3L158.7 382.3L152.4 378.6L147.4 379.5Z" fill="#f7f300"/>
<path d="M203.7 392.5L208.7 391.3L202.5 387.8L197.5 388.9Z" fill="#a3ff00"/>
<path d="M165 386L170 385L163.7 381.3L158.7 382.3Z" fill="#f1fd00"/>
<path d="M215 394.8L220 393.6L213.8 390.1L208.7 391.3Z" fill="#8cff00"/>
<path d="M126 378.4L131 377.5L124.7 373.6L119.7 374.4Z" fill="#ffd300"/>
<path d="M176.2 388.7L181.3 387.6L175 383.9L170 385Z" fill="#daff00"/>
<path d="M226.2 397.1L231.2 395.7L225 392.3L220 393.6Z" fill="#76ff00"/>
<path d="M237.4 399.2L242.4 397.8L236.2 394.4L231.2 395.7Z" fill="#66ff00"/>
<path d="M137.3 381.4L142.4 380.4L136.1 376.6L131 377.5Z" fill="#ffe600"/>
<path d="M187.5 391.3L192.5 390.1L186.3 386.5L181.3 387.6Z" fill="#c1ff00"/>
<path d="M148.6 384.3L153.7 383.3L147.4 379.5L142.4 380.4Z" fill="#f8f100"/>
<path d="M198.7 393.8L203.7 392.5L197.5 388.9L192.5 390.1Z" fill="#a8ff00"/>
<path d="M159.9 387.1L165 386L158.7 382.3L153.7 383.3Z" fill="#f2fb00"/>
<path d="M210 396.2L215 394.8L208.7 391.3L203.7 392.5Z" fill="#8fff00"/>
<path d="M171.2 389.9L176.2 388.7L170 385L165 386Z" fill="#dfff00"/>
<path d="M221.2 398.4L226.2 397.1L220 393.6L215 394.8Z" fill="#78ff00"/>
<path d="M132.3 382.4L137.3 381.4L131 377.5L126 378.4Z" fill="#ffe300"/>
<path d="M182.5 392.5L187.5 391.3L181.3 387.6L176.2 388.7Z" fill="#c5ff00"/>
<path d="M232.4 400.6L237.4 399.2L231.2 395.7L226.2 397.1Z" fill="#68ff00"/>
<path d="M143.6 385.3L148.6 384.3L142.4 380.4L137.3 381.4Z" fill="#faef00"/>
<path d="M193.7 395L198.7 393.8L192.5 390.1L187.5 391.3Z" fill="#abff00"/>
<path d="M154.9 388.2L159.9 387.1L153.7 383.3L148.6 384.3Z" fill="#f3fa00"/>
<path d="M204.9 397.5L210 396.2L203.7 392.5L198.7 393.8Z" fill="#93ff00"/>
<path d="M166.2 391L171.2 389.9L165 386L159.9 387.1Z" fill="#e3ff00"/>
<path d="M216.2 399.8L221.2 398.4L215 394.8L210 396.2Z" fill="#7bff00"/>
<path d="M177.5 393.7L182.5 392.5L176.2 388.7L171.2 389.9Z" fill="#c9ff00"/>
<path d="M227.4 402.1L232.4 400.6L226.2 397.1L221.2 398.4Z" fill="#6aff00"/>
<path d="M138.6 386.4L143.6 385.3L137.3 381.4L132.3 382.4Z" fill="#fbed00"/>
<path d="M188.7 396.3L193.7 395L187.5 391.3L182.5 392.5Z" fill="#afff00"/>
<path d="M149.9 389.4L154.9 388.2L148.6 384.3L143.6 385.3Z" fill="#f4f800"/>
<path d="M199.9 398.9L204.9 397.5L198.7 393.8L193.7 395Z" fill="#96ff00"/>
<path d="M161.2 392.2L166.2 391L159.9 387.1L154.9 388.2Z" fill="#e7ff00"/>
<path d="M211.2 401.3L216.2 399.8L210 396.2L204.9 397.5Z" fill="#7dff00"/>
<path d="M222.4 403.6L227.4 402.1L221.2 398.4L216.2 399.8Z" fill="#6bff00"/>
<path d="M172.4 395L177.5 393.7L171.2 389.9L166.2 391Z" fill="#ccff00"/>
<path d="M183.7 397.7L188.7 396.3L182.5 392.5L177.5 393.7Z" fill="#b2ff00"/>
<path d="M144.9 390.6L149.9 389.4L143.6 385.3L138.6 386.4Z" fill="#f5f700"/>
<path d="M194.9 400.3L199.9 398.9L193.7 395L188.7 396.3Z" fill="#98ff00"/>
<path d="M156.2 393.5L161.2 392.2L154.9 388.2L149.9 389.4Z" fill="#eaff00"/>
<path d="M206.1 402.7L211.2 401.3L204.9 397.5L199.9 398.9Z" fill="#7fff00"/>
<path d="M167.4 396.3L172.4 395L166.2 391L161.2 392.2Z" fill="#cfff00"/>
<path d="M217.3 405.1L222.4 403.6L216.2 399.8L211.2 401.3Z" fill="#6dff00"/>
<path d="M178.7 399L183.7 397.7L177.5 393.7L172.4 395Z" fill="#b4ff00"/>
<path d="M189.9 401.7L194.9 400.3L188.7 396.3L183.7 397.7Z" fill="#9aff00"/>
<path d="M151.1 394.8L156.2 393.5L149.9 389.4L144.9 390.6Z" fill="#eeff00"/>
<path d="M201.1 404.2L206.1 402.7L199.9 398.9L194.9 400.3Z" fill="#81ff00"/>
<path d="M162.4 397.6L167.4 396.3L161.2 392.2L156.2 393.5Z" fill="#d2ff00"/>
<path d="M212.3 406.7L217.3 405.1L211.2 401.3L206.1 402.7Z" fill="#6eff00"/>
<path d="M173.7 400.4L178.7 399L172.4 395L167.4 396.3Z" fill="#b7ff00"/>
<path d="M184.9 403.1L189.9 401.7L183.7 397.7L178.7 399Z" fill="#9cff00"/>
<path d="M196.1 405.7L201.1 404.2L194.9 400.3L189.9 401.7Z" fill="#83ff00"/>
<path d="M157.4 399L162.4 397.6L156.2 393.5L151.1 394.8Z" fill="#d4ff00"/>
<path d="M207.3 408.3L212.3 406.7L206.1 402.7L201.1 404.2Z" fill="#6eff00"/>
<path d="M168.7 401.9L173.7 400.4L167.4 396.3L162.4 397.6Z" fill="#b9ff00"/>
<path d="M179.9 404.6L184.9 403.1L178.7 399L173.7 400.4Z" fill="#9eff00"/>
<path d="M191.1 407.3L196.1 405.7L189.9 401.7L184.9 403.1Z" fill="#84ff00"/>
<path d="M202.3 409.9L207.3 408.3L201.1 404.2L196.1 405.7Z" fill="#6fff00"/>
<path d="M163.6 403.3L168.7 401.9L162.4 397.6L157.4 399Z" fill="#baff00"/>
<path d="M174.9 406.2L179.9 404.6L173.7 400.4L168.7 401.9Z" fill="#9fff00"/>
<path d="M186.1 408.9L191.1 407.3L184.9 403.1L179.9 404.6Z" fill="#85ff00"/>
<path d="M197.3 411.5L202.3 409.9L196.1 405.7L191.1 407.3Z" fill="#6fff00"/>
<path d="M169.9 407.7L174.9 406.2L168.7 401.9L163.6 403.3Z" fill="#a0ff00"/>
<path d="M181.1 410.5L186.1 408.9L179.9 404.6L174.9 406.2Z" fill="#85ff00"/>
<path d="M192.3 413.2L197.3 411.5L191.1 407.3L186.1 408.9Z" fill="#6fff00"/>
<path d="M176.1 412.2L181.1 410.5L174.9 406.2L169.9 407.7Z" fill="#85ff00"/>
<path d="M187.3 414.9L192.3 413.2L186.1 408.9L181.1 410.5Z" fill="#6fff00"/>
<path d="M182.3 416.7L187.3 414.9L181.1 410.5L176.1 412.2Z" fill="#6eff00"/>
</g>
<circle cx="182.6" cy="348.1" r="2.45" fill="#ba0a0a" stroke="#5e0000" stroke-width=".7"/>
<circle cx="182.6" cy="355.8" r="2.45" fill="#ba0a0a" stroke="#5e0000" stroke-width=".7"/>
<circle cx="182.6" cy="358" r="2.45" fill="#ba0a0a" stroke="#5e0000" stroke-width=".7"/>
<circle cx="182.6" cy="362.1" r="2.45" fill="#ba0a0a" stroke="#5e0000" stroke-width=".7"/>
<path d="M62.6 453.7h0M61.2 430.1h0M59.9 406.5h0M58.6 382.9h0M57.3 359.3h0M56 335.7h0M182.6 545.1h0M202.5 536h0M222.4 526.9h0M242.2 517.9h0M262.1 508.8h0M282 499.7h0M301.9 490.6h0M182.6 545.1h0M162.9 536h0M143.3 526.9h0M123.6 517.9h0M103.9 508.8h0M84.3 499.7h0M64.6 490.6h0" stroke="#000" stroke-width="2.4" stroke-linecap="round"/>
<text class="t" text-anchor="end" transform="translate(58.1 452.1) scale(.86 1)">0</text>
<text class="t" text-anchor="end" transform="translate(56.7 428.5) scale(.86 1)">20</text>
<text class="t" text-anchor="end" transform="translate(55.4 404.9) scale(.86 1)">40</text>
<text class="t" text-anchor="end" transform="translate(54.1 381.3) scale(.86 1)">60</text>
<text class="t" text-anchor="end" transform="translate(52.8 357.7) scale(.86 1)">80</text>
<text class="t" text-anchor="end" transform="translate(51.5 334.1) scale(.86 1)">100</text>
<text class="t" transform="translate(186.8 554.4) scale(.86 1)">4</text>
<text class="t" transform="translate(206.7 545.3) scale(.86 1)">5</text>
<text class="t" transform="translate(226.6 536.2) scale(.86 1)">6</text>
<text class="t" transform="translate(246.4 527.1) scale(.86 1)">7</text>
<text class="t" transform="translate(266.3 518.1) scale(.86 1)">8</text>
<text class="t" transform="translate(286.2 509) scale(.86 1)">9</text>
<text class="t" transform="translate(306.1 499.9) scale(.86 1)">10</text>
<text class="t" text-anchor="end" transform="translate(178.4 554.4) scale(.86 1)">0.02</text>
<text class="t" text-anchor="end" transform="translate(158.7 545.3) scale(.86 1)">0.03</text>
<text class="t" text-anchor="end" transform="translate(139.1 536.2) scale(.86 1)">0.04</text>
<text class="t" text-anchor="end" transform="translate(119.4 527.1) scale(.86 1)">0.05</text>
<text class="t" text-anchor="end" transform="translate(99.7 518.1) scale(.86 1)">0.06</text>
<text class="t" text-anchor="end" transform="translate(80.1 509) scale(.86 1)">0.07</text>
<text class="t" text-anchor="end" transform="translate(60.4 499.9) scale(.86 1)">0.08</text>
<text class="b" x="33.9" y="535.8" text-anchor="start">D: adsorb</text>
<text class="b" x="33.9" y="552.1" text-anchor="start">material (g)</text>
<text class="b" x="281" y="540.8" text-anchor="middle">A: pH</text>
<text class="b" text-anchor="middle" transform="translate(35.2 408.4) rotate(-90)">Decoloring</text>
<text class="h" x="7" y="314.8">(c)</text>
<rect x="346.5" y="289.2" width="334.4" height="277.6" fill="#fff" stroke="#333" stroke-width="1.7"/>
<path d="M400 493.8L524.3 548.3L649.9 493.8L524.3 451.1Z" fill="#636363" stroke="#444" stroke-width=".5"/>
<path d="M430.9 483.8C431.8 486 433.5 492.5 436 496.8C438.5 501.1 441.4 505.2 446 509.4C450.6 513.6 457.5 518.6 463.6 522C469.7 525.4 479.3 528.2 482.4 529.5" fill="none" stroke="#2ee02a" stroke-width="1.5"/>
<path d="M480.7 466.7C480.1 468.4 476.9 472.5 477.4 476.7C477.9 480.9 480.1 486.8 483.7 491.8C487.3 496.8 493.6 502.6 498.8 506.9C504 511.2 505.8 512.7 515.1 517.4C524.4 522.1 547.9 532.1 554.5 535" fill="none" stroke="#a2e000" stroke-width="1.5"/>
<path d="M565.3 464.9C563.1 466.2 555 470.2 551.9 473C548.8 475.8 546.7 478.2 546.9 481.8C547.1 485.4 549.2 490.1 553.2 494.3C557.2 498.5 563.8 503 570.8 506.9C577.8 510.8 591.3 515.6 595.4 517.4" fill="none" stroke="#e8dc00" stroke-width="1.5"/>
<path d="M429.5 446.7L424.5 330.1M461.1 436.9L457.8 323.2M492.7 427.2L491 316.3M637.7 452.2L643.1 334.4M623.5 447.9L628.3 331.3M609.3 443.5L613.4 328.1M595.1 439.2L598.6 325M581 434.8L583.7 321.9M566.8 430.5L568.9 318.8M552.6 426.1L554 315.6M538.5 421.7L539.2 312.5M397.9 456.5L524.3 417.4L651.8 456.6M396.6 432.6L524.3 395.8L653.1 432.8M395.2 408.7L524.3 374.2L654.3 409M393.9 384.8L524.3 352.6L655.5 385.1M392.5 360.9L524.3 331L656.8 361.3" fill="none" stroke="#3a3a3a" stroke-width=".7"/>
<path d="M391.2 337L524.3 309.4L658 337.5M400 493.8L391.2 337M524.3 451.1L524.3 309.4M649.9 493.8L658 337.5" fill="none" stroke="#2a2a2a" stroke-width=".9"/>
<path d="M400 493.8L524.3 548.3L649.9 493.8" fill="none" stroke="#111" stroke-width="1"/>
<path d="M555 408.4L555 400" stroke="#3c3c3c" stroke-width="1.1"/>
<circle cx="555" cy="408.4" r="2.5" fill="#f9cccc" stroke="#7a3434" stroke-width=".55"/>
<g stroke="#000" stroke-opacity=".72" stroke-width=".48" stroke-linejoin="round">
<path d="M525.6 341.2L530.9 340.1L524.3 340L519.1 341.1Z" fill="#e2ff00"/>
<path d="M520.4 342.4L525.6 341.2L519.1 341.1L513.8 342.2Z" fill="#e4ff00"/>
<path d="M532.3 341.3L537.5 340.2L530.9 340.1L525.6 341.2Z" fill="#f1fd00"/>
<path d="M515.1 343.6L520.4 342.4L513.8 342.2L508.6 343.5Z" fill="#e4ff00"/>
<path d="M527 342.6L532.3 341.3L525.6 341.2L520.4 342.4Z" fill="#f2fc00"/>
<path d="M538.9 341.6L544.1 340.4L537.5 340.2L532.3 341.3Z" fill="#f6f600"/>
<path d="M509.9 345L515.1 343.6L508.6 343.5L503.3 344.8Z" fill="#e3ff00"/>
<path d="M521.7 343.9L527 342.6L520.4 342.4L515.1 343.6Z" fill="#f2fc00"/>
<path d="M533.6 342.8L538.9 341.6L532.3 341.3L527 342.6Z" fill="#f6f600"/>
<path d="M545.5 341.9L550.8 340.6L544.1 340.4L538.9 341.6Z" fill="#f9ef00"/>
<path d="M504.6 346.5L509.9 345L503.3 344.8L498.1 346.3Z" fill="#e1ff00"/>
<path d="M516.5 345.3L521.7 343.9L515.1 343.6L509.9 345Z" fill="#f1fd00"/>
<path d="M528.3 344.2L533.6 342.8L527 342.6L521.7 343.9Z" fill="#f6f600"/>
<path d="M540.2 343.1L545.5 341.9L538.9 341.6L533.6 342.8Z" fill="#faef00"/>
<path d="M499.4 348.1L504.6 346.5L498.1 346.3L492.8 347.8Z" fill="#ddff00"/>
<path d="M552.1 342.2L557.4 341L550.8 340.6L545.5 341.9Z" fill="#fde900"/>
<path d="M511.2 346.8L516.5 345.3L509.9 345L504.6 346.5Z" fill="#f1fe00"/>
<path d="M523.1 345.6L528.3 344.2L521.7 343.9L516.5 345.3Z" fill="#f5f600"/>
<path d="M535 344.5L540.2 343.1L533.6 342.8L528.3 344.2Z" fill="#f9ef00"/>
<path d="M494.1 349.7L499.4 348.1L492.8 347.8L487.6 349.4Z" fill="#d9ff00"/>
<path d="M546.8 343.5L552.1 342.2L545.5 341.9L540.2 343.1Z" fill="#fde900"/>
<path d="M506 348.4L511.2 346.8L504.6 346.5L499.4 348.1Z" fill="#efff00"/>
<path d="M558.7 342.6L564 341.3L557.4 341L552.1 342.2Z" fill="#ffe100"/>
<path d="M517.8 347.2L523.1 345.6L516.5 345.3L511.2 346.8Z" fill="#f5f700"/>
<path d="M529.7 346L535 344.5L528.3 344.2L523.1 345.6Z" fill="#f9f000"/>
<path d="M541.6 345L546.8 343.5L540.2 343.1L535 344.5Z" fill="#fde900"/>
<path d="M488.9 351.5L494.1 349.7L487.6 349.4L482.3 351.2Z" fill="#d3ff00"/>
<path d="M500.7 350.1L506 348.4L499.4 348.1L494.1 349.7Z" fill="#eaff00"/>
<path d="M553.5 344L558.7 342.6L552.1 342.2L546.8 343.5Z" fill="#ffe100"/>
<path d="M512.6 348.8L517.8 347.2L511.2 346.8L506 348.4Z" fill="#f4f900"/>
<path d="M565.4 343.1L570.7 341.8L564 341.3L558.7 342.6Z" fill="#ffd700"/>
<path d="M524.4 347.6L529.7 346L523.1 345.6L517.8 347.2Z" fill="#f8f100"/>
<path d="M483.7 353.4L488.9 351.5L482.3 351.2L477.1 353Z" fill="#cbff00"/>
<path d="M536.3 346.5L541.6 345L535 344.5L529.7 346Z" fill="#fcea00"/>
<path d="M495.5 351.9L500.7 350.1L494.1 349.7L488.9 351.5Z" fill="#e4ff00"/>
<path d="M548.2 345.5L553.5 344L546.8 343.5L541.6 345Z" fill="#ffe200"/>
<path d="M507.3 350.6L512.6 348.8L506 348.4L500.7 350.1Z" fill="#f2fb00"/>
<path d="M560.1 344.5L565.4 343.1L558.7 342.6L553.5 344Z" fill="#ffd800"/>
<path d="M519.2 349.3L524.4 347.6L517.8 347.2L512.6 348.8Z" fill="#f7f300"/>
<path d="M572 343.7L577.3 342.3L570.7 341.8L565.4 343.1Z" fill="#ffce00"/>
<path d="M478.4 355.4L483.7 353.4L477.1 353L471.9 355Z" fill="#c2ff00"/>
<path d="M531 348.1L536.3 346.5L529.7 346L524.4 347.6Z" fill="#fcec00"/>
<path d="M490.2 353.8L495.5 351.9L488.9 351.5L483.7 353.4Z" fill="#dcff00"/>
<path d="M542.9 347L548.2 345.5L541.6 345L536.3 346.5Z" fill="#ffe400"/>
<path d="M554.8 346L560.1 344.5L553.5 344L548.2 345.5Z" fill="#ffd900"/>
<path d="M502 352.4L507.3 350.6L500.7 350.1L495.5 351.9Z" fill="#f1fd00"/>
<path d="M513.9 351.1L519.2 349.3L512.6 348.8L507.3 350.6Z" fill="#f6f500"/>
<path d="M566.7 345.1L572 343.7L565.4 343.1L560.1 344.5Z" fill="#ffcf00"/>
<path d="M525.8 349.8L531 348.1L524.4 347.6L519.2 349.3Z" fill="#fbed00"/>
<path d="M473.2 357.5L478.4 355.4L471.9 355L466.7 357Z" fill="#b9ff00"/>
<path d="M578.7 344.3L584 342.9L577.3 342.3L572 343.7Z" fill="#ffc600"/>
<path d="M485 355.9L490.2 353.8L483.7 353.4L478.4 355.4Z" fill="#d3ff00"/>
<path d="M537.6 348.7L542.9 347L536.3 346.5L531 348.1Z" fill="#ffe600"/>
<path d="M496.8 354.4L502 352.4L495.5 351.9L490.2 353.8Z" fill="#ecff00"/>
<path d="M549.5 347.6L554.8 346L548.2 345.5L542.9 347Z" fill="#ffdb00"/>
<path d="M508.6 352.9L513.9 351.1L507.3 350.6L502 352.4Z" fill="#f4f800"/>
<path d="M561.5 346.6L566.7 345.1L560.1 344.5L554.8 346Z" fill="#ffd000"/>
<path d="M468 359.7L473.2 357.5L466.7 357L461.4 359.2Z" fill="#adff00"/>
<path d="M520.5 351.6L525.8 349.8L519.2 349.3L513.9 351.1Z" fill="#f9ef00"/>
<path d="M573.4 345.8L578.7 344.3L572 343.7L566.7 345.1Z" fill="#ffc700"/>
<path d="M479.8 358L485 355.9L478.4 355.4L473.2 357.5Z" fill="#c9ff00"/>
<path d="M532.4 350.4L537.6 348.7L531 348.1L525.8 349.8Z" fill="#fee800"/>
<path d="M585.3 345L590.6 343.6L584 342.9L578.7 344.3Z" fill="#ffbf00"/>
<path d="M491.6 356.4L496.8 354.4L490.2 353.8L485 355.9Z" fill="#e3ff00"/>
<path d="M544.3 349.3L549.5 347.6L542.9 347L537.6 348.7Z" fill="#ffdd00"/>
<path d="M503.4 354.9L508.6 352.9L502 352.4L496.8 354.4Z" fill="#f3fb00"/>
<path d="M556.2 348.3L561.5 346.6L554.8 346L549.5 347.6Z" fill="#ffd200"/>
<path d="M462.8 361.9L468 359.7L461.4 359.2L456.2 361.4Z" fill="#a1ff00"/>
<path d="M515.2 353.5L520.5 351.6L513.9 351.1L508.6 352.9Z" fill="#f8f200"/>
<path d="M568.1 347.3L573.4 345.8L566.7 345.1L561.5 346.6Z" fill="#ffc800"/>
<path d="M474.5 360.2L479.8 358L473.2 357.5L468 359.7Z" fill="#beff00"/>
<path d="M527.1 352.3L532.4 350.4L525.8 349.8L520.5 351.6Z" fill="#fcea00"/>
<path d="M580 346.5L585.3 345L578.7 344.3L573.4 345.8Z" fill="#ffbf00"/>
<path d="M486.3 358.6L491.6 356.4L485 355.9L479.8 358Z" fill="#d9ff00"/>
<path d="M539 351.1L544.3 349.3L537.6 348.7L532.4 350.4Z" fill="#ffe100"/>
<path d="M592 345.8L597.3 344.3L590.6 343.6L585.3 345Z" fill="#ffb800"/>
<path d="M498.1 357L503.4 354.9L496.8 354.4L491.6 356.4Z" fill="#f1fe00"/>
<path d="M550.9 350L556.2 348.3L549.5 347.6L544.3 349.3Z" fill="#ffd500"/>
<path d="M457.6 364.3L462.8 361.9L456.2 361.4L451 363.8Z" fill="#93ff00"/>
<path d="M510 355.6L515.2 353.5L508.6 352.9L503.4 354.9Z" fill="#f6f500"/>
<path d="M562.8 349L568.1 347.3L561.5 346.6L556.2 348.3Z" fill="#ffcb00"/>
<path d="M469.3 362.5L474.5 360.2L468 359.7L462.8 361.9Z" fill="#b1ff00"/>
<path d="M574.7 348.1L580 346.5L573.4 345.8L568.1 347.3Z" fill="#ffc100"/>
<path d="M521.8 354.2L527.1 352.3L520.5 351.6L515.2 353.5Z" fill="#fbed00"/>
<path d="M481.1 360.8L486.3 358.6L479.8 358L474.5 360.2Z" fill="#cdff00"/>
<path d="M533.7 353L539 351.1L532.4 350.4L527.1 352.3Z" fill="#ffe500"/>
<path d="M586.7 347.3L592 345.8L585.3 345L580 346.5Z" fill="#ffb900"/>
<path d="M545.6 351.8L550.9 350L544.3 349.3L539 351.1Z" fill="#ffd900"/>
<path d="M598.6 346.6L603.9 345.1L597.3 344.3L592 345.8Z" fill="#ffb100"/>
<path d="M492.9 359.2L498.1 357L491.6 356.4L486.3 358.6Z" fill="#e8ff00"/>
<path d="M452.4 366.9L457.6 364.3L451 363.8L445.9 366.3Z" fill="#84ff00"/>
<path d="M504.7 357.7L510 355.6L503.4 354.9L498.1 357Z" fill="#f4f900"/>
<path d="M557.5 350.8L562.8 349L556.2 348.3L550.9 350Z" fill="#ffce00"/>
<path d="M464.1 365L469.3 362.5L462.8 361.9L457.6 364.3Z" fill="#a3ff00"/>
<path d="M516.6 356.3L521.8 354.2L515.2 353.5L510 355.6Z" fill="#f9f000"/>
<path d="M569.4 349.8L574.7 348.1L568.1 347.3L562.8 349Z" fill="#ffc300"/>
<path d="M475.9 363.2L481.1 360.8L474.5 360.2L469.3 362.5Z" fill="#c1ff00"/>
<path d="M528.4 354.9L533.7 353L527.1 352.3L521.8 354.2Z" fill="#fee800"/>
<path d="M581.4 349L586.7 347.3L580 346.5L574.7 348.1Z" fill="#ffba00"/>
<path d="M487.6 361.5L492.9 359.2L486.3 358.6L481.1 360.8Z" fill="#dcff00"/>
<path d="M540.3 353.7L545.6 351.8L539 351.1L533.7 353Z" fill="#ffdd00"/>
<path d="M593.3 348.2L598.6 346.6L592 345.8L586.7 347.3Z" fill="#ffb200"/>
<path d="M447.2 369.5L452.4 366.9L445.9 366.3L440.7 368.9Z" fill="#75ff00"/>
<path d="M499.5 359.9L504.7 357.7L498.1 357L492.9 359.2Z" fill="#f1fd00"/>
<path d="M552.2 352.6L557.5 350.8L550.9 350L545.6 351.8Z" fill="#ffd100"/>
<path d="M605.3 347.5L610.6 346L603.9 345.1L598.6 346.6Z" fill="#ffab00"/>
<path d="M458.9 367.5L464.1 365L457.6 364.3L452.4 366.9Z" fill="#94ff00"/>
<path d="M511.3 358.4L516.6 356.3L510 355.6L504.7 357.7Z" fill="#f7f400"/>
<path d="M564.1 351.6L569.4 349.8L562.8 349L557.5 350.8Z" fill="#ffc700"/>
<path d="M470.6 365.6L475.9 363.2L469.3 362.5L464.1 365Z" fill="#b2ff00"/>
<path d="M523.2 357L528.4 354.9L521.8 354.2L516.6 356.3Z" fill="#fcec00"/>
<path d="M576.1 350.7L581.4 349L574.7 348.1L569.4 349.8Z" fill="#ffbd00"/>
<path d="M482.4 363.9L487.6 361.5L481.1 360.8L475.9 363.2Z" fill="#cfff00"/>
<path d="M535 355.7L540.3 353.7L533.7 353L528.4 354.9Z" fill="#ffe300"/>
<path d="M588 349.9L593.3 348.2L586.7 347.3L581.4 349Z" fill="#ffb400"/>
<path d="M442 372.2L447.2 369.5L440.7 368.9L435.5 371.6Z" fill="#69ff00"/>
<path d="M494.2 362.2L499.5 359.9L492.9 359.2L487.6 361.5Z" fill="#eaff00"/>
<path d="M546.9 354.6L552.2 352.6L545.6 351.8L540.3 353.7Z" fill="#ffd600"/>
<path d="M600 349.1L605.3 347.5L598.6 346.6L593.3 348.2Z" fill="#ffad00"/>
<path d="M453.7 370.2L458.9 367.5L452.4 366.9L447.2 369.5Z" fill="#84ff00"/>
<path d="M558.8 353.5L564.1 351.6L557.5 350.8L552.2 352.6Z" fill="#ffcb00"/>
<path d="M506 360.7L511.3 358.4L504.7 357.7L499.5 359.9Z" fill="#f4f800"/>
<path d="M611.9 348.5L617.2 346.9L610.6 346L605.3 347.5Z" fill="#ffa700"/>
<path d="M465.4 368.2L470.6 365.6L464.1 365L458.9 367.5Z" fill="#a3ff00"/>
<path d="M517.9 359.2L523.2 357L516.6 356.3L511.3 358.4Z" fill="#f9ef00"/>
<path d="M570.8 352.5L576.1 350.7L569.4 349.8L564.1 351.6Z" fill="#ffc000"/>
<path d="M529.8 357.9L535 355.7L528.4 354.9L523.2 357Z" fill="#fee700"/>
<path d="M477.2 366.4L482.4 363.9L475.9 363.2L470.6 365.6Z" fill="#c1ff00"/>
<path d="M582.7 351.6L588 349.9L581.4 349L576.1 350.7Z" fill="#ffb700"/>
<path d="M436.8 375.1L442 372.2L435.5 371.6L430.3 374.4Z" fill="#5cff00"/>
<path d="M489 364.6L494.2 362.2L487.6 361.5L482.4 363.9Z" fill="#dcff00"/>
<path d="M541.6 356.6L546.9 354.6L540.3 353.7L535 355.7Z" fill="#ffdb00"/>
<path d="M594.7 350.9L600 349.1L593.3 348.2L588 349.9Z" fill="#ffaf00"/>
<path d="M448.5 372.9L453.7 370.2L447.2 369.5L442 372.2Z" fill="#74ff00"/>
<path d="M500.8 363L506 360.7L499.5 359.9L494.2 362.2Z" fill="#f1fd00"/>
<path d="M553.6 355.5L558.8 353.5L552.2 352.6L546.9 354.6Z" fill="#ffcf00"/>
<path d="M606.6 350.2L611.9 348.5L605.3 347.5L600 349.1Z" fill="#ffa800"/>
<path d="M460.2 370.9L465.4 368.2L458.9 367.5L453.7 370.2Z" fill="#93ff00"/>
<path d="M512.6 361.5L517.9 359.2L511.3 358.4L506 360.7Z" fill="#f7f400"/>
<path d="M565.5 354.4L570.8 352.5L564.1 351.6L558.8 353.5Z" fill="#ffc500"/>
<path d="M618.6 349.6L623.9 348L617.2 346.9L611.9 348.5Z" fill="#ffa200"/>
<path d="M524.5 360.1L529.8 357.9L523.2 357L517.9 359.2Z" fill="#fceb00"/>
<path d="M472 369L477.2 366.4L470.6 365.6L465.4 368.2Z" fill="#b1ff00"/>
<path d="M577.4 353.5L582.7 351.6L576.1 350.7L570.8 352.5Z" fill="#ffbb00"/>
<path d="M483.7 367.2L489 364.6L482.4 363.9L477.2 366.4Z" fill="#ceff00"/>
<path d="M431.7 378L436.8 375.1L430.3 374.4L425.2 377.3Z" fill="#4eff00"/>
<path d="M536.4 358.8L541.6 356.6L535 355.7L529.8 357.9Z" fill="#ffe200"/>
<path d="M589.3 352.7L594.7 350.9L588 349.9L582.7 351.6Z" fill="#ffb200"/>
<path d="M443.3 375.8L448.5 372.9L442 372.2L436.8 375.1Z" fill="#67ff00"/>
<path d="M495.5 365.5L500.8 363L494.2 362.2L489 364.6Z" fill="#e9ff00"/>
<path d="M548.3 357.6L553.6 355.5L546.9 354.6L541.6 356.6Z" fill="#ffd500"/>
<path d="M601.3 351.9L606.6 350.2L600 349.1L594.7 350.9Z" fill="#ffab00"/>
<path d="M455 373.7L460.2 370.9L453.7 370.2L448.5 372.9Z" fill="#81ff00"/>
<path d="M507.4 363.9L512.6 361.5L506 360.7L500.8 363Z" fill="#f4f800"/>
<path d="M560.2 356.5L565.5 354.4L558.8 353.5L553.6 355.5Z" fill="#ffca00"/>
<path d="M613.3 351.3L618.6 349.6L611.9 348.5L606.6 350.2Z" fill="#ffa400"/>
<path d="M466.7 371.7L472 369L465.4 368.2L460.2 370.9Z" fill="#a0ff00"/>
<path d="M519.2 362.4L524.5 360.1L517.9 359.2L512.6 361.5Z" fill="#f9f000"/>
<path d="M572.1 355.5L577.4 353.5L570.8 352.5L565.5 354.4Z" fill="#ffbf00"/>
<path d="M625.2 350.7L630.5 349.1L623.9 348L618.6 349.6Z" fill="#ff9f00"/>
<path d="M426.5 381.1L431.7 378L425.2 377.3L420.1 380.3Z" fill="#40ff00"/>
<path d="M478.5 369.8L483.7 367.2L477.2 366.4L472 369Z" fill="#beff00"/>
<path d="M531.1 361L536.4 358.8L529.8 357.9L524.5 360.1Z" fill="#fee800"/>
<path d="M584 354.6L589.3 352.7L582.7 351.6L577.4 353.5Z" fill="#ffb600"/>
<path d="M438.2 378.8L443.3 375.8L436.8 375.1L431.7 378Z" fill="#59ff00"/>
<path d="M490.3 368L495.5 365.5L489 364.6L483.7 367.2Z" fill="#daff00"/>
<path d="M543 359.7L548.3 357.6L541.6 356.6L536.4 358.8Z" fill="#ffdb00"/>
<path d="M596 353.8L601.3 351.9L594.7 350.9L589.3 352.7Z" fill="#ffae00"/>
<path d="M449.8 376.6L455 373.7L448.5 372.9L443.3 375.8Z" fill="#71ff00"/>
<path d="M502.1 366.4L507.4 363.9L500.8 363L495.5 365.5Z" fill="#f1fd00"/>
<path d="M607.9 353L613.3 351.3L606.6 350.2L601.3 351.9Z" fill="#ffa700"/>
<path d="M554.9 358.6L560.2 356.5L553.6 355.5L548.3 357.6Z" fill="#ffcf00"/>
<path d="M461.5 374.5L466.7 371.7L460.2 370.9L455 373.7Z" fill="#8eff00"/>
<path d="M513.9 364.8L519.2 362.4L512.6 361.5L507.4 363.9Z" fill="#f6f400"/>
<path d="M566.8 357.5L572.1 355.5L565.5 354.4L560.2 356.5Z" fill="#ffc400"/>
<path d="M619.9 352.4L625.2 350.7L618.6 349.6L613.3 351.3Z" fill="#ffa100"/>
<path d="M421.4 384.3L426.5 381.1L420.1 380.3L414.9 383.5Z" fill="#30ff00"/>
<path d="M473.3 372.6L478.5 369.8L472 369L466.7 371.7Z" fill="#adff00"/>
<path d="M578.7 356.5L584 354.6L577.4 353.5L572.1 355.5Z" fill="#ffba00"/>
<path d="M631.9 351.9L637.2 350.3L630.5 349.1L625.2 350.7Z" fill="#ff9c00"/>
<path d="M525.8 363.4L531.1 361L524.5 360.1L519.2 362.4Z" fill="#fbec00"/>
<path d="M433 381.9L438.2 378.8L431.7 378L426.5 381.1Z" fill="#4aff00"/>
<path d="M485.1 370.7L490.3 368L483.7 367.2L478.5 369.8Z" fill="#caff00"/>
<path d="M537.7 362L543 359.7L536.4 358.8L531.1 361Z" fill="#ffe300"/>
<path d="M590.7 355.7L596 353.8L589.3 352.7L584 354.6Z" fill="#ffb200"/>
<path d="M444.7 379.6L449.8 376.6L443.3 375.8L438.2 378.8Z" fill="#63ff00"/>
<path d="M496.9 369L502.1 366.4L495.5 365.5L490.3 368Z" fill="#e6ff00"/>
<path d="M549.6 360.8L554.9 358.6L548.3 357.6L543 359.7Z" fill="#ffd600"/>
<path d="M602.6 354.9L607.9 353L601.3 351.9L596 353.8Z" fill="#ffaa00"/>
<path d="M456.4 377.5L461.5 374.5L455 373.7L449.8 376.6Z" fill="#7bff00"/>
<path d="M508.7 367.3L513.9 364.8L507.4 363.9L502.1 366.4Z" fill="#f3f900"/>
<path d="M561.5 359.7L566.8 357.5L560.2 356.5L554.9 358.6Z" fill="#ffca00"/>
<path d="M614.6 354.3L619.9 352.4L613.3 351.3L607.9 353Z" fill="#ffa300"/>
<path d="M416.3 387.6L421.4 384.3L414.9 383.5L409.8 386.8Z" fill="#20ff00"/>
<path d="M468.1 375.4L473.3 372.6L466.7 371.7L461.5 374.5Z" fill="#9bff00"/>
<path d="M520.5 365.8L525.8 363.4L519.2 362.4L513.9 364.8Z" fill="#f9f100"/>
<path d="M573.4 358.6L578.7 356.5L572.1 355.5L566.8 357.5Z" fill="#ffc000"/>
<path d="M626.6 353.7L631.9 351.9L625.2 350.7L619.9 352.4Z" fill="#ff9e00"/>
<path d="M427.9 385.1L433 381.9L426.5 381.1L421.4 384.3Z" fill="#3bff00"/>
<path d="M479.8 373.5L485.1 370.7L478.5 369.8L473.3 372.6Z" fill="#b9ff00"/>
<path d="M532.4 364.4L537.7 362L531.1 361L525.8 363.4Z" fill="#fee800"/>
<path d="M585.4 357.7L590.7 355.7L584 354.6L578.7 356.5Z" fill="#ffb600"/>
<path d="M638.5 353.2L643.8 351.5L637.2 350.3L631.9 351.9Z" fill="#ff9a00"/>
<path d="M439.5 382.8L444.7 379.6L438.2 378.8L433 381.9Z" fill="#54ff00"/>
<path d="M491.6 371.7L496.9 369L490.3 368L485.1 370.7Z" fill="#d6ff00"/>
<path d="M544.3 363.1L549.6 360.8L543 359.7L537.7 362Z" fill="#ffdd00"/>
<path d="M597.3 356.9L602.6 354.9L596 353.8L590.7 355.7Z" fill="#ffae00"/>
<path d="M451.2 380.5L456.4 377.5L449.8 376.6L444.7 379.6Z" fill="#6cff00"/>
<path d="M503.4 370L508.7 367.3L502.1 366.4L496.9 369Z" fill="#f0ff00"/>
<path d="M556.2 361.9L561.5 359.7L554.9 358.6L549.6 360.8Z" fill="#ffd100"/>
<path d="M609.3 356.2L614.6 354.3L607.9 353L602.6 354.9Z" fill="#ffa700"/>
<path d="M411.2 391L416.3 387.6L409.8 386.8L404.7 390.2Z" fill="#0fff00"/>
<path d="M462.9 378.4L468.1 375.4L461.5 374.5L456.4 377.5Z" fill="#88ff00"/>
<path d="M515.3 368.4L520.5 365.8L513.9 364.8L508.7 367.3Z" fill="#f6f600"/>
<path d="M568.1 360.8L573.4 358.6L566.8 357.5L561.5 359.7Z" fill="#ffc600"/>
<path d="M621.2 355.6L626.6 353.7L619.9 352.4L614.6 354.3Z" fill="#ffa100"/>
<path d="M422.7 388.5L427.9 385.1L421.4 384.3L416.3 387.6Z" fill="#2aff00"/>
<path d="M474.6 376.4L479.8 373.5L473.3 372.6L468.1 375.4Z" fill="#a7ff00"/>
<path d="M527.1 366.9L532.4 364.4L525.8 363.4L520.5 365.8Z" fill="#fbed00"/>
<path d="M580.1 359.8L585.4 357.7L578.7 356.5L573.4 358.6Z" fill="#ffbc00"/>
<path d="M633.2 355L638.5 353.2L631.9 351.9L626.6 353.7Z" fill="#ff9c00"/>
<path d="M486.4 374.5L491.6 371.7L485.1 370.7L479.8 373.5Z" fill="#c4ff00"/>
<path d="M592 359L597.3 356.9L590.7 355.7L585.4 357.7Z" fill="#ffb300"/>
<path d="M434.4 386L439.5 382.8L433 381.9L427.9 385.1Z" fill="#44ff00"/>
<path d="M539 365.5L544.3 363.1L537.7 362L532.4 364.4Z" fill="#ffe500"/>
<path d="M645.2 354.6L650.5 352.9L643.8 351.5L638.5 353.2Z" fill="#ff9800"/>
<path d="M446 383.7L451.2 380.5L444.7 379.6L439.5 382.8Z" fill="#5dff00"/>
<path d="M498.2 372.7L503.4 370L496.9 369L491.6 371.7Z" fill="#e0ff00"/>
<path d="M550.9 364.3L556.2 361.9L549.6 360.8L544.3 363.1Z" fill="#ffd800"/>
<path d="M604 358.2L609.3 356.2L602.6 354.9L597.3 356.9Z" fill="#ffab00"/>
<path d="M457.7 381.5L462.9 378.4L456.4 377.5L451.2 380.5Z" fill="#75ff00"/>
<path d="M562.8 363.1L568.1 360.8L561.5 359.7L556.2 361.9Z" fill="#ffcc00"/>
<path d="M406.1 394.5L411.2 391L404.7 390.2L399.6 393.7Z" fill="#08ff10"/>
<path d="M510 371.1L515.3 368.4L508.7 367.3L503.4 370Z" fill="#f2fb00"/>
<path d="M615.9 357.5L621.2 355.6L614.6 354.3L609.3 356.2Z" fill="#ffa500"/>
<path d="M417.6 391.9L422.7 388.5L416.3 387.6L411.2 391Z" fill="#19ff00"/>
<path d="M469.4 379.4L474.6 376.4L468.1 375.4L462.9 378.4Z" fill="#94ff00"/>
<path d="M521.9 369.5L527.1 366.9L520.5 365.8L515.3 368.4Z" fill="#f7f300"/>
<path d="M574.7 362.1L580.1 359.8L573.4 358.6L568.1 360.8Z" fill="#ffc200"/>
<path d="M627.9 356.9L633.2 355L626.6 353.7L621.2 355.6Z" fill="#ff9f00"/>
<path d="M429.2 389.4L434.4 386L427.9 385.1L422.7 388.5Z" fill="#34ff00"/>
<path d="M481.2 377.4L486.4 374.5L479.8 373.5L474.6 376.4Z" fill="#b2ff00"/>
<path d="M533.7 368L539 365.5L532.4 364.4L527.1 366.9Z" fill="#fcea00"/>
<path d="M586.7 361.1L592 359L585.4 357.7L580.1 359.8Z" fill="#ffb900"/>
<path d="M639.8 356.5L645.2 354.6L638.5 353.2L633.2 355Z" fill="#ff9b00"/>
<path d="M598.6 360.3L604 358.2L597.3 356.9L592 359Z" fill="#ffb000"/>
<path d="M440.8 387L446 383.7L439.5 382.8L434.4 386Z" fill="#4eff00"/>
<path d="M492.9 375.6L498.2 372.7L491.6 371.7L486.4 374.5Z" fill="#cfff00"/>
<path d="M545.6 366.7L550.9 364.3L544.3 363.1L539 365.5Z" fill="#ffe000"/>
<path d="M651.8 356.1L657.1 354.3L650.5 352.9L645.2 354.6Z" fill="#ff9800"/>
<path d="M401 398.2L406.1 394.5L399.6 393.7L394.6 397.3Z" fill="#06ff28"/>
<path d="M452.5 384.7L457.7 381.5L451.2 380.5L446 383.7Z" fill="#66ff00"/>
<path d="M557.5 365.5L562.8 363.1L556.2 361.9L550.9 364.3Z" fill="#ffd400"/>
<path d="M504.8 373.8L510 371.1L503.4 370L498.2 372.7Z" fill="#e9ff00"/>
<path d="M610.6 359.5L615.9 357.5L609.3 356.2L604 358.2Z" fill="#ffa900"/>
<path d="M412.5 395.5L417.6 391.9L411.2 391L406.1 394.5Z" fill="#0aff04"/>
<path d="M516.6 372.2L521.9 369.5L515.3 368.4L510 371.1Z" fill="#f4f800"/>
<path d="M569.4 364.4L574.7 362.1L568.1 360.8L562.8 363.1Z" fill="#ffc900"/>
<path d="M464.2 382.5L469.4 379.4L462.9 378.4L457.7 381.5Z" fill="#7fff00"/>
<path d="M622.5 358.9L627.9 356.9L621.2 355.6L615.9 357.5Z" fill="#ffa300"/>
<path d="M475.9 380.5L481.2 377.4L474.6 376.4L469.4 379.4Z" fill="#9eff00"/>
<path d="M424.1 392.9L429.2 389.4L422.7 388.5L417.6 391.9Z" fill="#22ff00"/>
<path d="M528.5 370.7L533.7 368L527.1 366.9L521.9 369.5Z" fill="#f9f000"/>
<path d="M581.4 363.4L586.7 361.1L580.1 359.8L574.7 362.1Z" fill="#ffbf00"/>
<path d="M634.5 358.4L639.8 356.5L633.2 355L627.9 356.9Z" fill="#ff9e00"/>
<path d="M487.7 378.5L492.9 375.6L486.4 374.5L481.2 377.4Z" fill="#bcff00"/>
<path d="M540.3 369.3L545.6 366.7L539 365.5L533.7 368Z" fill="#fee800"/>
<path d="M435.7 390.4L440.8 387L434.4 386L429.2 389.4Z" fill="#3dff00"/>
<path d="M593.3 362.5L598.6 360.3L592 359L586.7 361.1Z" fill="#ffb600"/>
<path d="M646.5 358L651.8 356.1L645.2 354.6L639.8 356.5Z" fill="#ff9a00"/>
<path d="M447.3 388L452.5 384.7L446 383.7L440.8 387Z" fill="#56ff00"/>
<path d="M605.3 361.7L610.6 359.5L604 358.2L598.6 360.3Z" fill="#ffae00"/>
<path d="M499.5 376.7L504.8 373.8L498.2 372.7L492.9 375.6Z" fill="#d8ff00"/>
<path d="M552.2 368L557.5 365.5L550.9 364.3L545.6 366.7Z" fill="#ffdc00"/>
<path d="M407.4 399.2L412.5 395.5L406.1 394.5L401 398.2Z" fill="#07ff1b"/>
<path d="M511.3 375L516.6 372.2L510 371.1L504.8 373.8Z" fill="#f0fe00"/>
<path d="M564.1 366.8L569.4 364.4L562.8 363.1L557.5 365.5Z" fill="#ffd000"/>
<path d="M459 385.8L464.2 382.5L457.7 381.5L452.5 384.7Z" fill="#6eff00"/>
<path d="M617.2 361L622.5 358.9L615.9 357.5L610.6 359.5Z" fill="#ffa700"/>
<path d="M419 396.5L424.1 392.9L417.6 391.9L412.5 395.5Z" fill="#10ff00"/>
<path d="M470.7 383.6L475.9 380.5L469.4 379.4L464.2 382.5Z" fill="#8aff00"/>
<path d="M523.2 373.4L528.5 370.7L521.9 369.5L516.6 372.2Z" fill="#f6f500"/>
<path d="M576.1 365.7L581.4 363.4L574.7 362.1L569.4 364.4Z" fill="#ffc600"/>
<path d="M629.2 360.4L634.5 358.4L627.9 356.9L622.5 358.9Z" fill="#ffa200"/>
<path d="M482.5 381.6L487.7 378.5L481.2 377.4L475.9 380.5Z" fill="#a8ff00"/>
<path d="M535 371.9L540.3 369.3L533.7 368L528.5 370.7Z" fill="#fbed00"/>
<path d="M641.1 359.9L646.5 358L639.8 356.5L634.5 358.4Z" fill="#ff9e00"/>
<path d="M430.6 393.9L435.7 390.4L429.2 389.4L424.1 392.9Z" fill="#2bff00"/>
<path d="M588 364.8L593.3 362.5L586.7 361.1L581.4 363.4Z" fill="#ffbc00"/>
<path d="M442.2 391.4L447.3 388L440.8 387L435.7 390.4Z" fill="#45ff00"/>
<path d="M494.3 379.7L499.5 376.7L492.9 375.6L487.7 378.5Z" fill="#c5ff00"/>
<path d="M546.9 370.6L552.2 368L545.6 366.7L540.3 369.3Z" fill="#ffe500"/>
<path d="M599.9 363.9L605.3 361.7L598.6 360.3L593.3 362.5Z" fill="#ffb400"/>
<path d="M453.8 389.1L459 385.8L452.5 384.7L447.3 388Z" fill="#5eff00"/>
<path d="M506.1 377.9L511.3 375L504.8 373.8L499.5 376.7Z" fill="#e0ff00"/>
<path d="M558.8 369.3L564.1 366.8L557.5 365.5L552.2 368Z" fill="#ffd900"/>
<path d="M611.9 363.2L617.2 361L610.6 359.5L605.3 361.7Z" fill="#ffad00"/>
<path d="M413.9 400.2L419 396.5L412.5 395.5L407.4 399.2Z" fill="#08ff10"/>
<path d="M465.5 386.9L470.7 383.6L464.2 382.5L459 385.8Z" fill="#75ff00"/>
<path d="M517.9 376.2L523.2 373.4L516.6 372.2L511.3 375Z" fill="#f2fc00"/>
<path d="M570.8 368.2L576.1 365.7L569.4 364.4L564.1 366.8Z" fill="#ffcd00"/>
<path d="M623.9 362.5L629.2 360.4L622.5 358.9L617.2 361Z" fill="#ffa700"/>
<path d="M425.4 397.5L430.6 393.9L424.1 392.9L419 396.5Z" fill="#19ff00"/>
<path d="M477.3 384.8L482.5 381.6L475.9 380.5L470.7 383.6Z" fill="#94ff00"/>
<path d="M529.8 374.7L535 371.9L528.5 370.7L523.2 373.4Z" fill="#f7f300"/>
<path d="M582.7 367.1L588 364.8L581.4 363.4L576.1 365.7Z" fill="#ffc300"/>
<path d="M635.8 362L641.1 359.9L634.5 358.4L629.2 360.4Z" fill="#ffa200"/>
<path d="M437 395L442.2 391.4L435.7 390.4L430.6 393.9Z" fill="#34ff00"/>
<path d="M489 382.8L494.3 379.7L487.7 378.5L482.5 381.6Z" fill="#b1ff00"/>
<path d="M541.6 373.3L546.9 370.6L540.3 369.3L535 371.9Z" fill="#fceb00"/>
<path d="M594.6 366.2L599.9 363.9L593.3 362.5L588 364.8Z" fill="#ffbb00"/>
<path d="M448.7 392.6L453.8 389.1L447.3 388L442.2 391.4Z" fill="#4dff00"/>
<path d="M500.8 380.9L506.1 377.9L499.5 376.7L494.3 379.7Z" fill="#cdff00"/>
<path d="M553.5 371.9L558.8 369.3L552.2 368L546.9 370.6Z" fill="#ffe200"/>
<path d="M606.6 365.4L611.9 363.2L605.3 361.7L599.9 363.9Z" fill="#ffb300"/>
<path d="M460.4 390.3L465.5 386.9L459 385.8L453.8 389.1Z" fill="#65ff00"/>
<path d="M512.7 379.2L517.9 376.2L511.3 375L506.1 377.9Z" fill="#e7ff00"/>
<path d="M565.4 370.7L570.8 368.2L564.1 366.8L558.8 369.3Z" fill="#ffd600"/>
<path d="M618.5 364.7L623.9 362.5L617.2 361L611.9 363.2Z" fill="#ffac00"/>
<path d="M420.3 401.3L425.4 397.5L419 396.5L413.9 400.2Z" fill="#0aff05"/>
<path d="M472.1 388.1L477.3 384.8L470.7 383.6L465.5 386.9Z" fill="#7eff00"/>
<path d="M524.5 377.6L529.8 374.7L523.2 373.4L517.9 376.2Z" fill="#f3f900"/>
<path d="M577.4 369.6L582.7 367.1L576.1 365.7L570.8 368.2Z" fill="#ffcb00"/>
<path d="M630.5 364.1L635.8 362L629.2 360.4L623.9 362.5Z" fill="#ffa600"/>
<path d="M431.9 398.7L437 395L430.6 393.9L425.4 397.5Z" fill="#22ff00"/>
<path d="M483.8 386L489 382.8L482.5 381.6L477.3 384.8Z" fill="#9cff00"/>
<path d="M536.4 376L541.6 373.3L535 371.9L529.8 374.7Z" fill="#f8f100"/>
<path d="M589.3 368.6L594.6 366.2L588 364.8L582.7 367.1Z" fill="#ffc200"/>
<path d="M443.5 396.1L448.7 392.6L442.2 391.4L437 395Z" fill="#3cff00"/>
<path d="M495.6 384.1L500.8 380.9L494.3 379.7L489 382.8Z" fill="#b9ff00"/>
<path d="M548.2 374.7L553.5 371.9L546.9 370.6L541.6 373.3Z" fill="#fde900"/>
<path d="M601.2 367.8L606.6 365.4L599.9 363.9L594.6 366.2Z" fill="#ffb900"/>
<path d="M455.2 393.8L460.4 390.3L453.8 389.1L448.7 392.6Z" fill="#54ff00"/>
<path d="M560.1 373.4L565.4 370.7L558.8 369.3L553.5 371.9Z" fill="#ffdf00"/>
<path d="M507.4 382.2L512.7 379.2L506.1 377.9L500.8 380.9Z" fill="#d5ff00"/>
<path d="M613.2 367L618.5 364.7L611.9 363.2L606.6 365.4Z" fill="#ffb200"/>
<path d="M625.1 366.4L630.5 364.1L623.9 362.5L618.5 364.7Z" fill="#ffac00"/>
<path d="M466.9 391.5L472.1 388.1L465.5 386.9L460.4 390.3Z" fill="#6cff00"/>
<path d="M519.2 380.5L524.5 377.6L517.9 376.2L512.7 379.2Z" fill="#eeff00"/>
<path d="M572.1 372.2L577.4 369.6L570.8 368.2L565.4 370.7Z" fill="#ffd400"/>
<path d="M426.8 402.5L431.9 398.7L425.4 397.5L420.3 401.3Z" fill="#0eff00"/>
<path d="M478.6 389.3L483.8 386L477.3 384.8L472.1 388.1Z" fill="#86ff00"/>
<path d="M531.1 378.9L536.4 376L529.8 374.7L524.5 377.6Z" fill="#f5f700"/>
<path d="M584 371.2L589.3 368.6L582.7 367.1L577.4 369.6Z" fill="#ffca00"/>
<path d="M490.4 387.3L495.6 384.1L489 382.8L483.8 386Z" fill="#a4ff00"/>
<path d="M543 377.5L548.2 374.7L541.6 373.3L536.4 376Z" fill="#faef00"/>
<path d="M595.9 370.2L601.2 367.8L594.6 366.2L589.3 368.6Z" fill="#ffc100"/>
<path d="M438.4 399.8L443.5 396.1L437 395L431.9 398.7Z" fill="#29ff00"/>
<path d="M450 397.4L455.2 393.8L448.7 392.6L443.5 396.1Z" fill="#43ff00"/>
<path d="M554.8 376.1L560.1 373.4L553.5 371.9L548.2 374.7Z" fill="#fee800"/>
<path d="M502.2 385.4L507.4 382.2L500.8 380.9L495.6 384.1Z" fill="#c1ff00"/>
<path d="M607.9 369.4L613.2 367L606.6 365.4L601.2 367.8Z" fill="#ffb900"/>
<path d="M461.7 395L466.9 391.5L460.4 390.3L455.2 393.8Z" fill="#5bff00"/>
<path d="M514 383.6L519.2 380.5L512.7 379.2L507.4 382.2Z" fill="#dbff00"/>
<path d="M566.7 374.9L572.1 372.2L565.4 370.7L560.1 373.4Z" fill="#ffdd00"/>
<path d="M619.8 368.7L625.1 366.4L618.5 364.7L613.2 367Z" fill="#ffb200"/>
<path d="M525.8 382L531.1 378.9L524.5 377.6L519.2 380.5Z" fill="#f1fe00"/>
<path d="M473.4 392.8L478.6 389.3L472.1 388.1L466.9 391.5Z" fill="#72ff00"/>
<path d="M578.7 373.8L584 371.2L577.4 369.6L572.1 372.2Z" fill="#ffd200"/>
<path d="M433.3 403.7L438.4 399.8L431.9 398.7L426.8 402.5Z" fill="#16ff00"/>
<path d="M485.1 390.7L490.4 387.3L483.8 386L478.6 389.3Z" fill="#8eff00"/>
<path d="M537.7 380.4L543 377.5L536.4 376L531.1 378.9Z" fill="#f6f500"/>
<path d="M590.6 372.8L595.9 370.2L589.3 368.6L584 371.2Z" fill="#ffc900"/>
<path d="M444.9 401.1L450 397.4L443.5 396.1L438.4 399.8Z" fill="#31ff00"/>
<path d="M549.5 379L554.8 376.1L548.2 374.7L543 377.5Z" fill="#faee00"/>
<path d="M496.9 388.7L502.2 385.4L495.6 384.1L490.4 387.3Z" fill="#abff00"/>
<path d="M602.5 371.9L607.9 369.4L601.2 367.8L595.9 370.2Z" fill="#ffc000"/>
<path d="M456.5 398.7L461.7 395L455.2 393.8L450 397.4Z" fill="#49ff00"/>
<path d="M508.7 386.8L514 383.6L507.4 382.2L502.2 385.4Z" fill="#c7ff00"/>
<path d="M561.4 377.7L566.7 374.9L560.1 373.4L554.8 376.1Z" fill="#ffe700"/>
<path d="M614.5 371.1L619.8 368.7L613.2 367L607.9 369.4Z" fill="#ffb900"/>
<path d="M520.5 385.1L525.8 382L519.2 380.5L514 383.6Z" fill="#e0ff00"/>
<path d="M573.4 376.5L578.7 373.8L572.1 372.2L566.7 374.9Z" fill="#ffdc00"/>
<path d="M468.2 396.3L473.4 392.8L466.9 391.5L461.7 395Z" fill="#61ff00"/>
<path d="M479.9 394.1L485.1 390.7L478.6 389.3L473.4 392.8Z" fill="#77ff00"/>
<path d="M532.4 383.5L537.7 380.4L531.1 378.9L525.8 382Z" fill="#f2fc00"/>
<path d="M585.3 375.4L590.6 372.8L584 371.2L578.7 373.8Z" fill="#ffd100"/>
<path d="M439.7 404.9L444.9 401.1L438.4 399.8L433.3 403.7Z" fill="#1dff00"/>
<path d="M544.3 382L549.5 379L543 377.5L537.7 380.4Z" fill="#f7f400"/>
<path d="M491.7 392.1L496.9 388.7L490.4 387.3L485.1 390.7Z" fill="#95ff00"/>
<path d="M597.2 374.5L602.5 371.9L595.9 370.2L590.6 372.8Z" fill="#ffc800"/>
<path d="M451.4 402.4L456.5 398.7L450 397.4L444.9 401.1Z" fill="#37ff00"/>
<path d="M503.5 390.1L508.7 386.8L502.2 385.4L496.9 388.7Z" fill="#b2ff00"/>
<path d="M556.1 380.6L561.4 377.7L554.8 376.1L549.5 379Z" fill="#fbed00"/>
<path d="M609.1 373.6L614.5 371.1L607.9 369.4L602.5 371.9Z" fill="#ffc100"/>
<path d="M515.3 388.3L520.5 385.1L514 383.6L508.7 386.8Z" fill="#ccff00"/>
<path d="M568 379.3L573.4 376.5L566.7 374.9L561.4 377.7Z" fill="#ffe600"/>
<path d="M463 400L468.2 396.3L461.7 395L456.5 398.7Z" fill="#4fff00"/>
<path d="M474.7 397.7L479.9 394.1L473.4 392.8L468.2 396.3Z" fill="#66ff00"/>
<path d="M527.1 386.6L532.4 383.5L525.8 382L520.5 385.1Z" fill="#e5ff00"/>
<path d="M580 378.2L585.3 375.4L578.7 373.8L573.4 376.5Z" fill="#ffdb00"/>
<path d="M486.5 395.6L491.7 392.1L485.1 390.7L479.9 394.1Z" fill="#7eff00"/>
<path d="M539 385L544.3 382L537.7 380.4L532.4 383.5Z" fill="#f3fb00"/>
<path d="M591.9 377.2L597.2 374.5L590.6 372.8L585.3 375.4Z" fill="#ffd100"/>
<path d="M446.2 406.3L451.4 402.4L444.9 401.1L439.7 404.9Z" fill="#24ff00"/>
<path d="M498.2 393.5L503.5 390.1L496.9 388.7L491.7 392.1Z" fill="#9bff00"/>
<path d="M550.8 383.6L556.1 380.6L549.5 379L544.3 382Z" fill="#f7f300"/>
<path d="M603.8 376.3L609.1 373.6L602.5 371.9L597.2 374.5Z" fill="#ffc900"/>
<path d="M457.9 403.8L463 400L456.5 398.7L451.4 402.4Z" fill="#3dff00"/>
<path d="M510 391.6L515.3 388.3L508.7 386.8L503.5 390.1Z" fill="#b7ff00"/>
<path d="M562.7 382.2L568 379.3L561.4 377.7L556.1 380.6Z" fill="#fbec00"/>
<path d="M469.6 401.4L474.7 397.7L468.2 396.3L463 400Z" fill="#55ff00"/>
<path d="M521.9 389.9L527.1 386.6L520.5 385.1L515.3 388.3Z" fill="#d0ff00"/>
<path d="M574.6 381L580 378.2L573.4 376.5L568 379.3Z" fill="#ffe500"/>
<path d="M481.3 399.2L486.5 395.6L479.9 394.1L474.7 397.7Z" fill="#6bff00"/>
<path d="M533.7 388.2L539 385L532.4 383.5L527.1 386.6Z" fill="#e8ff00"/>
<path d="M586.6 379.9L591.9 377.2L585.3 375.4L580 378.2Z" fill="#ffdb00"/>
<path d="M493 397.1L498.2 393.5L491.7 392.1L486.5 395.6Z" fill="#84ff00"/>
<path d="M545.6 386.7L550.8 383.6L544.3 382L539 385Z" fill="#f3fa00"/>
<path d="M598.5 379L603.8 376.3L597.2 374.5L591.9 377.2Z" fill="#ffd200"/>
<path d="M452.7 407.7L457.9 403.8L451.4 402.4L446.2 406.3Z" fill="#2aff00"/>
<path d="M504.8 395.1L510 391.6L503.5 390.1L498.2 393.5Z" fill="#a0ff00"/>
<path d="M557.4 385.3L562.7 382.2L556.1 380.6L550.8 383.6Z" fill="#f8f200"/>
<path d="M464.4 405.2L469.6 401.4L463 400L457.9 403.8Z" fill="#42ff00"/>
<path d="M516.6 393.2L521.9 389.9L515.3 388.3L510 391.6Z" fill="#bbff00"/>
<path d="M569.3 384L574.6 381L568 379.3L562.7 382.2Z" fill="#fcec00"/>
<path d="M476.1 402.9L481.3 399.2L474.7 397.7L469.6 401.4Z" fill="#59ff00"/>
<path d="M528.4 391.5L533.7 388.2L527.1 386.6L521.9 389.9Z" fill="#d4ff00"/>
<path d="M581.2 382.8L586.6 379.9L580 378.2L574.6 381Z" fill="#ffe500"/>
<path d="M540.3 389.9L545.6 386.7L539 385L533.7 388.2Z" fill="#ebff00"/>
<path d="M593.2 381.8L598.5 379L591.9 377.2L586.6 379.9Z" fill="#ffdb00"/>
<path d="M487.8 400.7L493 397.1L486.5 395.6L481.3 399.2Z" fill="#6fff00"/>
<path d="M499.6 398.6L504.8 395.1L498.2 393.5L493 397.1Z" fill="#89ff00"/>
<path d="M552.1 388.4L557.4 385.3L550.8 383.6L545.6 386.7Z" fill="#f4f900"/>
<path d="M459.2 409.2L464.4 405.2L457.9 403.8L452.7 407.7Z" fill="#2fff00"/>
<path d="M511.3 396.7L516.6 393.2L510 391.6L504.8 395.1Z" fill="#a5ff00"/>
<path d="M564 387L569.3 384L562.7 382.2L557.4 385.3Z" fill="#f8f200"/>
<path d="M523.2 394.9L528.4 391.5L521.9 389.9L516.6 393.2Z" fill="#bfff00"/>
<path d="M575.9 385.8L581.2 382.8L574.6 381L569.3 384Z" fill="#fcec00"/>
<path d="M470.9 406.8L476.1 402.9L469.6 401.4L464.4 405.2Z" fill="#47ff00"/>
<path d="M482.6 404.5L487.8 400.7L481.3 399.2L476.1 402.9Z" fill="#5eff00"/>
<path d="M535 393.2L540.3 389.9L533.7 388.2L528.4 391.5Z" fill="#d6ff00"/>
<path d="M587.8 384.7L593.2 381.8L586.6 379.9L581.2 382.8Z" fill="#ffe600"/>
<path d="M494.3 402.3L499.6 398.6L493 397.1L487.8 400.7Z" fill="#73ff00"/>
<path d="M546.8 391.6L552.1 388.4L545.6 386.7L540.3 389.9Z" fill="#ecff00"/>
<path d="M506.1 400.3L511.3 396.7L504.8 395.1L499.6 398.6Z" fill="#8dff00"/>
<path d="M558.7 390.2L564 387L557.4 385.3L552.1 388.4Z" fill="#f4f900"/>
<path d="M465.7 410.7L470.9 406.8L464.4 405.2L459.2 409.2Z" fill="#34ff00"/>
<path d="M517.9 398.4L523.2 394.9L516.6 393.2L511.3 396.7Z" fill="#a8ff00"/>
<path d="M570.6 388.9L575.9 385.8L569.3 384L564 387Z" fill="#f8f200"/>
<path d="M582.5 387.7L587.8 384.7L581.2 382.8L575.9 385.8Z" fill="#fbec00"/>
<path d="M477.4 408.4L482.6 404.5L476.1 402.9L470.9 406.8Z" fill="#4bff00"/>
<path d="M529.7 396.6L535 393.2L528.4 391.5L523.2 394.9Z" fill="#c1ff00"/>
<path d="M489.1 406.1L494.3 402.3L487.8 400.7L482.6 404.5Z" fill="#61ff00"/>
<path d="M541.6 395L546.8 391.6L540.3 389.9L535 393.2Z" fill="#d8ff00"/>
<path d="M500.9 404L506.1 400.3L499.6 398.6L494.3 402.3Z" fill="#76ff00"/>
<path d="M553.4 393.5L558.7 390.2L552.1 388.4L546.8 391.6Z" fill="#edff00"/>
<path d="M512.7 402L517.9 398.4L511.3 396.7L506.1 400.3Z" fill="#91ff00"/>
<path d="M565.3 392.1L570.6 388.9L564 387L558.7 390.2Z" fill="#f4f900"/>
<path d="M472.2 412.4L477.4 408.4L470.9 406.8L465.7 410.7Z" fill="#38ff00"/>
<path d="M524.5 400.2L529.7 396.6L523.2 394.9L517.9 398.4Z" fill="#aaff00"/>
<path d="M577.2 390.8L582.5 387.7L575.9 385.8L570.6 388.9Z" fill="#f8f200"/>
<path d="M483.9 410L489.1 406.1L482.6 404.5L477.4 408.4Z" fill="#4fff00"/>
<path d="M536.3 398.4L541.6 395L535 393.2L529.7 396.6Z" fill="#c3ff00"/>
<path d="M495.6 407.8L500.9 404L494.3 402.3L489.1 406.1Z" fill="#64ff00"/>
<path d="M548.1 396.9L553.4 393.5L546.8 391.6L541.6 395Z" fill="#d9ff00"/>
<path d="M507.4 405.7L512.7 402L506.1 400.3L500.9 404Z" fill="#78ff00"/>
<path d="M560 395.4L565.3 392.1L558.7 390.2L553.4 393.5Z" fill="#edff00"/>
<path d="M519.2 403.8L524.5 400.2L517.9 398.4L512.7 402Z" fill="#93ff00"/>
<path d="M571.9 394.1L577.2 390.8L570.6 388.9L565.3 392.1Z" fill="#f3f900"/>
<path d="M478.7 414L483.9 410L477.4 408.4L472.2 412.4Z" fill="#3bff00"/>
<path d="M531 402L536.3 398.4L529.7 396.6L524.5 400.2Z" fill="#acff00"/>
<path d="M490.4 411.8L495.6 407.8L489.1 406.1L483.9 410Z" fill="#52ff00"/>
<path d="M542.8 400.3L548.1 396.9L541.6 395L536.3 398.4Z" fill="#c3ff00"/>
<path d="M502.2 409.6L507.4 405.7L500.9 404L495.6 407.8Z" fill="#66ff00"/>
<path d="M554.7 398.8L560 395.4L553.4 393.5L548.1 396.9Z" fill="#d8ff00"/>
<path d="M566.6 397.4L571.9 394.1L565.3 392.1L560 395.4Z" fill="#ecff00"/>
<path d="M514 407.6L519.2 403.8L512.7 402L507.4 405.7Z" fill="#7aff00"/>
<path d="M525.8 405.7L531 402L524.5 400.2L519.2 403.8Z" fill="#94ff00"/>
<path d="M485.2 415.8L490.4 411.8L483.9 410L478.7 414Z" fill="#3eff00"/>
<path d="M537.6 403.9L542.8 400.3L536.3 398.4L531 402Z" fill="#adff00"/>
<path d="M497 413.6L502.2 409.6L495.6 407.8L490.4 411.8Z" fill="#54ff00"/>
<path d="M549.4 402.3L554.7 398.8L548.1 396.9L542.8 400.3Z" fill="#c3ff00"/>
<path d="M508.7 411.5L514 407.6L507.4 405.7L502.2 409.6Z" fill="#68ff00"/>
<path d="M561.3 400.8L566.6 397.4L560 395.4L554.7 398.8Z" fill="#d7ff00"/>
<path d="M520.5 409.5L525.8 405.7L519.2 403.8L514 407.6Z" fill="#7cff00"/>
<path d="M532.3 407.7L537.6 403.9L531 402L525.8 405.7Z" fill="#95ff00"/>
<path d="M491.8 417.6L497 413.6L490.4 411.8L485.2 415.8Z" fill="#41ff00"/>
<path d="M544.1 406L549.4 402.3L542.8 400.3L537.6 403.9Z" fill="#acff00"/>
<path d="M503.5 415.4L508.7 411.5L502.2 409.6L497 413.6Z" fill="#55ff00"/>
<path d="M556 404.4L561.3 400.8L554.7 398.8L549.4 402.3Z" fill="#c2ff00"/>
<path d="M515.3 413.4L520.5 409.5L514 407.6L508.7 411.5Z" fill="#69ff00"/>
<path d="M527 411.5L532.3 407.7L525.8 405.7L520.5 409.5Z" fill="#7cff00"/>
<path d="M538.9 409.7L544.1 406L537.6 403.9L532.3 407.7Z" fill="#95ff00"/>
<path d="M498.3 419.6L503.5 415.4L497 413.6L491.8 417.6Z" fill="#42ff00"/>
<path d="M550.7 408L556 404.4L549.4 402.3L544.1 406Z" fill="#abff00"/>
<path d="M510 417.4L515.3 413.4L508.7 411.5L503.5 415.4Z" fill="#56ff00"/>
<path d="M521.8 415.4L527 411.5L520.5 409.5L515.3 413.4Z" fill="#69ff00"/>
<path d="M533.6 413.5L538.9 409.7L532.3 407.7L527 411.5Z" fill="#7cff00"/>
<path d="M545.4 411.8L550.7 408L544.1 406L538.9 409.7Z" fill="#93ff00"/>
<path d="M504.8 421.6L510 417.4L503.5 415.4L498.3 419.6Z" fill="#43ff00"/>
<path d="M516.5 419.5L521.8 415.4L515.3 413.4L510 417.4Z" fill="#57ff00"/>
<path d="M528.3 417.5L533.6 413.5L527 411.5L521.8 415.4Z" fill="#69ff00"/>
<path d="M540.1 415.7L545.4 411.8L538.9 409.7L533.6 413.5Z" fill="#7bff00"/>
<path d="M511.3 423.6L516.5 419.5L510 417.4L504.8 421.6Z" fill="#44ff00"/>
<path d="M523.1 421.6L528.3 417.5L521.8 415.4L516.5 419.5Z" fill="#57ff00"/>
<path d="M534.9 419.7L540.1 415.7L533.6 413.5L528.3 417.5Z" fill="#68ff00"/>
<path d="M517.8 425.8L523.1 421.6L516.5 419.5L511.3 423.6Z" fill="#44ff00"/>
<path d="M529.6 423.8L534.9 419.7L528.3 417.5L523.1 421.6Z" fill="#56ff00"/>
<path d="M524.3 428L529.6 423.8L523.1 421.6L517.8 425.8Z" fill="#43ff00"/>
</g>
<circle cx="524.3" cy="350.1" r="2.45" fill="#ba0a0a" stroke="#5e0000" stroke-width=".7"/>
<circle cx="524.3" cy="357.8" r="2.45" fill="#ba0a0a" stroke="#5e0000" stroke-width=".7"/>
<circle cx="524.3" cy="360" r="2.45" fill="#ba0a0a" stroke="#5e0000" stroke-width=".7"/>
<circle cx="524.3" cy="363.9" r="2.45" fill="#ba0a0a" stroke="#5e0000" stroke-width=".7"/>
<path d="M397.9 456.5h0M396.6 432.6h0M395.2 408.7h0M393.9 384.8h0M392.5 360.9h0M391.2 337h0M524.3 548.3h0M555.7 534.7h0M587.1 521h0M618.5 507.4h0M649.9 493.8h0M524.3 548.3h0M510.5 542.2h0M496.7 536.2h0M482.9 530.1h0M469.1 524.1h0M455.2 518h0M441.4 512h0M427.6 505.9h0M413.8 499.9h0M400 493.8h0" stroke="#000" stroke-width="2.4" stroke-linecap="round"/>
<text class="t" text-anchor="end" transform="translate(393.4 454.9) scale(.86 1)">0</text>
<text class="t" text-anchor="end" transform="translate(392.1 431) scale(.86 1)">20</text>
<text class="t" text-anchor="end" transform="translate(390.7 407.1) scale(.86 1)">40</text>
<text class="t" text-anchor="end" transform="translate(389.4 383.2) scale(.86 1)">60</text>
<text class="t" text-anchor="end" transform="translate(388 359.3) scale(.86 1)">80</text>
<text class="t" text-anchor="end" transform="translate(386.7 335.4) scale(.86 1)">100</text>
<text class="t" transform="translate(528.5 557.6) scale(.86 1)">20</text>
<text class="t" transform="translate(559.9 544) scale(.86 1)">30</text>
<text class="t" transform="translate(591.3 530.3) scale(.86 1)">40</text>
<text class="t" transform="translate(622.7 516.7) scale(.86 1)">50</text>
<text class="t" transform="translate(654.1 503.1) scale(.86 1)">60</text>
<text class="t" text-anchor="end" transform="translate(520.1 557.6) scale(.86 1)">10</text>
<text class="t" text-anchor="end" transform="translate(506.3 551.5) scale(.86 1)">20</text>
<text class="t" text-anchor="end" transform="translate(492.5 545.5) scale(.86 1)">30</text>
<text class="t" text-anchor="end" transform="translate(478.7 539.4) scale(.86 1)">40</text>
<text class="t" text-anchor="end" transform="translate(464.9 533.4) scale(.86 1)">50</text>
<text class="t" text-anchor="end" transform="translate(451 527.3) scale(.86 1)">60</text>
<text class="t" text-anchor="end" transform="translate(437.2 521.3) scale(.86 1)">70</text>
<text class="t" text-anchor="end" transform="translate(423.4 515.2) scale(.86 1)">80</text>
<text class="t" text-anchor="end" transform="translate(409.6 509.2) scale(.86 1)">90</text>
<text class="t" text-anchor="end" transform="translate(395.8 503.1) scale(.86 1)">100</text>
<text class="b" x="414.7" y="539.6" text-anchor="middle">C: color</text>
<text class="b" x="416.6" y="554.6" text-anchor="middle">(g/ml)</text>
<text class="b" x="634.2" y="547.1" text-anchor="middle">B: UV (M)</text>
<text class="b" text-anchor="middle" transform="translate(368.1 422.5) rotate(-90)">Decoloring</text>
<text class="h" x="351.3" y="314.8">(d)</text>
<rect x="5.2" y="575.6" width="334.7" height="278.2" fill="#fff" stroke="#333" stroke-width="1.7"/>
<path d="M65.8 782.6L182.6 836.6L300.1 782.6L182.6 740.1Z" fill="#636363" stroke="#444" stroke-width=".5"/>
<path d="M111.8 766.3C116.5 767.2 130 770.3 140 771.5C150 772.7 161.2 772.9 172 773.3C182.8 773.7 195.1 774.3 204.7 774C214.3 773.7 222.1 772.8 229.8 771.3C237.5 769.8 247.6 766.3 251.1 765.3" fill="none" stroke="#e8dc00" stroke-width="1.5"/>
<path d="M79.1 778.8C86.8 780.5 109.5 786.2 125 789C140.5 791.8 155.8 793.8 172 795.4C188.2 797 209.7 798 222.3 798.4C234.9 798.8 239 798.3 247.4 797.7C255.8 797.1 268.3 795.2 272.5 794.7" fill="none" stroke="#a2e000" stroke-width="1.5"/>
<path d="M110.6 803.5C115.5 804.6 129.8 808.1 140 810C150.2 811.9 162.5 813.4 172 814.8C181.5 816.2 189.3 817.5 197.1 818.5C204.8 819.5 214.9 820.2 218.5 820.5" fill="none" stroke="#2ee02a" stroke-width="1.5"/>
<path d="M176 742.5L185 741" fill="none" stroke="#f08a14" stroke-width="1.5"/>
<path d="M176 833.5L185 835.5" fill="none" stroke="#18e07a" stroke-width="1.5"/>
<path d="M93.7 735.6L89.4 619.2M123.3 725.9L120.4 612.5M153 716.2L151.5 605.7M282.1 738.9L287.3 621.5M262.2 732.4L266.3 617M242.3 725.9L245.4 612.5M222.4 719.4L224.5 607.9M202.5 713L203.5 603.4M64 745.3L182.6 706.5L302 745.3M62.9 721.5L182.6 685L303.3 721.5M61.7 697.6L182.6 663.5L304.5 697.6M60.6 673.7L182.6 641.9L305.7 673.7M59.4 649.9L182.6 620.4L307 649.9" fill="none" stroke="#3a3a3a" stroke-width=".7"/>
<path d="M58.3 626L182.6 598.9L308.2 626M65.8 782.6L58.3 626M182.6 740.1L182.6 598.9M300.1 782.6L308.2 626" fill="none" stroke="#2a2a2a" stroke-width=".9"/>
<path d="M65.8 782.6L182.6 836.6L300.1 782.6" fill="none" stroke="#111" stroke-width="1"/>
<g stroke="#000" stroke-opacity=".74" stroke-width=".52" stroke-linejoin="round">
<path d="M182.7 613.2L188.8 611.6L182.6 609.7L176.4 611.3Z" fill="#ff7d00"/>
<path d="M176.5 614.9L182.7 613.2L176.4 611.3L170.2 613Z" fill="#ff8000"/>
<path d="M188.9 615.2L195.1 613.5L188.8 611.6L182.7 613.2Z" fill="#ff8200"/>
<path d="M170.3 616.8L176.5 614.9L170.2 613L164 614.8Z" fill="#ff8300"/>
<path d="M182.7 617L188.9 615.2L182.7 613.2L176.5 614.9Z" fill="#ff8500"/>
<path d="M195.1 617.2L201.3 615.5L195.1 613.5L188.9 615.2Z" fill="#ff8800"/>
<path d="M176.5 618.9L182.7 617L176.5 614.9L170.3 616.8Z" fill="#ff8800"/>
<path d="M189 619.1L195.1 617.2L188.9 615.2L182.7 617Z" fill="#ff8a00"/>
<path d="M164.1 618.9L170.3 616.8L164 614.8L157.9 616.8Z" fill="#ff8800"/>
<path d="M201.4 619.4L207.6 617.6L201.3 615.5L195.1 617.2Z" fill="#ff8e00"/>
<path d="M157.9 621L164.1 618.9L157.9 616.8L151.7 618.9Z" fill="#ff8e00"/>
<path d="M170.3 621L176.5 618.9L170.3 616.8L164.1 618.9Z" fill="#ff8d00"/>
<path d="M182.8 621L189 619.1L182.7 617L176.5 618.9Z" fill="#ff8e00"/>
<path d="M195.2 621.2L201.4 619.4L195.1 617.2L189 619.1Z" fill="#ff9000"/>
<path d="M207.6 621.6L213.8 619.8L207.6 617.6L201.4 619.4Z" fill="#ff9400"/>
<path d="M164.2 623.2L170.3 621L164.1 618.9L157.9 621Z" fill="#ff9300"/>
<path d="M201.4 623.5L207.6 621.6L201.4 619.4L195.2 621.2Z" fill="#ff9700"/>
<path d="M151.8 623.3L157.9 621L151.7 618.9L145.5 621.2Z" fill="#ff9500"/>
<path d="M176.6 623.2L182.8 621L176.5 618.9L170.3 621Z" fill="#ff9300"/>
<path d="M189 623.3L195.2 621.2L189 619.1L182.8 621Z" fill="#ff9400"/>
<path d="M213.8 623.8L220 622L213.8 619.8L207.6 621.6Z" fill="#ff9b00"/>
<path d="M145.6 625.8L151.8 623.3L145.5 621.2L139.4 623.6Z" fill="#ff9d00"/>
<path d="M158 625.5L164.2 623.2L157.9 621L151.8 623.3Z" fill="#ff9a00"/>
<path d="M170.4 625.4L176.6 623.2L170.3 621L164.2 623.2Z" fill="#ff9900"/>
<path d="M182.8 625.4L189 623.3L182.8 621L176.6 623.2Z" fill="#ff9900"/>
<path d="M195.2 625.5L201.4 623.5L195.2 621.2L189 623.3Z" fill="#ff9b00"/>
<path d="M207.6 625.8L213.8 623.8L207.6 621.6L201.4 623.5Z" fill="#ff9e00"/>
<path d="M220.1 626.2L226.3 624.3L220 622L213.8 623.8Z" fill="#ffa300"/>
<path d="M139.4 628.4L145.6 625.8L139.4 623.6L133.2 626.1Z" fill="#ffa600"/>
<path d="M151.8 628L158 625.5L151.8 623.3L145.6 625.8Z" fill="#ffa300"/>
<path d="M164.2 627.8L170.4 625.4L164.2 623.2L158 625.5Z" fill="#ffa000"/>
<path d="M176.6 627.7L182.8 625.4L176.6 623.2L170.4 625.4Z" fill="#ffa000"/>
<path d="M189 627.7L195.2 625.5L189 623.3L182.8 625.4Z" fill="#ffa000"/>
<path d="M201.5 627.9L207.6 625.8L201.4 623.5L195.2 625.5Z" fill="#ffa200"/>
<path d="M213.9 628.2L220.1 626.2L213.8 623.8L207.6 625.8Z" fill="#ffa600"/>
<path d="M226.3 628.6L232.5 626.7L226.3 624.3L220.1 626.2Z" fill="#ffab00"/>
<path d="M145.7 630.7L151.8 628L145.6 625.8L139.4 628.4Z" fill="#ffac00"/>
<path d="M158.1 630.4L164.2 627.8L158 625.5L151.8 628Z" fill="#ffa900"/>
<path d="M182.9 630.1L189 627.7L182.8 625.4L176.6 627.7Z" fill="#ffa600"/>
<path d="M207.7 630.3L213.9 628.2L207.6 625.8L201.5 627.9Z" fill="#ffaa00"/>
<path d="M220.1 630.6L226.3 628.6L220.1 626.2L213.9 628.2Z" fill="#ffae00"/>
<path d="M133.3 631.1L139.4 628.4L133.2 626.1L127.1 628.8Z" fill="#ffb100"/>
<path d="M170.5 630.2L176.6 627.7L170.4 625.4L164.2 627.8Z" fill="#ffa700"/>
<path d="M195.3 630.1L201.5 627.9L195.2 625.5L189 627.7Z" fill="#ffa700"/>
<path d="M232.5 631.1L238.7 629.2L232.5 626.7L226.3 628.6Z" fill="#ffb400"/>
<path d="M127.2 634L133.3 631.1L127.1 628.8L120.9 631.6Z" fill="#ffbd00"/>
<path d="M139.5 633.5L145.7 630.7L139.4 628.4L133.3 631.1Z" fill="#ffb700"/>
<path d="M151.9 633.1L158.1 630.4L151.8 628L145.7 630.7Z" fill="#ffb300"/>
<path d="M164.3 632.8L170.5 630.2L164.2 627.8L158.1 630.4Z" fill="#ffb000"/>
<path d="M176.7 632.6L182.9 630.1L176.6 627.7L170.5 630.2Z" fill="#ffae00"/>
<path d="M189.1 632.5L195.3 630.1L189 627.7L182.9 630.1Z" fill="#ffae00"/>
<path d="M201.5 632.6L207.7 630.3L201.5 627.9L195.3 630.1Z" fill="#ffaf00"/>
<path d="M213.9 632.8L220.1 630.6L213.9 628.2L207.7 630.3Z" fill="#ffb200"/>
<path d="M226.3 633.1L232.5 631.1L226.3 628.6L220.1 630.6Z" fill="#ffb700"/>
<path d="M238.7 633.7L244.9 631.7L238.7 629.2L232.5 631.1Z" fill="#ffbd00"/>
<path d="M133.4 636.4L139.5 633.5L133.3 631.1L127.2 634Z" fill="#ffc300"/>
<path d="M170.5 635.2L176.7 632.6L170.5 630.2L164.3 632.8Z" fill="#ffb700"/>
<path d="M195.3 635L201.5 632.6L195.3 630.1L189.1 632.5Z" fill="#ffb600"/>
<path d="M232.5 635.8L238.7 633.7L232.5 631.1L226.3 633.1Z" fill="#ffc000"/>
<path d="M121 637.1L127.2 634L120.9 631.6L114.8 634.6Z" fill="#ffca00"/>
<path d="M145.7 635.9L151.9 633.1L145.7 630.7L139.5 633.5Z" fill="#ffbe00"/>
<path d="M158.1 635.5L164.3 632.8L158.1 630.4L151.9 633.1Z" fill="#ffba00"/>
<path d="M182.9 635L189.1 632.5L182.9 630.1L176.7 632.6Z" fill="#ffb600"/>
<path d="M207.7 635.1L213.9 632.8L207.7 630.3L201.5 632.6Z" fill="#ffb800"/>
<path d="M220.1 635.4L226.3 633.1L220.1 630.6L213.9 632.8Z" fill="#ffbb00"/>
<path d="M244.9 636.3L251.1 634.3L244.9 631.7L238.7 633.7Z" fill="#ffc700"/>
<path d="M114.9 640.3L121 637.1L114.8 634.6L108.7 637.8Z" fill="#ffd800"/>
<path d="M127.2 639.5L133.4 636.4L127.2 634L121 637.1Z" fill="#ffd000"/>
<path d="M139.6 638.9L145.7 635.9L139.5 633.5L133.4 636.4Z" fill="#ffca00"/>
<path d="M152 638.4L158.1 635.5L151.9 633.1L145.7 635.9Z" fill="#ffc500"/>
<path d="M164.3 638L170.5 635.2L164.3 632.8L158.1 635.5Z" fill="#ffc100"/>
<path d="M176.7 637.7L182.9 635L176.7 632.6L170.5 635.2Z" fill="#ffbe00"/>
<path d="M189.1 637.6L195.3 635L189.1 632.5L182.9 635Z" fill="#ffbe00"/>
<path d="M201.5 637.6L207.7 635.1L201.5 632.6L195.3 635Z" fill="#ffbe00"/>
<path d="M213.9 637.7L220.1 635.4L213.9 632.8L207.7 635.1Z" fill="#ffc100"/>
<path d="M226.3 638L232.5 635.8L226.3 633.1L220.1 635.4Z" fill="#ffc400"/>
<path d="M238.7 638.4L244.9 636.3L238.7 633.7L232.5 635.8Z" fill="#ffca00"/>
<path d="M251.1 639L257.3 637L251.1 634.3L244.9 636.3Z" fill="#ffd100"/>
<path d="M108.8 643.6L114.9 640.3L108.7 637.8L102.6 641.1Z" fill="#ffe700"/>
<path d="M121.1 642.8L127.2 639.5L121 637.1L114.9 640.3Z" fill="#ffde00"/>
<path d="M133.5 642.1L139.6 638.9L133.4 636.4L127.2 639.5Z" fill="#ffd700"/>
<path d="M145.8 641.4L152 638.4L145.7 635.9L139.6 638.9Z" fill="#ffd100"/>
<path d="M158.2 640.9L164.3 638L158.1 635.5L152 638.4Z" fill="#ffcc00"/>
<path d="M170.5 640.5L176.7 637.7L170.5 635.2L164.3 638Z" fill="#ffc800"/>
<path d="M182.9 640.3L189.1 637.6L182.9 635L176.7 637.7Z" fill="#ffc600"/>
<path d="M195.3 640.2L201.5 637.6L195.3 635L189.1 637.6Z" fill="#ffc600"/>
<path d="M207.7 640.2L213.9 637.7L207.7 635.1L201.5 637.6Z" fill="#ffc700"/>
<path d="M220.1 640.4L226.3 638L220.1 635.4L213.9 637.7Z" fill="#ffca00"/>
<path d="M232.5 640.7L238.7 638.4L232.5 635.8L226.3 638Z" fill="#ffce00"/>
<path d="M244.9 641.2L251.1 639L244.9 636.3L238.7 638.4Z" fill="#ffd400"/>
<path d="M257.2 641.9L263.4 639.8L257.3 637L251.1 639Z" fill="#ffdc00"/>
<path d="M102.7 647.1L108.8 643.6L102.6 641.1L96.5 644.5Z" fill="#f9f000"/>
<path d="M115 646.2L121.1 642.8L114.9 640.3L108.8 643.6Z" fill="#fcea00"/>
<path d="M127.3 645.4L133.5 642.1L127.2 639.5L121.1 642.8Z" fill="#ffe500"/>
<path d="M152 644L158.2 640.9L152 638.4L145.8 641.4Z" fill="#ffd800"/>
<path d="M176.8 643.2L182.9 640.3L176.7 637.7L170.5 640.5Z" fill="#ffd100"/>
<path d="M189.1 642.9L195.3 640.2L189.1 637.6L182.9 640.3Z" fill="#ffcf00"/>
<path d="M213.9 642.9L220.1 640.4L213.9 637.7L207.7 640.2Z" fill="#ffd000"/>
<path d="M238.7 643.5L244.9 641.2L238.7 638.4L232.5 640.7Z" fill="#ffd900"/>
<path d="M251 644L257.2 641.9L251.1 639L244.9 641.2Z" fill="#ffdf00"/>
<path d="M263.4 644.7L269.6 642.7L263.4 639.8L257.2 641.9Z" fill="#fee700"/>
<path d="M139.7 644.6L145.8 641.4L139.6 638.9L133.5 642.1Z" fill="#ffde00"/>
<path d="M164.4 643.5L170.5 640.5L164.3 638L158.2 640.9Z" fill="#ffd400"/>
<path d="M201.5 642.8L207.7 640.2L201.5 637.6L195.3 640.2Z" fill="#ffcf00"/>
<path d="M226.3 643.1L232.5 640.7L226.3 638L220.1 640.4Z" fill="#ffd400"/>
<path d="M96.6 650.8L102.7 647.1L96.5 644.5L90.4 648.1Z" fill="#f3f900"/>
<path d="M108.9 649.8L115 646.2L108.8 643.6L102.7 647.1Z" fill="#f7f400"/>
<path d="M121.2 648.8L127.3 645.4L121.1 642.8L115 646.2Z" fill="#faee00"/>
<path d="M133.5 648L139.7 644.6L133.5 642.1L127.3 645.4Z" fill="#fdea00"/>
<path d="M145.9 647.3L152 644L145.8 641.4L139.7 644.6Z" fill="#ffe600"/>
<path d="M158.2 646.7L164.4 643.5L158.2 640.9L152 644Z" fill="#ffe000"/>
<path d="M170.6 646.2L176.8 643.2L170.5 640.5L164.4 643.5Z" fill="#ffdc00"/>
<path d="M183 645.8L189.1 642.9L182.9 640.3L176.8 643.2Z" fill="#ffd900"/>
<path d="M195.3 645.6L201.5 642.8L195.3 640.2L189.1 642.9Z" fill="#ffd800"/>
<path d="M207.7 645.6L213.9 642.9L207.7 640.2L201.5 642.8Z" fill="#ffd800"/>
<path d="M220.1 645.7L226.3 643.1L220.1 640.4L213.9 642.9Z" fill="#ffda00"/>
<path d="M232.5 645.9L238.7 643.5L232.5 640.7L226.3 643.1Z" fill="#ffde00"/>
<path d="M244.8 646.3L251 644L244.9 641.2L238.7 643.5Z" fill="#ffe400"/>
<path d="M257.2 646.9L263.4 644.7L257.2 641.9L251 644Z" fill="#fde900"/>
<path d="M269.6 647.7L275.7 645.6L269.6 642.7L263.4 644.7Z" fill="#faee00"/>
<path d="M102.8 653.5L108.9 649.8L102.7 647.1L96.6 650.8Z" fill="#f1fd00"/>
<path d="M164.4 649.4L170.6 646.2L164.4 643.5L158.2 646.7Z" fill="#fee700"/>
<path d="M201.5 648.4L207.7 645.6L201.5 642.8L195.3 645.6Z" fill="#ffe100"/>
<path d="M263.4 649.9L269.6 647.7L263.4 644.7L257.2 646.9Z" fill="#f9ef00"/>
<path d="M90.6 654.6L96.6 650.8L90.4 648.1L84.4 651.9Z" fill="#e3ff00"/>
<path d="M115.1 652.5L121.2 648.8L115 646.2L108.9 649.8Z" fill="#f4f800"/>
<path d="M127.4 651.5L133.5 648L127.3 645.4L121.2 648.8Z" fill="#f8f200"/>
<path d="M139.7 650.7L145.9 647.3L139.7 644.6L133.5 648Z" fill="#faee00"/>
<path d="M152.1 650L158.2 646.7L152 644L145.9 647.3Z" fill="#fcea00"/>
<path d="M176.8 648.9L183 645.8L176.8 643.2L170.6 646.2Z" fill="#ffe400"/>
<path d="M189.1 648.6L195.3 645.6L189.1 642.9L183 645.8Z" fill="#ffe200"/>
<path d="M213.9 648.4L220.1 645.7L213.9 642.9L207.7 645.6Z" fill="#ffe200"/>
<path d="M226.3 648.5L232.5 645.9L226.3 643.1L220.1 645.7Z" fill="#ffe500"/>
<path d="M238.6 648.8L244.8 646.3L238.7 643.5L232.5 645.9Z" fill="#fee800"/>
<path d="M251 649.3L257.2 646.9L251 644L244.8 646.3Z" fill="#fceb00"/>
<path d="M275.7 650.8L281.9 648.7L275.7 645.6L269.6 647.7Z" fill="#f6f500"/>
<path d="M96.8 657.4L102.8 653.5L96.6 650.8L90.6 654.6Z" fill="#d8ff00"/>
<path d="M269.5 653L275.7 650.8L269.6 647.7L263.4 649.9Z" fill="#f5f600"/>
<path d="M84.5 658.7L90.6 654.6L84.4 651.9L78.3 655.9Z" fill="#c5ff00"/>
<path d="M109 656.3L115.1 652.5L108.9 649.8L102.8 653.5Z" fill="#e9ff00"/>
<path d="M121.3 655.2L127.4 651.5L121.2 648.8L115.1 652.5Z" fill="#f2fc00"/>
<path d="M133.6 654.3L139.7 650.7L133.5 648L127.4 651.5Z" fill="#f5f700"/>
<path d="M145.9 653.4L152.1 650L145.9 647.3L139.7 650.7Z" fill="#f8f200"/>
<path d="M158.3 652.7L164.4 649.4L158.2 646.7L152.1 650Z" fill="#faef00"/>
<path d="M170.6 652.1L176.8 648.9L170.6 646.2L164.4 649.4Z" fill="#fbec00"/>
<path d="M183 651.7L189.1 648.6L183 645.8L176.8 648.9Z" fill="#fdea00"/>
<path d="M195.3 651.4L201.5 648.4L195.3 645.6L189.1 648.6Z" fill="#fde900"/>
<path d="M207.7 651.2L213.9 648.4L207.7 645.6L201.5 648.4Z" fill="#fde900"/>
<path d="M220.1 651.3L226.3 648.5L220.1 645.7L213.9 648.4Z" fill="#fdea00"/>
<path d="M232.4 651.4L238.6 648.8L232.5 645.9L226.3 648.5Z" fill="#fceb00"/>
<path d="M244.8 651.8L251 649.3L244.8 646.3L238.6 648.8Z" fill="#faee00"/>
<path d="M257.2 652.3L263.4 649.9L257.2 646.9L251 649.3Z" fill="#f8f200"/>
<path d="M281.8 653.9L288 651.8L281.9 648.7L275.7 650.8Z" fill="#f2fc00"/>
<path d="M78.5 662.8L84.5 658.7L78.3 655.9L72.3 660Z" fill="#a6ff00"/>
<path d="M90.7 661.5L96.8 657.4L90.6 654.6L84.5 658.7Z" fill="#baff00"/>
<path d="M103 660.2L109 656.3L102.8 653.5L96.8 657.4Z" fill="#cdff00"/>
<path d="M115.2 659.1L121.3 655.2L115.1 652.5L109 656.3Z" fill="#deff00"/>
<path d="M127.5 658L133.6 654.3L127.4 651.5L121.3 655.2Z" fill="#edff00"/>
<path d="M139.8 657L145.9 653.4L139.7 650.7L133.6 654.3Z" fill="#f2fb00"/>
<path d="M152.1 656.2L158.3 652.7L152.1 650L145.9 653.4Z" fill="#f5f700"/>
<path d="M164.5 655.5L170.6 652.1L164.4 649.4L158.3 652.7Z" fill="#f7f400"/>
<path d="M176.8 655L183 651.7L176.8 648.9L170.6 652.1Z" fill="#f8f100"/>
<path d="M189.2 654.5L195.3 651.4L189.1 648.6L183 651.7Z" fill="#f9ef00"/>
<path d="M201.5 654.3L207.7 651.2L201.5 648.4L195.3 651.4Z" fill="#faee00"/>
<path d="M213.9 654.1L220.1 651.3L213.9 648.4L207.7 651.2Z" fill="#faef00"/>
<path d="M226.3 654.2L232.4 651.4L226.3 648.5L220.1 651.3Z" fill="#f9f000"/>
<path d="M238.6 654.4L244.8 651.8L238.6 648.8L232.4 651.4Z" fill="#f8f200"/>
<path d="M251 654.8L257.2 652.3L251 649.3L244.8 651.8Z" fill="#f6f500"/>
<path d="M263.3 655.4L269.5 653L263.4 649.9L257.2 652.3Z" fill="#f4f900"/>
<path d="M275.6 656.2L281.8 653.9L275.7 650.8L269.5 653Z" fill="#f1fe00"/>
<path d="M288 657.1L294.1 655L288 651.8L281.8 653.9Z" fill="#e2ff00"/>
<path d="M72.5 667.2L78.5 662.8L72.3 660L66.3 664.3Z" fill="#85ff00"/>
<path d="M84.7 665.7L90.7 661.5L84.5 658.7L78.5 662.8Z" fill="#9bff00"/>
<path d="M96.9 664.3L103 660.2L96.8 657.4L90.7 661.5Z" fill="#afff00"/>
<path d="M109.1 663.1L115.2 659.1L109 656.3L103 660.2Z" fill="#c1ff00"/>
<path d="M121.4 661.9L127.5 658L121.3 655.2L115.2 659.1Z" fill="#d2ff00"/>
<path d="M133.7 660.8L139.8 657L133.6 654.3L127.5 658Z" fill="#e1ff00"/>
<path d="M146 659.9L152.1 656.2L145.9 653.4L139.8 657Z" fill="#eeff00"/>
<path d="M158.3 659.1L164.5 655.5L158.3 652.7L152.1 656.2Z" fill="#f2fc00"/>
<path d="M183 657.8L189.2 654.5L183 651.7L176.8 655Z" fill="#f5f600"/>
<path d="M207.7 657.2L213.9 654.1L207.7 651.2L201.5 654.3Z" fill="#f6f400"/>
<path d="M220.1 657.1L226.3 654.2L220.1 651.3L213.9 654.1Z" fill="#f6f500"/>
<path d="M232.4 657.2L238.6 654.4L232.4 651.4L226.3 654.2Z" fill="#f5f600"/>
<path d="M244.8 657.5L251 654.8L244.8 651.8L238.6 654.4Z" fill="#f4f800"/>
<path d="M257.1 657.9L263.3 655.4L257.2 652.3L251 654.8Z" fill="#f2fc00"/>
<path d="M269.5 658.6L275.6 656.2L269.5 653L263.3 655.4Z" fill="#edff00"/>
<path d="M281.8 659.4L288 657.1L281.8 653.9L275.6 656.2Z" fill="#dfff00"/>
<path d="M294.1 660.5L300.3 658.3L294.1 655L288 657.1Z" fill="#cdff00"/>
<path d="M170.6 658.4L176.8 655L170.6 652.1L164.5 655.5Z" fill="#f4f900"/>
<path d="M195.3 657.4L201.5 654.3L195.3 651.4L189.2 654.5Z" fill="#f6f500"/>
<path d="M66.5 671.7L72.5 667.2L66.3 664.3L60.3 668.7Z" fill="#69ff00"/>
<path d="M78.7 670.1L84.7 665.7L78.5 662.8L72.5 667.2Z" fill="#79ff00"/>
<path d="M90.9 668.6L96.9 664.3L90.7 661.5L84.7 665.7Z" fill="#8fff00"/>
<path d="M103.1 667.2L109.1 663.1L103 660.2L96.9 664.3Z" fill="#a3ff00"/>
<path d="M115.3 666L121.4 661.9L115.2 659.1L109.1 663.1Z" fill="#b5ff00"/>
<path d="M127.6 664.8L133.7 660.8L127.5 658L121.4 661.9Z" fill="#c6ff00"/>
<path d="M139.9 663.7L146 659.9L139.8 657L133.7 660.8Z" fill="#d4ff00"/>
<path d="M152.2 662.8L158.3 659.1L152.1 656.2L146 659.9Z" fill="#e1ff00"/>
<path d="M164.5 662L170.6 658.4L164.5 655.5L158.3 659.1Z" fill="#ebff00"/>
<path d="M176.8 661.3L183 657.8L176.8 655L170.6 658.4Z" fill="#f1fe00"/>
<path d="M189.2 660.8L195.3 657.4L189.2 654.5L183 657.8Z" fill="#f2fc00"/>
<path d="M201.5 660.4L207.7 657.2L201.5 654.3L195.3 657.4Z" fill="#f3fa00"/>
<path d="M213.9 660.2L220.1 657.1L213.9 654.1L207.7 657.2Z" fill="#f3fa00"/>
<path d="M226.2 660.2L232.4 657.2L226.3 654.2L220.1 657.1Z" fill="#f3fb00"/>
<path d="M238.6 660.3L244.8 657.5L238.6 654.4L232.4 657.2Z" fill="#f2fc00"/>
<path d="M250.9 660.6L257.1 657.9L251 654.8L244.8 657.5Z" fill="#f0ff00"/>
<path d="M263.3 661.1L269.5 658.6L263.3 655.4L257.1 657.9Z" fill="#e6ff00"/>
<path d="M275.6 661.8L281.8 659.4L275.6 656.2L269.5 658.6Z" fill="#d9ff00"/>
<path d="M287.9 662.7L294.1 660.5L288 657.1L281.8 659.4Z" fill="#c9ff00"/>
<path d="M300.2 663.9L306.4 661.7L300.3 658.3L294.1 660.5Z" fill="#b7ff00"/>
<path d="M72.7 674.7L78.7 670.1L72.5 667.2L66.5 671.7Z" fill="#61ff00"/>
<path d="M133.8 667.7L139.9 663.7L133.7 660.8L127.6 664.8Z" fill="#b9ff00"/>
<path d="M232.4 663.3L238.6 660.3L232.4 657.2L226.2 660.2Z" fill="#eaff00"/>
<path d="M294 666.1L300.2 663.9L294.1 660.5L287.9 662.7Z" fill="#b3ff00"/>
<path d="M84.9 673.1L90.9 668.6L84.7 665.7L78.7 670.1Z" fill="#71ff00"/>
<path d="M97 671.6L103.1 667.2L96.9 664.3L90.9 668.6Z" fill="#83ff00"/>
<path d="M109.3 670.2L115.3 666L109.1 663.1L103.1 667.2Z" fill="#97ff00"/>
<path d="M121.5 668.9L127.6 664.8L121.4 661.9L115.3 666Z" fill="#a9ff00"/>
<path d="M146.1 666.7L152.2 662.8L146 659.9L139.9 663.7Z" fill="#c7ff00"/>
<path d="M158.4 665.7L164.5 662L158.3 659.1L152.2 662.8Z" fill="#d3ff00"/>
<path d="M170.7 664.9L176.8 661.3L170.6 658.4L164.5 662Z" fill="#ddff00"/>
<path d="M183 664.3L189.2 660.8L183 657.8L176.8 661.3Z" fill="#e4ff00"/>
<path d="M195.3 663.8L201.5 660.4L195.3 657.4L189.2 660.8Z" fill="#e9ff00"/>
<path d="M207.7 663.4L213.9 660.2L207.7 657.2L201.5 660.4Z" fill="#ecff00"/>
<path d="M220 663.3L226.2 660.2L220.1 657.1L213.9 660.2Z" fill="#ecff00"/>
<path d="M244.7 663.5L250.9 660.6L244.8 657.5L238.6 660.3Z" fill="#e5ff00"/>
<path d="M257.1 663.8L263.3 661.1L257.1 657.9L250.9 660.6Z" fill="#ddff00"/>
<path d="M269.4 664.4L275.6 661.8L269.5 658.6L263.3 661.1Z" fill="#d2ff00"/>
<path d="M281.7 665.2L287.9 662.7L281.8 659.4L275.6 661.8Z" fill="#c4ff00"/>
<path d="M78.9 677.8L84.9 673.1L78.7 670.1L72.7 674.7Z" fill="#58ff00"/>
<path d="M103.2 674.6L109.3 670.2L103.1 667.2L97 671.6Z" fill="#77ff00"/>
<path d="M127.7 671.9L133.8 667.7L127.6 664.8L121.5 668.9Z" fill="#9cff00"/>
<path d="M139.9 670.7L146.1 666.7L139.9 663.7L133.8 667.7Z" fill="#acff00"/>
<path d="M164.5 668.7L170.7 664.9L164.5 662L158.4 665.7Z" fill="#c5ff00"/>
<path d="M201.5 666.8L207.7 663.4L201.5 660.4L195.3 663.8Z" fill="#daff00"/>
<path d="M226.2 666.4L232.4 663.3L226.2 660.2L220 663.3Z" fill="#dbff00"/>
<path d="M238.5 666.5L244.7 663.5L238.6 660.3L232.4 663.3Z" fill="#d8ff00"/>
<path d="M263.2 667.1L269.4 664.4L263.3 661.1L257.1 663.8Z" fill="#c9ff00"/>
<path d="M287.8 668.6L294 666.1L287.9 662.7L281.7 665.2Z" fill="#aeff00"/>
<path d="M91 676.1L97 671.6L90.9 668.6L84.9 673.1Z" fill="#68ff00"/>
<path d="M115.4 673.2L121.5 668.9L115.3 666L109.3 670.2Z" fill="#8aff00"/>
<path d="M152.2 669.6L158.4 665.7L152.2 662.8L146.1 666.7Z" fill="#b9ff00"/>
<path d="M176.8 667.9L183 664.3L176.8 661.3L170.7 664.9Z" fill="#ceff00"/>
<path d="M189.2 667.3L195.3 663.8L189.2 660.8L183 664.3Z" fill="#d5ff00"/>
<path d="M213.8 666.5L220 663.3L213.9 660.2L207.7 663.4Z" fill="#dcff00"/>
<path d="M250.9 666.7L257.1 663.8L250.9 660.6L244.7 663.5Z" fill="#d2ff00"/>
<path d="M275.5 667.8L281.7 665.2L275.6 661.8L269.4 664.4Z" fill="#bdff00"/>
<path d="M121.6 676.2L127.7 671.9L121.5 668.9L115.4 673.2Z" fill="#7dff00"/>
<path d="M158.4 672.7L164.5 668.7L158.4 665.7L152.2 669.6Z" fill="#abff00"/>
<path d="M207.7 670L213.8 666.5L207.7 663.4L201.5 666.8Z" fill="#c9ff00"/>
<path d="M244.7 669.7L250.9 666.7L244.7 663.5L238.5 666.5Z" fill="#c5ff00"/>
<path d="M85 680.8L91 676.1L84.9 673.1L78.9 677.8Z" fill="#50ff00"/>
<path d="M97.2 679.2L103.2 674.6L97 671.6L91 676.1Z" fill="#60ff00"/>
<path d="M109.4 677.7L115.4 673.2L109.3 670.2L103.2 674.6Z" fill="#6eff00"/>
<path d="M133.8 674.9L139.9 670.7L133.8 667.7L127.7 671.9Z" fill="#8fff00"/>
<path d="M146.1 673.7L152.2 669.6L146.1 666.7L139.9 670.7Z" fill="#9eff00"/>
<path d="M170.7 671.8L176.8 667.9L170.7 664.9L164.5 668.7Z" fill="#b6ff00"/>
<path d="M183 671L189.2 667.3L183 664.3L176.8 667.9Z" fill="#bfff00"/>
<path d="M195.3 670.4L201.5 666.8L195.3 663.8L189.2 667.3Z" fill="#c5ff00"/>
<path d="M220 669.7L226.2 666.4L220 663.3L213.8 666.5Z" fill="#cbff00"/>
<path d="M232.3 669.6L238.5 666.5L232.4 663.3L226.2 666.4Z" fill="#c9ff00"/>
<path d="M257 670L263.2 667.1L257.1 663.8L250.9 666.7Z" fill="#beff00"/>
<path d="M269.3 670.5L275.5 667.8L269.4 664.4L263.2 667.1Z" fill="#b4ff00"/>
<path d="M281.6 671.2L287.8 668.6L281.7 665.2L275.5 667.8Z" fill="#a8ff00"/>
<path d="M91.2 684L97.2 679.2L91 676.1L85 680.8Z" fill="#47ff00"/>
<path d="M115.5 680.8L121.6 676.2L115.4 673.2L109.4 677.7Z" fill="#65ff00"/>
<path d="M127.8 679.3L133.8 674.9L127.7 671.9L121.6 676.2Z" fill="#72ff00"/>
<path d="M152.3 676.8L158.4 672.7L152.2 669.6L146.1 673.7Z" fill="#90ff00"/>
<path d="M164.6 675.8L170.7 671.8L164.5 668.7L158.4 672.7Z" fill="#9dff00"/>
<path d="M176.9 674.9L183 671L176.8 667.9L170.7 671.8Z" fill="#a7ff00"/>
<path d="M189.2 674.2L195.3 670.4L189.2 667.3L183 671Z" fill="#afff00"/>
<path d="M201.5 673.6L207.7 670L201.5 666.8L195.3 670.4Z" fill="#b5ff00"/>
<path d="M213.8 673.2L220 669.7L213.8 666.5L207.7 670Z" fill="#b8ff00"/>
<path d="M238.5 672.9L244.7 669.7L238.5 666.5L232.3 669.6Z" fill="#b7ff00"/>
<path d="M250.8 673L257 670L250.9 666.7L244.7 669.7Z" fill="#b2ff00"/>
<path d="M275.4 673.9L281.6 671.2L275.5 667.8L269.3 670.5Z" fill="#9fff00"/>
<path d="M103.3 682.3L109.4 677.7L103.2 674.6L97.2 679.2Z" fill="#57ff00"/>
<path d="M140 678L146.1 673.7L139.9 670.7L133.8 674.9Z" fill="#81ff00"/>
<path d="M226.1 672.9L232.3 669.6L226.2 666.4L220 669.7Z" fill="#b9ff00"/>
<path d="M263.1 673.4L269.3 670.5L263.2 667.1L257 670Z" fill="#aaff00"/>
<path d="M97.3 687.1L103.3 682.3L97.2 679.2L91.2 684Z" fill="#3eff00"/>
<path d="M109.5 685.5L115.5 680.8L109.4 677.7L103.3 682.3Z" fill="#4eff00"/>
<path d="M121.7 683.9L127.8 679.3L121.6 676.2L115.5 680.8Z" fill="#5cff00"/>
<path d="M133.9 682.5L140 678L133.8 674.9L127.8 679.3Z" fill="#69ff00"/>
<path d="M146.2 681.1L152.3 676.8L146.1 673.7L140 678Z" fill="#74ff00"/>
<path d="M158.4 680L164.6 675.8L158.4 672.7L152.3 676.8Z" fill="#81ff00"/>
<path d="M170.7 678.9L176.9 674.9L170.7 671.8L164.6 675.8Z" fill="#8eff00"/>
<path d="M183 678.1L189.2 674.2L183 671L176.9 674.9Z" fill="#98ff00"/>
<path d="M195.3 677.3L201.5 673.6L195.3 670.4L189.2 674.2Z" fill="#9fff00"/>
<path d="M207.6 676.8L213.8 673.2L207.7 670L201.5 673.6Z" fill="#a4ff00"/>
<path d="M220 676.4L226.1 672.9L220 669.7L213.8 673.2Z" fill="#a7ff00"/>
<path d="M232.3 676.2L238.5 672.9L232.3 669.6L226.1 672.9Z" fill="#a6ff00"/>
<path d="M244.6 676.2L250.8 673L244.7 669.7L238.5 672.9Z" fill="#a3ff00"/>
<path d="M256.9 676.5L263.1 673.4L257 670L250.8 673Z" fill="#9eff00"/>
<path d="M269.2 676.9L275.4 673.9L269.3 670.5L263.1 673.4Z" fill="#95ff00"/>
<path d="M103.5 690.3L109.5 685.5L103.3 682.3L97.3 687.1Z" fill="#35ff00"/>
<path d="M263 679.9L269.2 676.9L263.1 673.4L256.9 676.5Z" fill="#89ff00"/>
<path d="M115.6 688.6L121.7 683.9L115.5 680.8L109.5 685.5Z" fill="#44ff00"/>
<path d="M127.8 687.1L133.9 682.5L127.8 679.3L121.7 683.9Z" fill="#52ff00"/>
<path d="M140.1 685.6L146.2 681.1L140 678L133.9 682.5Z" fill="#5fff00"/>
<path d="M152.3 684.3L158.4 680L152.3 676.8L146.2 681.1Z" fill="#6aff00"/>
<path d="M164.6 683.2L170.7 678.9L164.6 675.8L158.4 680Z" fill="#74ff00"/>
<path d="M176.9 682.1L183 678.1L176.9 674.9L170.7 678.9Z" fill="#7eff00"/>
<path d="M189.2 681.3L195.3 677.3L189.2 674.2L183 678.1Z" fill="#87ff00"/>
<path d="M201.5 680.6L207.6 676.8L201.5 673.6L195.3 677.3Z" fill="#8eff00"/>
<path d="M213.8 680.1L220 676.4L213.8 673.2L207.6 676.8Z" fill="#93ff00"/>
<path d="M226.1 679.8L232.3 676.2L226.1 672.9L220 676.4Z" fill="#94ff00"/>
<path d="M238.4 679.6L244.6 676.2L238.5 672.9L232.3 676.2Z" fill="#93ff00"/>
<path d="M250.7 679.7L256.9 676.5L250.8 673L244.6 676.2Z" fill="#90ff00"/>
<path d="M109.6 693.6L115.6 688.6L109.5 685.5L103.5 690.3Z" fill="#2cff00"/>
<path d="M134 690.3L140.1 685.6L133.9 682.5L127.8 687.1Z" fill="#49ff00"/>
<path d="M158.5 687.5L164.6 683.2L158.4 680L152.3 684.3Z" fill="#60ff00"/>
<path d="M170.7 686.4L176.9 682.1L170.7 678.9L164.6 683.2Z" fill="#69ff00"/>
<path d="M183 685.4L189.2 681.3L183 678.1L176.9 682.1Z" fill="#71ff00"/>
<path d="M195.3 684.6L201.5 680.6L195.3 677.3L189.2 681.3Z" fill="#77ff00"/>
<path d="M207.6 683.9L213.8 680.1L207.6 676.8L201.5 680.6Z" fill="#7dff00"/>
<path d="M232.2 683.1L238.4 679.6L232.3 676.2L226.1 679.8Z" fill="#82ff00"/>
<path d="M256.8 683.2L263 679.9L256.9 676.5L250.7 679.7Z" fill="#7bff00"/>
<path d="M121.8 691.9L127.8 687.1L121.7 683.9L115.6 688.6Z" fill="#3bff00"/>
<path d="M146.2 688.8L152.3 684.3L146.2 681.1L140.1 685.6Z" fill="#55ff00"/>
<path d="M219.9 683.4L226.1 679.8L220 676.4L213.8 680.1Z" fill="#81ff00"/>
<path d="M244.5 683.1L250.7 679.7L244.6 676.2L238.4 679.6Z" fill="#80ff00"/>
<path d="M176.9 689.7L183 685.4L176.9 682.1L170.7 686.4Z" fill="#5eff00"/>
<path d="M189.1 688.7L195.3 684.6L189.2 681.3L183 685.4Z" fill="#66ff00"/>
<path d="M115.8 696.9L121.8 691.9L115.6 688.6L109.6 693.6Z" fill="#22ff00"/>
<path d="M127.9 695.1L134 690.3L127.8 687.1L121.8 691.9Z" fill="#31ff00"/>
<path d="M140.1 693.6L146.2 688.8L140.1 685.6L134 690.3Z" fill="#3fff00"/>
<path d="M152.4 692.1L158.5 687.5L152.3 684.3L146.2 688.8Z" fill="#4bff00"/>
<path d="M164.6 690.8L170.7 686.4L164.6 683.2L158.5 687.5Z" fill="#55ff00"/>
<path d="M201.4 687.9L207.6 683.9L201.5 680.6L195.3 684.6Z" fill="#6bff00"/>
<path d="M213.7 687.3L219.9 683.4L213.8 680.1L207.6 683.9Z" fill="#6fff00"/>
<path d="M226 686.8L232.2 683.1L226.1 679.8L219.9 683.4Z" fill="#71ff00"/>
<path d="M238.3 686.6L244.5 683.1L238.4 679.6L232.2 683.1Z" fill="#71ff00"/>
<path d="M250.6 686.6L256.8 683.2L250.7 679.7L244.5 683.1Z" fill="#6fff00"/>
<path d="M121.9 700.2L127.9 695.1L121.8 691.9L115.8 696.9Z" fill="#18ff00"/>
<path d="M146.3 696.9L152.4 692.1L146.2 688.8L140.1 693.6Z" fill="#34ff00"/>
<path d="M158.5 695.4L164.6 690.8L158.5 687.5L152.4 692.1Z" fill="#40ff00"/>
<path d="M170.7 694.1L176.9 689.7L170.7 686.4L164.6 690.8Z" fill="#4aff00"/>
<path d="M183 693L189.1 688.7L183 685.4L176.9 689.7Z" fill="#53ff00"/>
<path d="M195.3 692.1L201.4 687.9L195.3 684.6L189.1 688.7Z" fill="#5aff00"/>
<path d="M207.6 691.3L213.7 687.3L207.6 683.9L201.4 687.9Z" fill="#5fff00"/>
<path d="M219.8 690.7L226 686.8L219.9 683.4L213.7 687.3Z" fill="#63ff00"/>
<path d="M244.4 690.1L250.6 686.6L244.5 683.1L238.3 686.6Z" fill="#64ff00"/>
<path d="M134.1 698.4L140.1 693.6L134 690.3L127.9 695.1Z" fill="#27ff00"/>
<path d="M232.1 690.3L238.3 686.6L232.2 683.1L226 686.8Z" fill="#64ff00"/>
<path d="M128 703.5L134.1 698.4L127.9 695.1L121.9 700.2Z" fill="#0eff00"/>
<path d="M140.2 701.8L146.3 696.9L140.1 693.6L134.1 698.4Z" fill="#1dff00"/>
<path d="M152.4 700.2L158.5 695.4L152.4 692.1L146.3 696.9Z" fill="#2aff00"/>
<path d="M164.6 698.8L170.7 694.1L164.6 690.8L158.5 695.4Z" fill="#35ff00"/>
<path d="M176.9 697.5L183 693L176.9 689.7L170.7 694.1Z" fill="#3fff00"/>
<path d="M189.1 696.4L195.3 692.1L189.1 688.7L183 693Z" fill="#47ff00"/>
<path d="M201.4 695.5L207.6 691.3L201.4 687.9L195.3 692.1Z" fill="#4eff00"/>
<path d="M213.7 694.8L219.8 690.7L213.7 687.3L207.6 691.3Z" fill="#53ff00"/>
<path d="M226 694.2L232.1 690.3L226 686.8L219.8 690.7Z" fill="#56ff00"/>
<path d="M238.2 693.9L244.4 690.1L238.3 686.6L232.1 690.3Z" fill="#56ff00"/>
<path d="M134.1 706.9L140.2 701.8L134.1 698.4L128 703.5Z" fill="#09ff08"/>
<path d="M146.3 705.2L152.4 700.2L146.3 696.9L140.2 701.8Z" fill="#12ff00"/>
<path d="M158.5 703.6L164.6 698.8L158.5 695.4L152.4 700.2Z" fill="#1fff00"/>
<path d="M170.7 702.2L176.9 697.5L170.7 694.1L164.6 698.8Z" fill="#2aff00"/>
<path d="M183 701L189.1 696.4L183 693L176.9 697.5Z" fill="#34ff00"/>
<path d="M195.2 699.9L201.4 695.5L195.3 692.1L189.1 696.4Z" fill="#3cff00"/>
<path d="M207.5 699L213.7 694.8L207.6 691.3L201.4 695.5Z" fill="#42ff00"/>
<path d="M219.8 698.3L226 694.2L219.8 690.7L213.7 694.8Z" fill="#46ff00"/>
<path d="M232.1 697.8L238.2 693.9L232.1 690.3L226 694.2Z" fill="#48ff00"/>
<path d="M140.2 710.4L146.3 705.2L140.2 701.8L134.1 706.9Z" fill="#08ff14"/>
<path d="M152.4 708.6L158.5 703.6L152.4 700.2L146.3 705.2Z" fill="#0aff03"/>
<path d="M164.6 707.1L170.7 702.2L164.6 698.8L158.5 703.6Z" fill="#14ff00"/>
<path d="M176.9 705.7L183 701L176.9 697.5L170.7 702.2Z" fill="#1fff00"/>
<path d="M189.1 704.4L195.2 699.9L189.1 696.4L183 701Z" fill="#28ff00"/>
<path d="M201.3 703.4L207.5 699L201.4 695.5L195.2 699.9Z" fill="#2fff00"/>
<path d="M213.6 702.5L219.8 698.3L213.7 694.8L207.5 699Z" fill="#35ff00"/>
<path d="M225.9 701.9L232.1 697.8L226 694.2L219.8 698.3Z" fill="#39ff00"/>
<path d="M146.4 713.8L152.4 708.6L146.3 705.2L140.2 710.4Z" fill="#07ff21"/>
<path d="M158.5 712.1L164.6 707.1L158.5 703.6L152.4 708.6Z" fill="#08ff10"/>
<path d="M207.5 707L213.6 702.5L207.5 699L201.3 703.4Z" fill="#23ff00"/>
<path d="M219.7 706.1L225.9 701.9L219.8 698.3L213.6 702.5Z" fill="#28ff00"/>
<path d="M170.7 710.6L176.9 705.7L170.7 702.2L164.6 707.1Z" fill="#0aff02"/>
<path d="M183 709.2L189.1 704.4L183 701L176.9 705.7Z" fill="#13ff00"/>
<path d="M195.2 708L201.3 703.4L195.2 699.9L189.1 704.4Z" fill="#1cff00"/>
<path d="M152.5 717.4L158.5 712.1L152.4 708.6L146.4 713.8Z" fill="#05ff2e"/>
<path d="M213.5 710.6L219.7 706.1L213.6 702.5L207.5 707Z" fill="#16ff00"/>
<path d="M164.6 715.7L170.7 710.6L164.6 707.1L158.5 712.1Z" fill="#07ff1e"/>
<path d="M176.8 714.1L183 709.2L176.9 705.7L170.7 710.6Z" fill="#08ff10"/>
<path d="M189.1 712.7L195.2 708L189.1 704.4L183 709.2Z" fill="#0aff03"/>
<path d="M201.3 711.6L207.5 707L201.3 703.4L195.2 708Z" fill="#0fff00"/>
<path d="M158.6 720.9L164.6 715.7L158.5 712.1L152.5 717.4Z" fill="#04ff3c"/>
<path d="M170.7 719.2L176.8 714.1L170.7 710.6L164.6 715.7Z" fill="#06ff2c"/>
<path d="M182.9 717.7L189.1 712.7L183 709.2L176.8 714.1Z" fill="#07ff1e"/>
<path d="M195.2 716.4L201.3 711.6L195.2 708L189.1 712.7Z" fill="#08ff12"/>
<path d="M207.4 715.2L213.5 710.6L207.5 707L201.3 711.6Z" fill="#09ff09"/>
<path d="M176.8 722.8L182.9 717.7L176.8 714.1L170.7 719.2Z" fill="#04ff3a"/>
<path d="M189 721.3L195.2 716.4L189.1 712.7L182.9 717.7Z" fill="#06ff2d"/>
<path d="M164.6 724.5L170.7 719.2L164.6 715.7L158.6 720.9Z" fill="#03ff4a"/>
<path d="M201.2 720L207.4 715.2L201.3 711.6L195.2 716.4Z" fill="#07ff21"/>
<path d="M170.7 728.2L176.8 722.8L170.7 719.2L164.6 724.5Z" fill="#01ff57"/>
<path d="M182.9 726.5L189 721.3L182.9 717.7L176.8 722.8Z" fill="#03ff48"/>
<path d="M195.1 725L201.2 720L195.2 716.4L189 721.3Z" fill="#04ff3c"/>
<path d="M176.8 731.9L182.9 726.5L176.8 722.8L170.7 728.2Z" fill="#00ff66"/>
<path d="M189 730.2L195.1 725L189 721.3L182.9 726.5Z" fill="#01ff57"/>
<path d="M182.9 735.6L189 730.2L182.9 726.5L176.8 731.9Z" fill="#00ff79"/>
</g>
<circle cx="182.6" cy="639.1" r="2.45" fill="#ba0a0a" stroke="#5e0000" stroke-width=".7"/>
<circle cx="182.6" cy="646.3" r="2.45" fill="#ba0a0a" stroke="#5e0000" stroke-width=".7"/>
<circle cx="182.6" cy="648.5" r="2.45" fill="#ba0a0a" stroke="#5e0000" stroke-width=".7"/>
<circle cx="182.6" cy="652.9" r="2.45" fill="#ba0a0a" stroke="#5e0000" stroke-width=".7"/>
<path d="M64 745.3h0M62.9 721.5h0M61.7 697.6h0M60.6 673.7h0M59.4 649.9h0M58.3 626h0M182.6 836.6h0M212 823.1h0M241.4 809.6h0M270.7 796.1h0M300.1 782.6h0M182.6 836.6h0M163.1 827.6h0M143.7 818.6h0M124.2 809.6h0M104.7 800.6h0M85.3 791.6h0M65.8 782.6h0" stroke="#000" stroke-width="2.4" stroke-linecap="round"/>
<text class="t" text-anchor="end" transform="translate(59.5 743.7) scale(.86 1)">0</text>
<text class="t" text-anchor="end" transform="translate(58.4 719.9) scale(.86 1)">20</text>
<text class="t" text-anchor="end" transform="translate(57.2 696) scale(.86 1)">40</text>
<text class="t" text-anchor="end" transform="translate(56.1 672.1) scale(.86 1)">60</text>
<text class="t" text-anchor="end" transform="translate(54.9 648.3) scale(.86 1)">80</text>
<text class="t" text-anchor="end" transform="translate(53.8 624.4) scale(.86 1)">100</text>
<text class="t" transform="translate(186.8 845.9) scale(.86 1)">20</text>
<text class="t" transform="translate(216.2 832.4) scale(.86 1)">30</text>
<text class="t" transform="translate(245.6 818.9) scale(.86 1)">40</text>
<text class="t" transform="translate(274.9 805.4) scale(.86 1)">50</text>
<text class="t" transform="translate(304.3 791.9) scale(.86 1)">60</text>
<text class="t" text-anchor="end" transform="translate(178.4 845.9) scale(.86 1)">0.02</text>
<text class="t" text-anchor="end" transform="translate(158.9 836.9) scale(.86 1)">0.03</text>
<text class="t" text-anchor="end" transform="translate(139.5 827.9) scale(.86 1)">0.04</text>
<text class="t" text-anchor="end" transform="translate(120 818.9) scale(.86 1)">0.05</text>
<text class="t" text-anchor="end" transform="translate(100.5 809.9) scale(.86 1)">0.06</text>
<text class="t" text-anchor="end" transform="translate(81.1 800.9) scale(.86 1)">0.07</text>
<text class="t" text-anchor="end" transform="translate(61.6 791.9) scale(.86 1)">0.08</text>
<text class="b" x="33.4" y="826.6" text-anchor="start">D: adsorb</text>
<text class="b" x="33.4" y="842.9" text-anchor="start">material (g)</text>
<text class="b" x="277.5" y="841.1" text-anchor="middle">B: UV (M)</text>
<text class="b" text-anchor="middle" transform="translate(34.4 697.2) rotate(-90)">Decoloring</text>
<text class="h" x="7" y="601.8">(e)</text>
<rect x="348.2" y="575.6" width="334.6" height="278.2" fill="#fff" stroke="#333" stroke-width="1.7"/>
<path d="M419.1 777.8L531.8 832.3L644.9 778.3L531.8 736.4Z" fill="#636363" stroke="#444" stroke-width=".5"/>
<path d="M457.3 796.7C460.9 795.7 471.8 794.2 478.7 790.9C485.6 787.6 492.7 782.1 498.8 777.1C504.9 772.1 509.6 767.4 515.1 760.7C520.6 754 529 740.9 531.8 736.9" fill="none" stroke="#e8dc00" stroke-width="1.5"/>
<path d="M575.8 753.2Q569.6 784.2 565.8 815.5" fill="none" stroke="#a2e000" stroke-width="1.5"/>
<path d="M615.3 768.3L618 790.4" fill="none" stroke="#2ee02a" stroke-width="1.5"/>
<path d="M430.1 736.9L425.4 620.5M442.8 732.6L438.7 617.5M455.6 728.4L452 614.5M468.3 724.2L465.3 611.5M481 720L478.6 608.6M493.7 715.8L491.9 605.6M506.4 711.6L505.2 602.6M519.1 707.3L518.5 599.6M627.5 735.2L632.3 619.4M608.4 728.8L612.2 614.9M589.2 722.4L592.1 610.3M570.1 715.9L572 605.7M550.9 709.5L551.9 601.2M417.4 741.1L531.8 703.1L646.7 741.6M416.4 717.6L531.8 681.8L647.8 718.1M415.3 694L531.8 660.5L649 694.5M414.2 670.5L531.8 639.2L650.1 671M413.2 647L531.8 617.9L651.3 647.5" fill="none" stroke="#3a3a3a" stroke-width=".7"/>
<path d="M412.1 623.5L531.8 596.6L652.4 624M419.1 777.8L412.1 623.5M531.8 736.4L531.8 596.6M644.9 778.3L652.4 624" fill="none" stroke="#2a2a2a" stroke-width=".9"/>
<path d="M419.1 777.8L531.8 832.3L644.9 778.3" fill="none" stroke="#111" stroke-width="1"/>
<path d="M505.1 693.4L505.1 676" stroke="#3c3c3c" stroke-width="1.1"/>
<circle cx="505.1" cy="693.4" r="2.5" fill="#f9cccc" stroke="#7a3434" stroke-width=".55"/>
<g stroke="#000" stroke-opacity=".72" stroke-width=".48" stroke-linejoin="round">
<path d="M530.6 621.4L536.6 621L531.8 619L525.9 619.4Z" fill="#fcec00"/>
<path d="M535.4 623.5L541.3 623.1L536.6 621L530.6 621.4Z" fill="#f9f100"/>
<path d="M524.7 621.9L530.6 621.4L525.9 619.4L519.9 619.9Z" fill="#ffe500"/>
<path d="M540.2 625.6L546.1 625.2L541.3 623.1L535.4 623.5Z" fill="#f6f600"/>
<path d="M529.5 624L535.4 623.5L530.6 621.4L524.7 621.9Z" fill="#fceb00"/>
<path d="M518.8 622.5L524.7 621.9L519.9 619.9L514 620.4Z" fill="#ffdc00"/>
<path d="M545 627.8L550.9 627.3L546.1 625.2L540.2 625.6Z" fill="#f2fb00"/>
<path d="M534.3 626.2L540.2 625.6L535.4 623.5L529.5 624Z" fill="#f9f000"/>
<path d="M523.6 624.6L529.5 624L524.7 621.9L518.8 622.5Z" fill="#ffe500"/>
<path d="M512.8 623.2L518.8 622.5L514 620.4L508 621.1Z" fill="#ffd300"/>
<path d="M549.7 629.9L555.6 629.4L550.9 627.3L545 627.8Z" fill="#ecff00"/>
<path d="M539 628.3L545 627.8L540.2 625.6L534.3 626.2Z" fill="#f6f500"/>
<path d="M528.3 626.8L534.3 626.2L529.5 624L523.6 624.6Z" fill="#fcea00"/>
<path d="M517.6 625.3L523.6 624.6L518.8 622.5L512.8 623.2Z" fill="#ffdc00"/>
<path d="M506.9 624L512.8 623.2L508 621.1L502.1 621.9Z" fill="#ffcc00"/>
<path d="M554.5 632.2L560.4 631.6L555.6 629.4L549.7 629.9Z" fill="#ddff00"/>
<path d="M543.8 630.5L549.7 629.9L545 627.8L539 628.3Z" fill="#f3fb00"/>
<path d="M533.1 629L539 628.3L534.3 626.2L528.3 626.8Z" fill="#f9f000"/>
<path d="M522.4 627.5L528.3 626.8L523.6 624.6L517.6 625.3Z" fill="#ffe500"/>
<path d="M511.7 626.1L517.6 625.3L512.8 623.2L506.9 624Z" fill="#ffd500"/>
<path d="M559.2 634.4L565.1 633.9L560.4 631.6L554.5 632.2Z" fill="#ceff00"/>
<path d="M500.9 624.9L506.9 624L502.1 621.9L496.2 622.8Z" fill="#ffc500"/>
<path d="M548.6 632.8L554.5 632.2L549.7 629.9L543.8 630.5Z" fill="#edff00"/>
<path d="M537.9 631.2L543.8 630.5L539 628.3L533.1 629Z" fill="#f6f500"/>
<path d="M527.2 629.7L533.1 629L528.3 626.8L522.4 627.5Z" fill="#fceb00"/>
<path d="M516.5 628.3L522.4 627.5L517.6 625.3L511.7 626.1Z" fill="#ffde00"/>
<path d="M564 636.7L569.9 636.2L565.1 633.9L559.2 634.4Z" fill="#beff00"/>
<path d="M505.7 627L511.7 626.1L506.9 624L500.9 624.9Z" fill="#ffce00"/>
<path d="M553.3 635.1L559.2 634.4L554.5 632.2L548.6 632.8Z" fill="#ddff00"/>
<path d="M495 625.9L500.9 624.9L496.2 622.8L490.2 623.8Z" fill="#ffc000"/>
<path d="M542.6 633.5L548.6 632.8L543.8 630.5L537.9 631.2Z" fill="#f2fb00"/>
<path d="M531.9 631.9L537.9 631.2L533.1 629L527.2 629.7Z" fill="#f9f000"/>
<path d="M521.2 630.5L527.2 629.7L522.4 627.5L516.5 628.3Z" fill="#ffe700"/>
<path d="M568.7 639.1L574.6 638.5L569.9 636.2L564 636.7Z" fill="#aeff00"/>
<path d="M510.5 629.2L516.5 628.3L511.7 626.1L505.7 627Z" fill="#ffd700"/>
<path d="M558.1 637.4L564 636.7L559.2 634.4L553.3 635.1Z" fill="#cdff00"/>
<path d="M499.8 628L505.7 627L500.9 624.9L495 625.9Z" fill="#ffc900"/>
<path d="M547.4 635.7L553.3 635.1L548.6 632.8L542.6 633.5Z" fill="#ecff00"/>
<path d="M489 627L495 625.9L490.2 623.8L484.3 624.9Z" fill="#ffbc00"/>
<path d="M536.7 634.2L542.6 633.5L537.9 631.2L531.9 631.9Z" fill="#f5f600"/>
<path d="M526 632.8L531.9 631.9L527.2 629.7L521.2 630.5Z" fill="#fbec00"/>
<path d="M573.5 641.5L579.4 640.8L574.6 638.5L568.7 639.1Z" fill="#9dff00"/>
<path d="M515.3 631.4L521.2 630.5L516.5 628.3L510.5 629.2Z" fill="#ffe100"/>
<path d="M562.8 639.7L568.7 639.1L564 636.7L558.1 637.4Z" fill="#bdff00"/>
<path d="M504.6 630.2L510.5 629.2L505.7 627L499.8 628Z" fill="#ffd200"/>
<path d="M552.2 638.1L558.1 637.4L553.3 635.1L547.4 635.7Z" fill="#dcff00"/>
<path d="M493.8 629.1L499.8 628L495 625.9L489 627Z" fill="#ffc500"/>
<path d="M541.5 636.5L547.4 635.7L542.6 633.5L536.7 634.2Z" fill="#f2fc00"/>
<path d="M530.8 635L536.7 634.2L531.9 631.9L526 632.8Z" fill="#f8f200"/>
<path d="M483.1 628.2L489 627L484.3 624.9L478.3 626.1Z" fill="#ffb900"/>
<path d="M578.2 643.9L584.1 643.2L579.4 640.8L573.5 641.5Z" fill="#8bff00"/>
<path d="M520.1 633.7L526 632.8L521.2 630.5L515.3 631.4Z" fill="#fee800"/>
<path d="M567.6 642.1L573.5 641.5L568.7 639.1L562.8 639.7Z" fill="#acff00"/>
<path d="M509.4 632.4L515.3 631.4L510.5 629.2L504.6 630.2Z" fill="#ffdb00"/>
<path d="M556.9 640.5L562.8 639.7L558.1 637.4L552.2 638.1Z" fill="#cbff00"/>
<path d="M498.6 631.3L504.6 630.2L499.8 628L493.8 629.1Z" fill="#ffcd00"/>
<path d="M546.2 638.9L552.2 638.1L547.4 635.7L541.5 636.5Z" fill="#e9ff00"/>
<path d="M535.5 637.3L541.5 636.5L536.7 634.2L530.8 635Z" fill="#f5f700"/>
<path d="M582.9 646.3L588.8 645.7L584.1 643.2L578.2 643.9Z" fill="#7aff00"/>
<path d="M487.9 630.3L493.8 629.1L489 627L483.1 628.2Z" fill="#ffc100"/>
<path d="M477.2 629.5L483.1 628.2L478.3 626.1L472.4 627.4Z" fill="#ffb700"/>
<path d="M524.8 635.9L530.8 635L526 632.8L520.1 633.7Z" fill="#faee00"/>
<path d="M572.3 644.6L578.2 643.9L573.5 641.5L567.6 642.1Z" fill="#9bff00"/>
<path d="M514.1 634.6L520.1 633.7L515.3 631.4L509.4 632.4Z" fill="#ffe400"/>
<path d="M561.6 642.9L567.6 642.1L562.8 639.7L556.9 640.5Z" fill="#bbff00"/>
<path d="M503.4 633.5L509.4 632.4L504.6 630.2L498.6 631.3Z" fill="#ffd600"/>
<path d="M551 641.2L556.9 640.5L552.2 638.1L546.2 638.9Z" fill="#d9ff00"/>
<path d="M492.7 632.5L498.6 631.3L493.8 629.1L487.9 630.3Z" fill="#ffca00"/>
<path d="M540.3 639.7L546.2 638.9L541.5 636.5L535.5 637.3Z" fill="#f1fd00"/>
<path d="M587.6 648.8L593.5 648.2L588.8 645.7L582.9 646.3Z" fill="#6dff00"/>
<path d="M577 647.1L582.9 646.3L578.2 643.9L572.3 644.6Z" fill="#89ff00"/>
<path d="M481.9 631.6L487.9 630.3L483.1 628.2L477.2 629.5Z" fill="#ffbf00"/>
<path d="M529.6 638.3L535.5 637.3L530.8 635L524.8 635.9Z" fill="#f7f300"/>
<path d="M471.2 630.9L477.2 629.5L472.4 627.4L466.4 628.8Z" fill="#ffb600"/>
<path d="M518.9 636.9L524.8 635.9L520.1 633.7L514.1 634.6Z" fill="#fcea00"/>
<path d="M566.4 645.3L572.3 644.6L567.6 642.1L561.6 642.9Z" fill="#a9ff00"/>
<path d="M508.2 635.7L514.1 634.6L509.4 632.4L503.4 633.5Z" fill="#ffdf00"/>
<path d="M555.7 643.7L561.6 642.9L556.9 640.5L551 641.2Z" fill="#c8ff00"/>
<path d="M497.5 634.7L503.4 633.5L498.6 631.3L492.7 632.5Z" fill="#ffd200"/>
<path d="M545.1 642.1L551 641.2L546.2 638.9L540.3 639.7Z" fill="#e5ff00"/>
<path d="M592.4 651.4L598.2 650.7L593.5 648.2L587.6 648.8Z" fill="#60ff00"/>
<path d="M486.7 633.7L492.7 632.5L487.9 630.3L481.9 631.6Z" fill="#ffc700"/>
<path d="M581.8 649.6L587.6 648.8L582.9 646.3L577 647.1Z" fill="#77ff00"/>
<path d="M534.4 640.6L540.3 639.7L535.5 637.3L529.6 638.3Z" fill="#f4f900"/>
<path d="M476 633L481.9 631.6L477.2 629.5L471.2 630.9Z" fill="#ffbe00"/>
<path d="M523.7 639.2L529.6 638.3L524.8 635.9L518.9 636.9Z" fill="#f9f000"/>
<path d="M571.1 647.8L577 647.1L572.3 644.6L566.4 645.3Z" fill="#98ff00"/>
<path d="M465.3 632.4L471.2 630.9L466.4 628.8L460.5 630.3Z" fill="#ffb700"/>
<path d="M513 638L518.9 636.9L514.1 634.6L508.2 635.7Z" fill="#fee700"/>
<path d="M560.5 646.1L566.4 645.3L561.6 642.9L555.7 643.7Z" fill="#b7ff00"/>
<path d="M502.2 636.9L508.2 635.7L503.4 633.5L497.5 634.7Z" fill="#ffdb00"/>
<path d="M549.8 644.5L555.7 643.7L551 641.2L545.1 642.1Z" fill="#d4ff00"/>
<path d="M597.1 654L602.9 653.3L598.2 650.7L592.4 651.4Z" fill="#53ff00"/>
<path d="M491.5 635.9L497.5 634.7L492.7 632.5L486.7 633.7Z" fill="#ffd000"/>
<path d="M539.1 643L545.1 642.1L540.3 639.7L534.4 640.6Z" fill="#f0ff00"/>
<path d="M586.5 652.1L592.4 651.4L587.6 648.8L581.8 649.6Z" fill="#6aff00"/>
<path d="M480.8 635.1L486.7 633.7L481.9 631.6L476 633Z" fill="#ffc600"/>
<path d="M528.4 641.6L534.4 640.6L529.6 638.3L523.7 639.2Z" fill="#f6f600"/>
<path d="M575.9 650.3L581.8 649.6L577 647.1L571.1 647.8Z" fill="#86ff00"/>
<path d="M470.1 634.5L476 633L471.2 630.9L465.3 632.4Z" fill="#ffbe00"/>
<path d="M517.7 640.3L523.7 639.2L518.9 636.9L513 638Z" fill="#fbed00"/>
<path d="M565.2 648.6L571.1 647.8L566.4 645.3L560.5 646.1Z" fill="#a5ff00"/>
<path d="M459.3 634L465.3 632.4L460.5 630.3L454.5 632Z" fill="#ffb800"/>
<path d="M507 639.1L513 638L508.2 635.7L502.2 636.9Z" fill="#ffe400"/>
<path d="M554.6 647L560.5 646.1L555.7 643.7L549.8 644.5Z" fill="#c4ff00"/>
<path d="M601.8 656.6L607.6 655.9L602.9 653.3L597.1 654Z" fill="#45ff00"/>
<path d="M496.3 638.1L502.2 636.9L497.5 634.7L491.5 635.9Z" fill="#ffd800"/>
<path d="M543.9 645.4L549.8 644.5L545.1 642.1L539.1 643Z" fill="#e0ff00"/>
<path d="M591.2 654.7L597.1 654L592.4 651.4L586.5 652.1Z" fill="#5dff00"/>
<path d="M485.6 637.3L491.5 635.9L486.7 633.7L480.8 635.1Z" fill="#ffce00"/>
<path d="M533.2 644L539.1 643L534.4 640.6L528.4 641.6Z" fill="#f2fb00"/>
<path d="M580.6 652.9L586.5 652.1L581.8 649.6L575.9 650.3Z" fill="#75ff00"/>
<path d="M474.9 636.6L480.8 635.1L476 633L470.1 634.5Z" fill="#ffc500"/>
<path d="M522.5 642.6L528.4 641.6L523.7 639.2L517.7 640.3Z" fill="#f8f200"/>
<path d="M570 651.1L575.9 650.3L571.1 647.8L565.2 648.6Z" fill="#94ff00"/>
<path d="M464.1 636.1L470.1 634.5L465.3 632.4L459.3 634Z" fill="#ffbf00"/>
<path d="M511.8 641.4L517.7 640.3L513 638L507 639.1Z" fill="#fcea00"/>
<path d="M559.3 649.5L565.2 648.6L560.5 646.1L554.6 647Z" fill="#b2ff00"/>
<path d="M606.5 659.3L612.3 658.5L607.6 655.9L601.8 656.6Z" fill="#37ff00"/>
<path d="M501.1 640.4L507 639.1L502.2 636.9L496.3 638.1Z" fill="#ffe100"/>
<path d="M595.9 657.4L601.8 656.6L597.1 654L591.2 654.7Z" fill="#50ff00"/>
<path d="M453.4 635.8L459.3 634L454.5 632L448.6 633.8Z" fill="#ffbb00"/>
<path d="M548.6 647.9L554.6 647L549.8 644.5L543.9 645.4Z" fill="#cfff00"/>
<path d="M490.4 639.5L496.3 638.1L491.5 635.9L485.6 637.3Z" fill="#ffd600"/>
<path d="M538 646.4L543.9 645.4L539.1 643L533.2 644Z" fill="#eaff00"/>
<path d="M585.3 655.5L591.2 654.7L586.5 652.1L580.6 652.9Z" fill="#68ff00"/>
<path d="M527.3 645L533.2 644L528.4 641.6L522.5 642.6Z" fill="#f4f800"/>
<path d="M479.6 638.7L485.6 637.3L480.8 635.1L474.9 636.6Z" fill="#ffcd00"/>
<path d="M574.7 653.7L580.6 652.9L575.9 650.3L570 651.1Z" fill="#81ff00"/>
<path d="M468.9 638.2L474.9 636.6L470.1 634.5L464.1 636.1Z" fill="#ffc600"/>
<path d="M516.6 643.8L522.5 642.6L517.7 640.3L511.8 641.4Z" fill="#f9f000"/>
<path d="M564 652L570 651.1L565.2 648.6L559.3 649.5Z" fill="#a1ff00"/>
<path d="M611.2 662L617 661.2L612.3 658.5L606.5 659.3Z" fill="#29ff00"/>
<path d="M505.9 642.6L511.8 641.4L507 639.1L501.1 640.4Z" fill="#fee800"/>
<path d="M553.4 650.4L559.3 649.5L554.6 647L548.6 647.9Z" fill="#beff00"/>
<path d="M600.6 660L606.5 659.3L601.8 656.6L595.9 657.4Z" fill="#42ff00"/>
<path d="M458.2 637.8L464.1 636.1L459.3 634L453.4 635.8Z" fill="#ffc100"/>
<path d="M447.5 637.6L453.4 635.8L448.6 633.8L442.7 635.6Z" fill="#ffbe00"/>
<path d="M495.1 641.7L501.1 640.4L496.3 638.1L490.4 639.5Z" fill="#ffde00"/>
<path d="M542.7 648.8L548.6 647.9L543.9 645.4L538 646.4Z" fill="#daff00"/>
<path d="M590 658.2L595.9 657.4L591.2 654.7L585.3 655.5Z" fill="#5aff00"/>
<path d="M532 647.4L538 646.4L533.2 644L527.3 645Z" fill="#f1fe00"/>
<path d="M484.4 640.9L490.4 639.5L485.6 637.3L479.6 638.7Z" fill="#ffd500"/>
<path d="M579.4 656.3L585.3 655.5L580.6 652.9L574.7 653.7Z" fill="#71ff00"/>
<path d="M568.8 654.6L574.7 653.7L570 651.1L564 652Z" fill="#8eff00"/>
<path d="M473.7 640.3L479.6 638.7L474.9 636.6L468.9 638.2Z" fill="#ffcd00"/>
<path d="M521.3 646.1L527.3 645L522.5 642.6L516.6 643.8Z" fill="#f6f500"/>
<path d="M615.8 664.7L621.7 663.9L617 661.2L611.2 662Z" fill="#1bff00"/>
<path d="M463 639.8L468.9 638.2L464.1 636.1L458.2 637.8Z" fill="#ffc700"/>
<path d="M510.6 644.9L516.6 643.8L511.8 641.4L505.9 642.6Z" fill="#fbed00"/>
<path d="M558.1 652.9L564 652L559.3 649.5L553.4 650.4Z" fill="#adff00"/>
<path d="M605.3 662.8L611.2 662L606.5 659.3L600.6 660Z" fill="#34ff00"/>
<path d="M547.5 651.3L553.4 650.4L548.6 647.9L542.7 648.8Z" fill="#c9ff00"/>
<path d="M594.7 660.8L600.6 660L595.9 657.4L590 658.2Z" fill="#4dff00"/>
<path d="M452.3 639.6L458.2 637.8L453.4 635.8L447.5 637.6Z" fill="#ffc400"/>
<path d="M499.9 643.9L505.9 642.6L501.1 640.4L495.1 641.7Z" fill="#ffe700"/>
<path d="M441.5 639.6L447.5 637.6L442.7 635.6L436.8 637.6Z" fill="#ffc300"/>
<path d="M489.2 643.1L495.1 641.7L490.4 639.5L484.4 640.9Z" fill="#ffdd00"/>
<path d="M536.8 649.8L542.7 648.8L538 646.4L532 647.4Z" fill="#e3ff00"/>
<path d="M584.1 659L590 658.2L585.3 655.5L579.4 656.3Z" fill="#64ff00"/>
<path d="M573.5 657.2L579.4 656.3L574.7 653.7L568.8 654.6Z" fill="#7cff00"/>
<path d="M620.5 667.5L626.4 666.7L621.7 663.9L615.8 664.7Z" fill="#0cff00"/>
<path d="M478.5 642.4L484.4 640.9L479.6 638.7L473.7 640.3Z" fill="#ffd400"/>
<path d="M526.1 648.5L532 647.4L527.3 645L521.3 646.1Z" fill="#f3fb00"/>
<path d="M467.8 641.9L473.7 640.3L468.9 638.2L463 639.8Z" fill="#ffce00"/>
<path d="M515.4 647.3L521.3 646.1L516.6 643.8L510.6 644.9Z" fill="#f7f300"/>
<path d="M562.9 655.5L568.8 654.6L564 652L558.1 652.9Z" fill="#9bff00"/>
<path d="M610 665.5L615.8 664.7L611.2 662L605.3 662.8Z" fill="#26ff00"/>
<path d="M457 641.6L463 639.8L458.2 637.8L452.3 639.6Z" fill="#ffca00"/>
<path d="M552.2 653.8L558.1 652.9L553.4 650.4L547.5 651.3Z" fill="#b8ff00"/>
<path d="M599.4 663.6L605.3 662.8L600.6 660L594.7 660.8Z" fill="#3fff00"/>
<path d="M504.7 646.2L510.6 644.9L505.9 642.6L499.9 643.9Z" fill="#fceb00"/>
<path d="M446.3 641.5L452.3 639.6L447.5 637.6L441.5 639.6Z" fill="#ffc800"/>
<path d="M494 645.3L499.9 643.9L495.1 641.7L489.2 643.1Z" fill="#ffe500"/>
<path d="M541.5 652.3L547.5 651.3L542.7 648.8L536.8 649.8Z" fill="#d3ff00"/>
<path d="M588.8 661.7L594.7 660.8L590 658.2L584.1 659Z" fill="#57ff00"/>
<path d="M435.6 641.7L441.5 639.6L436.8 637.6L430.8 639.8Z" fill="#ffc900"/>
<path d="M483.3 644.6L489.2 643.1L484.4 640.9L478.5 642.4Z" fill="#ffdc00"/>
<path d="M578.2 659.8L584.1 659L579.4 656.3L573.5 657.2Z" fill="#6eff00"/>
<path d="M625.2 670.4L631 669.6L626.4 666.7L620.5 667.5Z" fill="#08ff10"/>
<path d="M530.9 650.9L536.8 649.8L532 647.4L526.1 648.5Z" fill="#ecff00"/>
<path d="M472.5 644L478.5 642.4L473.7 640.3L467.8 641.9Z" fill="#ffd500"/>
<path d="M520.2 649.7L526.1 648.5L521.3 646.1L515.4 647.3Z" fill="#f4f800"/>
<path d="M567.6 658.1L573.5 657.2L568.8 654.6L562.9 655.5Z" fill="#89ff00"/>
<path d="M614.7 668.3L620.5 667.5L615.8 664.7L610 665.5Z" fill="#17ff00"/>
<path d="M461.8 643.7L467.8 641.9L463 639.8L457 641.6Z" fill="#ffd000"/>
<path d="M509.5 648.5L515.4 647.3L510.6 644.9L504.7 646.2Z" fill="#f9f100"/>
<path d="M557 656.4L562.9 655.5L558.1 652.9L552.2 653.8Z" fill="#a7ff00"/>
<path d="M604.1 666.3L610 665.5L605.3 662.8L599.4 663.6Z" fill="#30ff00"/>
<path d="M451.1 643.5L457 641.6L452.3 639.6L446.3 641.5Z" fill="#ffcd00"/>
<path d="M498.8 647.6L504.7 646.2L499.9 643.9L494 645.3Z" fill="#fdea00"/>
<path d="M546.3 654.8L552.2 653.8L547.5 651.3L541.5 652.3Z" fill="#c3ff00"/>
<path d="M593.5 664.4L599.4 663.6L594.7 660.8L588.8 661.7Z" fill="#49ff00"/>
<path d="M440.4 643.6L446.3 641.5L441.5 639.6L435.6 641.7Z" fill="#ffcd00"/>
<path d="M488 646.8L494 645.3L489.2 643.1L483.3 644.6Z" fill="#ffe400"/>
<path d="M535.6 653.4L541.5 652.3L536.8 649.8L530.9 650.9Z" fill="#dcff00"/>
<path d="M582.9 662.5L588.8 661.7L584.1 659L578.2 659.8Z" fill="#60ff00"/>
<path d="M629.9 673.3L635.7 672.4L631 669.6L625.2 670.4Z" fill="#07ff23"/>
<path d="M429.7 643.9L435.6 641.7L430.8 639.8L424.9 642Z" fill="#ffd000"/>
<path d="M477.3 646.2L483.3 644.6L478.5 642.4L472.5 644Z" fill="#ffdc00"/>
<path d="M524.9 652.1L530.9 650.9L526.1 648.5L520.2 649.7Z" fill="#f1fe00"/>
<path d="M572.3 660.7L578.2 659.8L573.5 657.2L567.6 658.1Z" fill="#77ff00"/>
<path d="M619.3 671.2L625.2 670.4L620.5 667.5L614.7 668.3Z" fill="#0aff02"/>
<path d="M466.6 645.7L472.5 644L467.8 641.9L461.8 643.7Z" fill="#ffd600"/>
<path d="M514.2 650.9L520.2 649.7L515.4 647.3L509.5 648.5Z" fill="#f6f600"/>
<path d="M561.7 659L567.6 658.1L562.9 655.5L557 656.4Z" fill="#95ff00"/>
<path d="M608.8 669.2L614.7 668.3L610 665.5L604.1 666.3Z" fill="#22ff00"/>
<path d="M455.9 645.5L461.8 643.7L457 641.6L451.1 643.5Z" fill="#ffd300"/>
<path d="M503.5 649.9L509.5 648.5L504.7 646.2L498.8 647.6Z" fill="#faef00"/>
<path d="M551 657.4L557 656.4L552.2 653.8L546.3 654.8Z" fill="#b2ff00"/>
<path d="M598.2 667.2L604.1 666.3L599.4 663.6L593.5 664.4Z" fill="#3bff00"/>
<path d="M445.2 645.5L451.1 643.5L446.3 641.5L440.4 643.6Z" fill="#ffd200"/>
<path d="M492.8 649L498.8 647.6L494 645.3L488 646.8Z" fill="#fde900"/>
<path d="M540.4 655.9L546.3 654.8L541.5 652.3L535.6 653.4Z" fill="#ccff00"/>
<path d="M587.7 665.3L593.5 664.4L588.8 661.7L582.9 662.5Z" fill="#53ff00"/>
<path d="M634.5 676.2L640.3 675.3L635.7 672.4L629.9 673.3Z" fill="#05ff36"/>
<path d="M434.5 645.7L440.4 643.6L435.6 641.7L429.7 643.9Z" fill="#ffd400"/>
<path d="M482.1 648.3L488 646.8L483.3 644.6L477.3 646.2Z" fill="#ffe300"/>
<path d="M529.7 654.5L535.6 653.4L530.9 650.9L524.9 652.1Z" fill="#e5ff00"/>
<path d="M577 663.4L582.9 662.5L578.2 659.8L572.3 660.7Z" fill="#6aff00"/>
<path d="M624 674.1L629.9 673.3L625.2 670.4L619.3 671.2Z" fill="#08ff15"/>
<path d="M471.4 647.8L477.3 646.2L472.5 644L466.6 645.7Z" fill="#ffdd00"/>
<path d="M566.4 661.6L572.3 660.7L567.6 658.1L561.7 659Z" fill="#83ff00"/>
<path d="M423.8 646.2L429.7 643.9L424.9 642L419 644.4Z" fill="#ffd800"/>
<path d="M519 653.3L524.9 652.1L520.2 649.7L514.2 650.9Z" fill="#f2fb00"/>
<path d="M613.5 672L619.3 671.2L614.7 668.3L608.8 669.2Z" fill="#13ff00"/>
<path d="M460.7 647.5L466.6 645.7L461.8 643.7L455.9 645.5Z" fill="#ffd900"/>
<path d="M508.3 652.2L514.2 650.9L509.5 648.5L503.5 649.9Z" fill="#f7f400"/>
<path d="M555.8 660L561.7 659L557 656.4L551 657.4Z" fill="#a0ff00"/>
<path d="M602.9 670L608.8 669.2L604.1 666.3L598.2 667.2Z" fill="#2dff00"/>
<path d="M497.6 651.2L503.5 649.9L498.8 647.6L492.8 649Z" fill="#faee00"/>
<path d="M592.4 668L598.2 667.2L593.5 664.4L587.7 665.3Z" fill="#45ff00"/>
<path d="M450 647.5L455.9 645.5L451.1 643.5L445.2 645.5Z" fill="#ffd700"/>
<path d="M545.1 658.4L551 657.4L546.3 654.8L540.4 655.9Z" fill="#bcff00"/>
<path d="M639.2 679.2L645 678.3L640.3 675.3L634.5 676.2Z" fill="#03ff49"/>
<path d="M628.7 677L634.5 676.2L629.9 673.3L624 674.1Z" fill="#06ff28"/>
<path d="M439.3 647.6L445.2 645.5L440.4 643.6L434.5 645.7Z" fill="#ffd800"/>
<path d="M486.9 650.5L492.8 649L488 646.8L482.1 648.3Z" fill="#fde900"/>
<path d="M534.4 657L540.4 655.9L535.6 653.4L529.7 654.5Z" fill="#d5ff00"/>
<path d="M581.8 666.1L587.7 665.3L582.9 662.5L577 663.4Z" fill="#5cff00"/>
<path d="M476.2 649.9L482.1 648.3L477.3 646.2L471.4 647.8Z" fill="#ffe300"/>
<path d="M523.8 655.7L529.7 654.5L524.9 652.1L519 653.3Z" fill="#ecff00"/>
<path d="M571.1 664.3L577 663.4L572.3 660.7L566.4 661.6Z" fill="#73ff00"/>
<path d="M618.2 674.9L624 674.1L619.3 671.2L613.5 672Z" fill="#09ff07"/>
<path d="M428.6 648L434.5 645.7L429.7 643.9L423.8 646.2Z" fill="#ffdb00"/>
<path d="M465.5 649.6L471.4 647.8L466.6 645.7L460.7 647.5Z" fill="#ffdf00"/>
<path d="M417.9 648.6L423.8 646.2L419 644.4L413.2 646.9Z" fill="#ffe100"/>
<path d="M513.1 654.5L519 653.3L514.2 650.9L508.3 652.2Z" fill="#f4f900"/>
<path d="M560.5 662.6L566.4 661.6L561.7 659L555.8 660Z" fill="#8fff00"/>
<path d="M607.6 672.9L613.5 672L608.8 669.2L602.9 670Z" fill="#1eff00"/>
<path d="M502.4 653.5L508.3 652.2L503.5 649.9L497.6 651.2Z" fill="#f8f200"/>
<path d="M597.1 670.8L602.9 670L598.2 667.2L592.4 668Z" fill="#37ff00"/>
<path d="M643.8 682.2L649.6 681.3L645 678.3L639.2 679.2Z" fill="#01ff5d"/>
<path d="M454.7 649.4L460.7 647.5L455.9 645.5L450 647.5Z" fill="#ffdc00"/>
<path d="M549.9 661L555.8 660L551 657.4L545.1 658.4Z" fill="#abff00"/>
<path d="M491.7 652.7L497.6 651.2L492.8 649L486.9 650.5Z" fill="#fbed00"/>
<path d="M539.2 659.5L545.1 658.4L540.4 655.9L534.4 657Z" fill="#c5ff00"/>
<path d="M633.3 680L639.2 679.2L634.5 676.2L628.7 677Z" fill="#04ff3b"/>
<path d="M444 649.5L450 647.5L445.2 645.5L439.3 647.6Z" fill="#ffdc00"/>
<path d="M586.5 668.9L592.4 668L587.7 665.3L581.8 666.1Z" fill="#4fff00"/>
<path d="M575.9 667L581.8 666.1L577 663.4L571.1 664.3Z" fill="#66ff00"/>
<path d="M433.4 649.8L439.3 647.6L434.5 645.7L428.6 648Z" fill="#ffde00"/>
<path d="M480.9 652.1L486.9 650.5L482.1 648.3L476.2 649.9Z" fill="#fee800"/>
<path d="M528.5 658.1L534.4 657L529.7 654.5L523.8 655.7Z" fill="#ddff00"/>
<path d="M622.8 677.9L628.7 677L624 674.1L618.2 674.9Z" fill="#07ff1a"/>
<path d="M517.8 656.9L523.8 655.7L519 653.3L513.1 654.5Z" fill="#f1fe00"/>
<path d="M565.2 665.2L571.1 664.3L566.4 661.6L560.5 662.6Z" fill="#7dff00"/>
<path d="M422.7 650.4L428.6 648L423.8 646.2L417.9 648.6Z" fill="#ffe300"/>
<path d="M470.2 651.7L476.2 649.9L471.4 647.8L465.5 649.6Z" fill="#ffe500"/>
<path d="M612.3 675.8L618.2 674.9L613.5 672L607.6 672.9Z" fill="#0fff00"/>
<path d="M459.5 651.4L465.5 649.6L460.7 647.5L454.7 649.4Z" fill="#ffe100"/>
<path d="M601.7 673.7L607.6 672.9L602.9 670L597.1 670.8Z" fill="#29ff00"/>
<path d="M507.1 655.8L513.1 654.5L508.3 652.2L502.4 653.5Z" fill="#f5f700"/>
<path d="M554.6 663.6L560.5 662.6L555.8 660L549.9 661Z" fill="#9aff00"/>
<path d="M496.4 655L502.4 653.5L497.6 651.2L491.7 652.7Z" fill="#f8f100"/>
<path d="M543.9 662L549.9 661L545.1 658.4L539.2 659.5Z" fill="#b5ff00"/>
<path d="M638 683L643.8 682.2L639.2 679.2L633.3 680Z" fill="#02ff4f"/>
<path d="M448.8 651.4L454.7 649.4L450 647.5L444 649.5Z" fill="#ffe000"/>
<path d="M591.2 671.7L597.1 670.8L592.4 668L586.5 668.9Z" fill="#41ff00"/>
<path d="M485.7 654.3L491.7 652.7L486.9 650.5L480.9 652.1Z" fill="#fbec00"/>
<path d="M533.3 660.6L539.2 659.5L534.4 657L528.5 658.1Z" fill="#ceff00"/>
<path d="M580.6 669.8L586.5 668.9L581.8 666.1L575.9 667Z" fill="#58ff00"/>
<path d="M627.5 680.8L633.3 680L628.7 677L622.8 677.9Z" fill="#05ff2d"/>
<path d="M438.1 651.7L444 649.5L439.3 647.6L433.4 649.8Z" fill="#ffe200"/>
<path d="M427.5 652.1L433.4 649.8L428.6 648L422.7 650.4Z" fill="#ffe600"/>
<path d="M522.6 659.3L528.5 658.1L523.8 655.7L517.8 656.9Z" fill="#e5ff00"/>
<path d="M570 667.9L575.9 667L571.1 664.3L565.2 665.2Z" fill="#6fff00"/>
<path d="M475 653.7L480.9 652.1L476.2 649.9L470.2 651.7Z" fill="#fde900"/>
<path d="M617 678.7L622.8 677.9L618.2 674.9L612.3 675.8Z" fill="#09ff0c"/>
<path d="M464.3 653.5L470.2 651.7L465.5 649.6L459.5 651.4Z" fill="#ffe600"/>
<path d="M511.9 658.2L517.8 656.9L513.1 654.5L507.1 655.8Z" fill="#f2fc00"/>
<path d="M559.3 666.2L565.2 665.2L560.5 662.6L554.6 663.6Z" fill="#89ff00"/>
<path d="M606.4 676.6L612.3 675.8L607.6 672.9L601.7 673.7Z" fill="#1aff00"/>
<path d="M453.6 653.4L459.5 651.4L454.7 649.4L448.8 651.4Z" fill="#ffe500"/>
<path d="M501.2 657.2L507.1 655.8L502.4 653.5L496.4 655Z" fill="#f6f600"/>
<path d="M548.7 664.6L554.6 663.6L549.9 661L543.9 662Z" fill="#a5ff00"/>
<path d="M595.9 674.5L601.7 673.7L597.1 670.8L591.2 671.7Z" fill="#33ff00"/>
<path d="M490.5 656.5L496.4 655L491.7 652.7L485.7 654.3Z" fill="#f9f000"/>
<path d="M538 663.1L543.9 662L539.2 659.5L533.3 660.6Z" fill="#bfff00"/>
<path d="M585.3 672.6L591.2 671.7L586.5 668.9L580.6 669.8Z" fill="#4bff00"/>
<path d="M632.1 683.9L638 683L633.3 680L627.5 680.8Z" fill="#04ff41"/>
<path d="M442.9 653.5L448.8 651.4L444 649.5L438.1 651.7Z" fill="#ffe500"/>
<path d="M432.2 653.9L438.1 651.7L433.4 649.8L427.5 652.1Z" fill="#fee700"/>
<path d="M479.8 655.9L485.7 654.3L480.9 652.1L475 653.7Z" fill="#fbec00"/>
<path d="M527.3 661.8L533.3 660.6L528.5 658.1L522.6 659.3Z" fill="#d6ff00"/>
<path d="M574.7 670.7L580.6 669.8L575.9 667L570 667.9Z" fill="#62ff00"/>
<path d="M621.6 681.7L627.5 680.8L622.8 677.9L617 678.7Z" fill="#07ff1f"/>
<path d="M469.1 655.5L475 653.7L470.2 651.7L464.3 653.5Z" fill="#fde900"/>
<path d="M516.7 660.6L522.6 659.3L517.8 656.9L511.9 658.2Z" fill="#ebff00"/>
<path d="M564.1 668.9L570 667.9L565.2 665.2L559.3 666.2Z" fill="#77ff00"/>
<path d="M611.1 679.5L617 678.7L612.3 675.8L606.4 676.6Z" fill="#0bff00"/>
<path d="M458.4 655.3L464.3 653.5L459.5 651.4L453.6 653.4Z" fill="#fee800"/>
<path d="M506 659.5L511.9 658.2L507.1 655.8L501.2 657.2Z" fill="#f3fa00"/>
<path d="M553.4 667.2L559.3 666.2L554.6 663.6L548.7 664.6Z" fill="#94ff00"/>
<path d="M600.6 677.4L606.4 676.6L601.7 673.7L595.9 674.5Z" fill="#25ff00"/>
<path d="M447.7 655.4L453.6 653.4L448.8 651.4L442.9 653.5Z" fill="#fee800"/>
<path d="M495.3 658.7L501.2 657.2L496.4 655L490.5 656.5Z" fill="#f6f400"/>
<path d="M542.8 665.6L548.7 664.6L543.9 662L538 663.1Z" fill="#afff00"/>
<path d="M590 675.4L595.9 674.5L591.2 671.7L585.3 672.6Z" fill="#3dff00"/>
<path d="M437 655.7L442.9 653.5L438.1 651.7L432.2 653.9Z" fill="#fde900"/>
<path d="M484.5 658L490.5 656.5L485.7 654.3L479.8 655.9Z" fill="#f9f000"/>
<path d="M532.1 664.2L538 663.1L533.3 660.6L527.3 661.8Z" fill="#c7ff00"/>
<path d="M579.4 673.4L585.3 672.6L580.6 669.8L574.7 670.7Z" fill="#55ff00"/>
<path d="M626.3 684.7L632.1 683.9L627.5 680.8L621.6 681.7Z" fill="#05ff32"/>
<path d="M473.8 657.6L479.8 655.9L475 653.7L469.1 655.5Z" fill="#fbed00"/>
<path d="M521.4 663L527.3 661.8L522.6 659.3L516.7 660.6Z" fill="#ddff00"/>
<path d="M568.8 671.6L574.7 670.7L570 667.9L564.1 668.9Z" fill="#6bff00"/>
<path d="M615.8 682.5L621.6 681.7L617 678.7L611.1 679.5Z" fill="#08ff11"/>
<path d="M463.1 657.3L469.1 655.5L464.3 653.5L458.4 655.3Z" fill="#fceb00"/>
<path d="M510.7 661.9L516.7 660.6L511.9 658.2L506 659.5Z" fill="#f0ff00"/>
<path d="M558.2 669.8L564.1 668.9L559.3 666.2L553.4 667.2Z" fill="#83ff00"/>
<path d="M605.2 680.3L611.1 679.5L606.4 676.6L600.6 677.4Z" fill="#16ff00"/>
<path d="M500 660.9L506 659.5L501.2 657.2L495.3 658.7Z" fill="#f4f900"/>
<path d="M594.7 678.3L600.6 677.4L595.9 674.5L590 675.4Z" fill="#2fff00"/>
<path d="M452.4 657.3L458.4 655.3L453.6 653.4L447.7 655.4Z" fill="#fdea00"/>
<path d="M547.5 668.2L553.4 667.2L548.7 664.6L542.8 665.6Z" fill="#9fff00"/>
<path d="M441.8 657.6L447.7 655.4L442.9 653.5L437 655.7Z" fill="#fceb00"/>
<path d="M489.3 660.2L495.3 658.7L490.5 656.5L484.5 658Z" fill="#f7f400"/>
<path d="M536.8 666.7L542.8 665.6L538 663.1L532.1 664.2Z" fill="#b8ff00"/>
<path d="M584.1 676.2L590 675.4L585.3 672.6L579.4 673.4Z" fill="#47ff00"/>
<path d="M620.4 685.5L626.3 684.7L621.6 681.7L615.8 682.5Z" fill="#06ff24"/>
<path d="M478.6 659.7L484.5 658L479.8 655.9L473.8 657.6Z" fill="#f9f000"/>
<path d="M526.2 665.4L532.1 664.2L527.3 661.8L521.4 663Z" fill="#cfff00"/>
<path d="M573.5 674.3L579.4 673.4L574.7 670.7L568.8 671.6Z" fill="#5eff00"/>
<path d="M467.9 659.3L473.8 657.6L469.1 655.5L463.1 657.3Z" fill="#fbed00"/>
<path d="M515.5 664.2L521.4 663L516.7 660.6L510.7 661.9Z" fill="#e4ff00"/>
<path d="M562.9 672.5L568.8 671.6L564.1 668.9L558.2 669.8Z" fill="#73ff00"/>
<path d="M609.9 683.3L615.8 682.5L611.1 679.5L605.2 680.3Z" fill="#0aff04"/>
<path d="M504.8 663.2L510.7 661.9L506 659.5L500 660.9Z" fill="#f1fd00"/>
<path d="M599.4 681.2L605.2 680.3L600.6 677.4L594.7 678.3Z" fill="#21ff00"/>
<path d="M457.2 659.2L463.1 657.3L458.4 655.3L452.4 657.3Z" fill="#fbec00"/>
<path d="M552.2 670.8L558.2 669.8L553.4 667.2L547.5 668.2Z" fill="#8eff00"/>
<path d="M446.5 659.4L452.4 657.3L447.7 655.4L441.8 657.6Z" fill="#fbed00"/>
<path d="M494.1 662.4L500 660.9L495.3 658.7L489.3 660.2Z" fill="#f4f800"/>
<path d="M541.6 669.3L547.5 668.2L542.8 665.6L536.8 666.7Z" fill="#a9ff00"/>
<path d="M588.8 679.1L594.7 678.3L590 675.4L584.1 676.2Z" fill="#39ff00"/>
<path d="M530.9 667.9L536.8 666.7L532.1 664.2L526.2 665.4Z" fill="#c1ff00"/>
<path d="M483.4 661.8L489.3 660.2L484.5 658L478.6 659.7Z" fill="#f7f300"/>
<path d="M578.2 677.1L584.1 676.2L579.4 673.4L573.5 674.3Z" fill="#51ff00"/>
<path d="M472.7 661.4L478.6 659.7L473.8 657.6L467.9 659.3Z" fill="#f9f000"/>
<path d="M520.2 666.6L526.2 665.4L521.4 663L515.5 664.2Z" fill="#d7ff00"/>
<path d="M567.6 675.2L573.5 674.3L568.8 671.6L562.9 672.5Z" fill="#67ff00"/>
<path d="M614.6 686.3L620.4 685.5L615.8 682.5L609.9 683.3Z" fill="#08ff16"/>
<path d="M509.5 665.5L515.5 664.2L510.7 661.9L504.8 663.2Z" fill="#e9ff00"/>
<path d="M604.1 684.1L609.9 683.3L605.2 680.3L599.4 681.2Z" fill="#12ff00"/>
<path d="M462 661.2L467.9 659.3L463.1 657.3L457.2 659.2Z" fill="#faef00"/>
<path d="M557 673.5L562.9 672.5L558.2 669.8L552.2 670.8Z" fill="#7dff00"/>
<path d="M451.3 661.3L457.2 659.2L452.4 657.3L446.5 659.4Z" fill="#faee00"/>
<path d="M498.8 664.6L504.8 663.2L500 660.9L494.1 662.4Z" fill="#f2fc00"/>
<path d="M546.3 671.8L552.2 670.8L547.5 668.2L541.6 669.3Z" fill="#99ff00"/>
<path d="M593.5 682L599.4 681.2L594.7 678.3L588.8 679.1Z" fill="#2bff00"/>
<path d="M488.1 663.9L494.1 662.4L489.3 660.2L483.4 661.8Z" fill="#f5f700"/>
<path d="M535.7 670.4L541.6 669.3L536.8 666.7L530.9 667.9Z" fill="#b2ff00"/>
<path d="M582.9 679.9L588.8 679.1L584.1 676.2L578.2 677.1Z" fill="#44ff00"/>
<path d="M525 669L530.9 667.9L526.2 665.4L520.2 666.6Z" fill="#c9ff00"/>
<path d="M572.3 678L578.2 677.1L573.5 674.3L567.6 675.2Z" fill="#5aff00"/>
<path d="M477.4 663.4L483.4 661.8L478.6 659.7L472.7 661.4Z" fill="#f7f300"/>
<path d="M514.3 667.9L520.2 666.6L515.5 664.2L509.5 665.5Z" fill="#ddff00"/>
<path d="M608.7 687.1L614.6 686.3L609.9 683.3L604.1 684.1Z" fill="#09ff08"/>
<path d="M466.7 663.2L472.7 661.4L467.9 659.3L462 661.2Z" fill="#f8f100"/>
<path d="M561.7 676.2L567.6 675.2L562.9 672.5L557 673.5Z" fill="#70ff00"/>
<path d="M456 663.1L462 661.2L457.2 659.2L451.3 661.3Z" fill="#f9f000"/>
<path d="M503.6 666.9L509.5 665.5L504.8 663.2L498.8 664.6Z" fill="#eeff00"/>
<path d="M551.1 674.4L557 673.5L552.2 670.8L546.3 671.8Z" fill="#89ff00"/>
<path d="M598.2 684.9L604.1 684.1L599.4 681.2L593.5 682Z" fill="#1dff00"/>
<path d="M492.9 666.1L498.8 664.6L494.1 662.4L488.1 663.9Z" fill="#f3fa00"/>
<path d="M540.4 672.9L546.3 671.8L541.6 669.3L535.7 670.4Z" fill="#a4ff00"/>
<path d="M587.6 682.8L593.5 682L588.8 679.1L582.9 679.9Z" fill="#36ff00"/>
<path d="M482.2 665.5L488.1 663.9L483.4 661.8L477.4 663.4Z" fill="#f5f600"/>
<path d="M529.7 671.5L535.7 670.4L530.9 667.9L525 669Z" fill="#bcff00"/>
<path d="M577 680.8L582.9 679.9L578.2 677.1L572.3 678Z" fill="#4eff00"/>
<path d="M519 670.2L525 669L520.2 666.6L514.3 667.9Z" fill="#d1ff00"/>
<path d="M566.4 678.9L572.3 678L567.6 675.2L561.7 676.2Z" fill="#64ff00"/>
<path d="M471.5 665.1L477.4 663.4L472.7 661.4L466.7 663.2Z" fill="#f7f400"/>
<path d="M460.8 665L466.7 663.2L462 661.2L456 663.1Z" fill="#f8f200"/>
<path d="M508.4 669.1L514.3 667.9L509.5 665.5L503.6 666.9Z" fill="#e3ff00"/>
<path d="M555.8 677.1L561.7 676.2L557 673.5L551.1 674.4Z" fill="#79ff00"/>
<path d="M602.9 687.9L608.7 687.1L604.1 684.1L598.2 684.9Z" fill="#0fff00"/>
<path d="M497.7 668.3L503.6 666.9L498.8 664.6L492.9 666.1Z" fill="#f1fe00"/>
<path d="M545.1 675.4L551.1 674.4L546.3 671.8L540.4 672.9Z" fill="#94ff00"/>
<path d="M592.3 685.7L598.2 684.9L593.5 682L587.6 682.8Z" fill="#28ff00"/>
<path d="M487 667.6L492.9 666.1L488.1 663.9L482.2 665.5Z" fill="#f3fa00"/>
<path d="M534.5 673.9L540.4 672.9L535.7 670.4L529.7 671.5Z" fill="#aeff00"/>
<path d="M581.7 683.6L587.6 682.8L582.9 679.9L577 680.8Z" fill="#41ff00"/>
<path d="M476.3 667.2L482.2 665.5L477.4 663.4L471.5 665.1Z" fill="#f5f600"/>
<path d="M523.8 672.6L529.7 671.5L525 669L519 670.2Z" fill="#c4ff00"/>
<path d="M571.1 681.6L577 680.8L572.3 678L566.4 678.9Z" fill="#58ff00"/>
<path d="M465.6 666.9L471.5 665.1L466.7 663.2L460.8 665Z" fill="#f6f400"/>
<path d="M513.1 671.5L519 670.2L514.3 667.9L508.4 669.1Z" fill="#d8ff00"/>
<path d="M560.5 679.8L566.4 678.9L561.7 676.2L555.8 677.1Z" fill="#6dff00"/>
<path d="M502.4 670.5L508.4 669.1L503.6 666.9L497.7 668.3Z" fill="#e8ff00"/>
<path d="M549.9 678L555.8 677.1L551.1 674.4L545.1 675.4Z" fill="#85ff00"/>
<path d="M597 688.6L602.9 687.9L598.2 684.9L592.3 685.7Z" fill="#1aff00"/>
<path d="M491.7 669.7L497.7 668.3L492.9 666.1L487 667.6Z" fill="#f1fd00"/>
<path d="M539.2 676.4L545.1 675.4L540.4 672.9L534.5 673.9Z" fill="#9fff00"/>
<path d="M586.4 686.5L592.3 685.7L587.6 682.8L581.7 683.6Z" fill="#33ff00"/>
<path d="M481 669.2L487 667.6L482.2 665.5L476.3 667.2Z" fill="#f4f900"/>
<path d="M528.5 675L534.5 673.9L529.7 671.5L523.8 672.6Z" fill="#b7ff00"/>
<path d="M575.8 684.4L581.7 683.6L577 680.8L571.1 681.6Z" fill="#4bff00"/>
<path d="M470.3 668.9L476.3 667.2L471.5 665.1L465.6 666.9Z" fill="#f5f700"/>
<path d="M517.9 673.8L523.8 672.6L519 670.2L513.1 671.5Z" fill="#ccff00"/>
<path d="M565.2 682.5L571.1 681.6L566.4 678.9L560.5 679.8Z" fill="#61ff00"/>
<path d="M507.2 672.7L513.1 671.5L508.4 669.1L502.4 670.5Z" fill="#deff00"/>
<path d="M554.6 680.7L560.5 679.8L555.8 677.1L549.9 678Z" fill="#76ff00"/>
<path d="M543.9 679L549.9 678L545.1 675.4L539.2 676.4Z" fill="#91ff00"/>
<path d="M591.1 689.4L597 688.6L592.3 685.7L586.4 686.5Z" fill="#26ff00"/>
<path d="M496.5 671.9L502.4 670.5L497.7 668.3L491.7 669.7Z" fill="#edff00"/>
<path d="M485.8 671.2L491.7 669.7L487 667.6L481 669.2Z" fill="#f2fc00"/>
<path d="M533.3 677.5L539.2 676.4L534.5 673.9L528.5 675Z" fill="#aaff00"/>
<path d="M580.5 687.2L586.4 686.5L581.7 683.6L575.8 684.4Z" fill="#3eff00"/>
<path d="M475.1 670.8L481 669.2L476.3 667.2L470.3 668.9Z" fill="#f4f900"/>
<path d="M522.6 676.1L528.5 675L523.8 672.6L517.9 673.8Z" fill="#c0ff00"/>
<path d="M569.9 685.2L575.8 684.4L571.1 681.6L565.2 682.5Z" fill="#55ff00"/>
<path d="M511.9 675L517.9 673.8L513.1 671.5L507.2 672.7Z" fill="#d3ff00"/>
<path d="M559.3 683.3L565.2 682.5L560.5 679.8L554.6 680.7Z" fill="#6bff00"/>
<path d="M501.2 674.1L507.2 672.7L502.4 670.5L496.5 671.9Z" fill="#e3ff00"/>
<path d="M548.7 681.6L554.6 680.7L549.9 678L543.9 679Z" fill="#82ff00"/>
<path d="M490.5 673.3L496.5 671.9L491.7 669.7L485.8 671.2Z" fill="#f0ff00"/>
<path d="M538 680L543.9 679L539.2 676.4L533.3 677.5Z" fill="#9cff00"/>
<path d="M585.2 690.1L591.1 689.4L586.4 686.5L580.5 687.2Z" fill="#31ff00"/>
<path d="M479.8 672.8L485.8 671.2L481 669.2L475.1 670.8Z" fill="#f2fb00"/>
<path d="M527.4 678.5L533.3 677.5L528.5 675L522.6 676.1Z" fill="#b4ff00"/>
<path d="M574.7 688L580.5 687.2L575.8 684.4L569.9 685.2Z" fill="#49ff00"/>
<path d="M516.7 677.3L522.6 676.1L517.9 673.8L511.9 675Z" fill="#c8ff00"/>
<path d="M564 686L569.9 685.2L565.2 682.5L559.3 683.3Z" fill="#60ff00"/>
<path d="M506 676.2L511.9 675L507.2 672.7L501.2 674.1Z" fill="#daff00"/>
<path d="M553.4 684.2L559.3 683.3L554.6 680.7L548.7 681.6Z" fill="#74ff00"/>
<path d="M495.3 675.4L501.2 674.1L496.5 671.9L490.5 673.3Z" fill="#e8ff00"/>
<path d="M542.8 682.5L548.7 681.6L543.9 679L538 680Z" fill="#8eff00"/>
<path d="M484.6 674.8L490.5 673.3L485.8 671.2L479.8 672.8Z" fill="#f1fe00"/>
<path d="M532.1 681L538 680L533.3 677.5L527.4 678.5Z" fill="#a7ff00"/>
<path d="M579.4 690.8L585.2 690.1L580.5 687.2L574.7 688Z" fill="#3dff00"/>
<path d="M521.4 679.6L527.4 678.5L522.6 676.1L516.7 677.3Z" fill="#bdff00"/>
<path d="M568.8 688.7L574.7 688L569.9 685.2L564 686Z" fill="#54ff00"/>
<path d="M558.1 686.8L564 686L559.3 683.3L553.4 684.2Z" fill="#6aff00"/>
<path d="M510.7 678.5L516.7 677.3L511.9 675L506 676.2Z" fill="#d0ff00"/>
<path d="M500 677.5L506 676.2L501.2 674.1L495.3 675.4Z" fill="#e0ff00"/>
<path d="M547.5 685L553.4 684.2L548.7 681.6L542.8 682.5Z" fill="#80ff00"/>
<path d="M489.4 676.8L495.3 675.4L490.5 673.3L484.6 674.8Z" fill="#edff00"/>
<path d="M536.8 683.4L542.8 682.5L538 680L532.1 681Z" fill="#9aff00"/>
<path d="M526.2 682L532.1 681L527.4 678.5L521.4 679.6Z" fill="#b2ff00"/>
<path d="M573.5 691.5L579.4 690.8L574.7 688L568.8 688.7Z" fill="#48ff00"/>
<path d="M515.5 680.7L521.4 679.6L516.7 677.3L510.7 678.5Z" fill="#c6ff00"/>
<path d="M562.9 689.5L568.8 688.7L564 686L558.1 686.8Z" fill="#5fff00"/>
<path d="M504.8 679.7L510.7 678.5L506 676.2L500 677.5Z" fill="#d8ff00"/>
<path d="M552.2 687.6L558.1 686.8L553.4 684.2L547.5 685Z" fill="#74ff00"/>
<path d="M494.1 678.8L500 677.5L495.3 675.4L489.4 676.8Z" fill="#e6ff00"/>
<path d="M541.6 685.9L547.5 685L542.8 682.5L536.8 683.4Z" fill="#8dff00"/>
<path d="M530.9 684.3L536.8 683.4L532.1 681L526.2 682Z" fill="#a6ff00"/>
<path d="M567.6 692.2L573.5 691.5L568.8 688.7L562.9 689.5Z" fill="#54ff00"/>
<path d="M520.2 683L526.2 682L521.4 679.6L515.5 680.7Z" fill="#bcff00"/>
<path d="M509.6 681.8L515.5 680.7L510.7 678.5L504.8 679.7Z" fill="#cfff00"/>
<path d="M556.9 690.2L562.9 689.5L558.1 686.8L552.2 687.6Z" fill="#6aff00"/>
<path d="M498.9 680.9L504.8 679.7L500 677.5L494.1 678.8Z" fill="#dfff00"/>
<path d="M546.3 688.4L552.2 687.6L547.5 685L541.6 685.9Z" fill="#80ff00"/>
<path d="M535.7 686.7L541.6 685.9L536.8 683.4L530.9 684.3Z" fill="#9aff00"/>
<path d="M525 685.3L530.9 684.3L526.2 682L520.2 683Z" fill="#b2ff00"/>
<path d="M561.7 692.8L567.6 692.2L562.9 689.5L556.9 690.2Z" fill="#5fff00"/>
<path d="M514.3 684L520.2 683L515.5 680.7L509.6 681.8Z" fill="#c6ff00"/>
<path d="M503.6 683L509.6 681.8L504.8 679.7L498.9 680.9Z" fill="#d7ff00"/>
<path d="M551 690.9L556.9 690.2L552.2 687.6L546.3 688.4Z" fill="#74ff00"/>
<path d="M540.4 689.2L546.3 688.4L541.6 685.9L535.7 686.7Z" fill="#8eff00"/>
<path d="M529.7 687.6L535.7 686.7L530.9 684.3L525 685.3Z" fill="#a7ff00"/>
<path d="M519 686.2L525 685.3L520.2 683L514.3 684Z" fill="#bdff00"/>
<path d="M508.4 685.1L514.3 684L509.6 681.8L503.6 683Z" fill="#d0ff00"/>
<path d="M555.8 693.5L561.7 692.8L556.9 690.2L551 690.9Z" fill="#6bff00"/>
<path d="M545.1 691.6L551 690.9L546.3 688.4L540.4 689.2Z" fill="#82ff00"/>
<path d="M534.5 689.9L540.4 689.2L535.7 686.7L529.7 687.6Z" fill="#9cff00"/>
<path d="M523.8 688.5L529.7 687.6L525 685.3L519 686.2Z" fill="#b4ff00"/>
<path d="M513.1 687.2L519 686.2L514.3 684L508.4 685.1Z" fill="#c8ff00"/>
<path d="M549.8 694.1L555.8 693.5L551 690.9L545.1 691.6Z" fill="#76ff00"/>
<path d="M539.2 692.3L545.1 691.6L540.4 689.2L534.5 689.9Z" fill="#91ff00"/>
<path d="M528.5 690.7L534.5 689.9L529.7 687.6L523.8 688.5Z" fill="#aaff00"/>
<path d="M517.8 689.3L523.8 688.5L519 686.2L513.1 687.2Z" fill="#c0ff00"/>
<path d="M543.9 694.7L549.8 694.1L545.1 691.6L539.2 692.3Z" fill="#86ff00"/>
<path d="M533.3 693L539.2 692.3L534.5 689.9L528.5 690.7Z" fill="#a0ff00"/>
<path d="M522.6 691.5L528.5 690.7L523.8 688.5L517.8 689.3Z" fill="#b8ff00"/>
<path d="M538 695.3L543.9 694.7L539.2 692.3L533.3 693Z" fill="#96ff00"/>
<path d="M527.3 693.7L533.3 693L528.5 690.7L522.6 691.5Z" fill="#afff00"/>
<path d="M532.1 695.9L538 695.3L533.3 693L527.3 693.7Z" fill="#a7ff00"/>
</g>
<circle cx="531.8" cy="636.6" r="2.45" fill="#ba0a0a" stroke="#5e0000" stroke-width=".7"/>
<circle cx="531.8" cy="643.8" r="2.45" fill="#ba0a0a" stroke="#5e0000" stroke-width=".7"/>
<circle cx="531.8" cy="646" r="2.45" fill="#ba0a0a" stroke="#5e0000" stroke-width=".7"/>
<circle cx="531.8" cy="650.4" r="2.45" fill="#ba0a0a" stroke="#5e0000" stroke-width=".7"/>
<path d="M417.4 741.1h0M416.4 717.6h0M415.3 694h0M414.2 670.5h0M413.2 647h0M412.1 623.5h0M531.8 832.3h0M544.4 826.3h0M556.9 820.3h0M569.5 814.3h0M582.1 808.3h0M594.6 802.3h0M607.2 796.3h0M619.8 790.3h0M632.3 784.3h0M644.9 778.3h0M531.8 832.3h0M513 823.2h0M494.2 814.1h0M475.4 805h0M456.7 796h0M437.9 786.9h0M419.1 777.8h0" stroke="#000" stroke-width="2.4" stroke-linecap="round"/>
<text class="t" text-anchor="end" transform="translate(412.9 739.5) scale(.86 1)">0</text>
<text class="t" text-anchor="end" transform="translate(411.9 716) scale(.86 1)">20</text>
<text class="t" text-anchor="end" transform="translate(410.8 692.4) scale(.86 1)">40</text>
<text class="t" text-anchor="end" transform="translate(409.7 668.9) scale(.86 1)">60</text>
<text class="t" text-anchor="end" transform="translate(408.7 645.4) scale(.86 1)">80</text>
<text class="t" text-anchor="end" transform="translate(407.6 621.9) scale(.86 1)">100</text>
<text class="t" transform="translate(536 841.6) scale(.86 1)">10</text>
<text class="t" transform="translate(548.6 835.6) scale(.86 1)">20</text>
<text class="t" transform="translate(561.1 829.6) scale(.86 1)">30</text>
<text class="t" transform="translate(573.7 823.6) scale(.86 1)">40</text>
<text class="t" transform="translate(586.3 817.6) scale(.86 1)">50</text>
<text class="t" transform="translate(598.8 811.6) scale(.86 1)">60</text>
<text class="t" transform="translate(611.4 805.6) scale(.86 1)">70</text>
<text class="t" transform="translate(624 799.6) scale(.86 1)">80</text>
<text class="t" transform="translate(636.5 793.6) scale(.86 1)">90</text>
<text class="t" transform="translate(649.1 787.6) scale(.86 1)">100</text>
<text class="t" text-anchor="end" transform="translate(527.6 841.6) scale(.86 1)">0.02</text>
<text class="t" text-anchor="end" transform="translate(508.8 832.5) scale(.86 1)">0.03</text>
<text class="t" text-anchor="end" transform="translate(490 823.4) scale(.86 1)">0.04</text>
<text class="t" text-anchor="end" transform="translate(471.2 814.3) scale(.86 1)">0.05</text>
<text class="t" text-anchor="end" transform="translate(452.5 805.3) scale(.86 1)">0.06</text>
<text class="t" text-anchor="end" transform="translate(433.7 796.2) scale(.86 1)">0.07</text>
<text class="t" text-anchor="end" transform="translate(414.9 787.1) scale(.86 1)">0.08</text>
<text class="b" x="390.7" y="824.8" text-anchor="start">D: adsorb</text>
<text class="b" x="390.7" y="841.1" text-anchor="start">material (g)</text>
<text class="b" x="624.8" y="829.1" text-anchor="middle">C: color</text>
<text class="b" x="628.1" y="844.2" text-anchor="middle">(g/ml)</text>
<text class="b" text-anchor="middle" transform="translate(386.2 699.4) rotate(-90)">Decoloring</text>
<text class="h" x="354.2" y="605">(f)</text>
</svg>
</body></html>
